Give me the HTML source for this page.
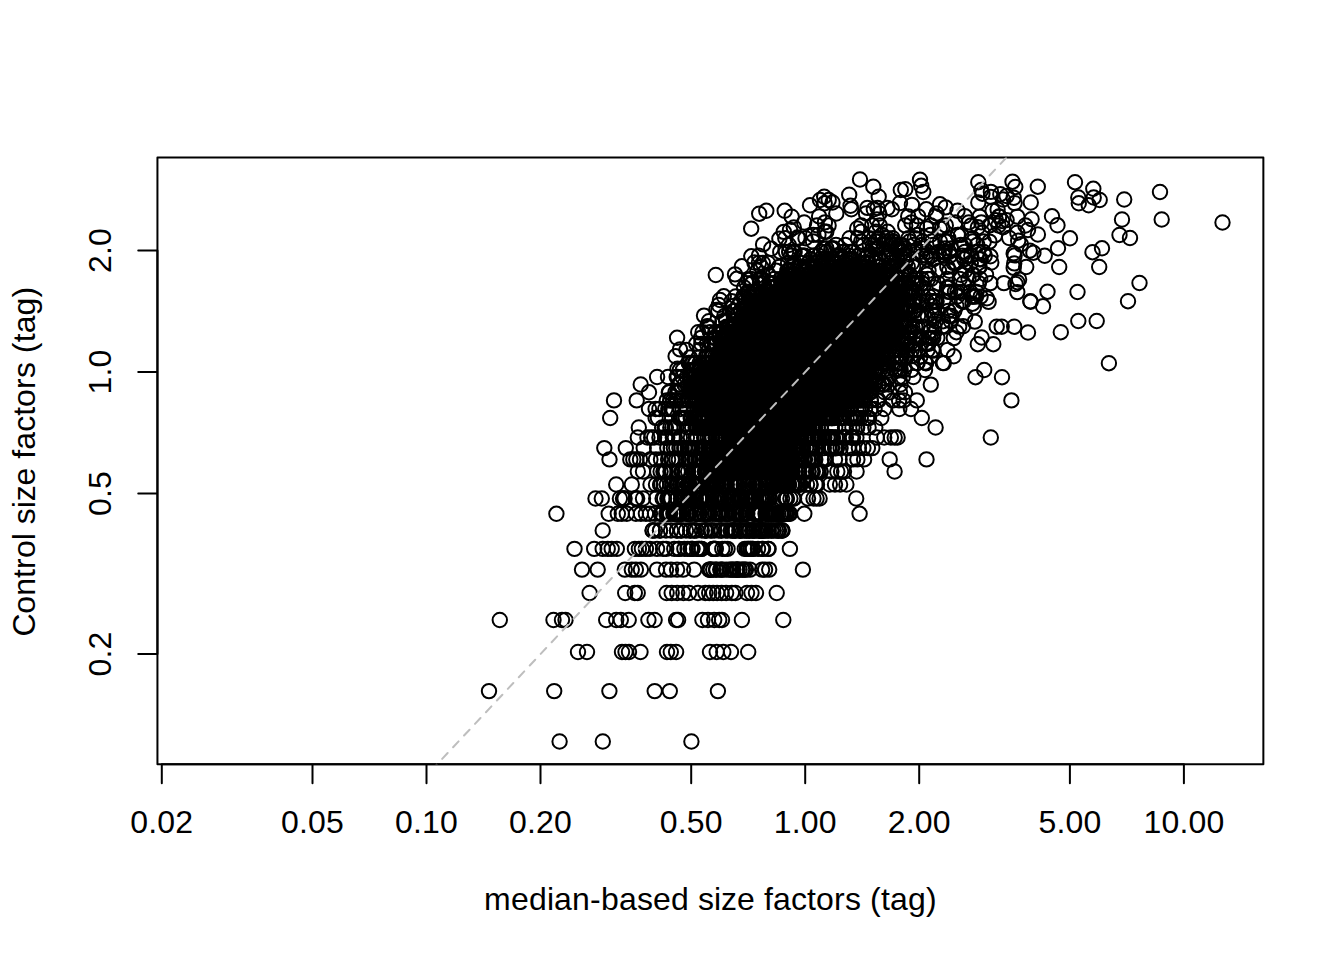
<!DOCTYPE html>
<html><head><meta charset="utf-8"><title>plot</title>
<style>html,body{margin:0;padding:0;background:#fff}svg{display:block}text{font-family:"Liberation Sans",sans-serif;font-size:32px;fill:#000}</style></head>
<body>
<svg width="1344" height="960" viewBox="0 0 1344 960">
<rect width="1344" height="960" fill="#fff"/>
<defs><clipPath id="c"><rect x="157.44" y="157.44" width="1105.92" height="606.72"/></clipPath></defs>
<polygon clip-path="url(#c)" points="689.7,388.0 867.1,388.0 870.5,376.6 870.9,375.4 871.4,374.4 872.0,373.3 882.0,358.3 882.7,357.4 883.5,356.5 900.6,339.4 903.1,318.6 903.1,318.2 905.7,301.4 899.8,286.7 889.6,276.5 876.7,268.8 863.4,263.5 849.9,260.3 815.9,267.6 795.6,273.4 781.6,278.4 768.5,291.5 767.5,292.3 766.5,293.1 765.4,293.7 754.5,299.2 750.3,306.2 749.6,307.1 748.9,308.1 748.1,308.9 738.2,317.9 727.0,334.7 726.9,334.8 711.9,356.8 711.2,357.7 710.5,358.5 699.3,369.7 690.5,382.4 689.7,388.0" fill="#000"/>
<g clip-path="url(#c)" fill="none" stroke="#000" stroke-width="2">
<path stroke-width="16.4" d="M704.0 471.5H795.0M709.0 459.4H795.0M714.0 448.1H798.0M724.0 437.5H802.0M704.0 427.5H814.0M706.0 418.0H816.0M706.0 409.0H846.0M706.0 400.4H857.0M706.0 392.3H864.0"/>
<circle cx="559.6" cy="741.5" r="7.2"/><circle cx="602.8" cy="741.5" r="7.2"/><circle cx="691.4" cy="741.5" r="7.2"/><circle cx="489.0" cy="691.1" r="7.2"/><circle cx="554.2" cy="691.1" r="7.2"/><circle cx="609.4" cy="691.1" r="7.2"/><circle cx="654.7" cy="691.1" r="7.2"/><circle cx="669.8" cy="691.1" r="7.2"/><circle cx="717.9" cy="691.1" r="7.2"/><circle cx="578.0" cy="652.0" r="7.2"/><circle cx="587.0" cy="652.0" r="7.2"/><circle cx="622.0" cy="652.0" r="7.2"/><circle cx="625.5" cy="652.0" r="7.2"/><circle cx="629.0" cy="652.0" r="7.2"/><circle cx="640.5" cy="652.0" r="7.2"/><circle cx="667.0" cy="652.0" r="7.2"/><circle cx="670.8" cy="652.0" r="7.2"/><circle cx="676.1" cy="652.0" r="7.2"/><circle cx="710.0" cy="652.0" r="7.2"/><circle cx="716.7" cy="652.0" r="7.2"/><circle cx="723.3" cy="652.0" r="7.2"/><circle cx="731.0" cy="652.0" r="7.2"/><circle cx="748.2" cy="652.0" r="7.2"/><circle cx="499.8" cy="620.0" r="7.2"/><circle cx="553.5" cy="620.0" r="7.2"/><circle cx="562.0" cy="620.0" r="7.2"/><circle cx="565.5" cy="620.0" r="7.2"/><circle cx="606.2" cy="620.0" r="7.2"/><circle cx="616.2" cy="620.0" r="7.2"/><circle cx="620.8" cy="620.0" r="7.2"/><circle cx="628.7" cy="620.0" r="7.2"/><circle cx="648.4" cy="620.0" r="7.2"/><circle cx="654.6" cy="620.0" r="7.2"/><circle cx="676.1" cy="620.0" r="7.2"/><circle cx="678.1" cy="620.0" r="7.2"/><circle cx="702.4" cy="620.0" r="7.2"/><circle cx="708.0" cy="620.0" r="7.2"/><circle cx="714.2" cy="620.0" r="7.2"/><circle cx="719.2" cy="620.0" r="7.2"/><circle cx="722.0" cy="620.0" r="7.2"/><circle cx="741.9" cy="620.0" r="7.2"/><circle cx="783.3" cy="620.0" r="7.2"/><circle cx="589.6" cy="593.0" r="7.2"/><circle cx="625.2" cy="593.0" r="7.2"/><circle cx="634.8" cy="593.0" r="7.2"/><circle cx="637.7" cy="593.0" r="7.2"/><circle cx="666.6" cy="593.0" r="7.2"/><circle cx="671.7" cy="593.0" r="7.2"/><circle cx="677.2" cy="593.0" r="7.2"/><circle cx="683.4" cy="593.0" r="7.2"/><circle cx="689.0" cy="593.0" r="7.2"/><circle cx="698.0" cy="593.0" r="7.2"/><circle cx="705.3" cy="593.0" r="7.2"/><circle cx="709.2" cy="593.0" r="7.2"/><circle cx="713.2" cy="593.0" r="7.2"/><circle cx="717.1" cy="593.0" r="7.2"/><circle cx="721.6" cy="593.0" r="7.2"/><circle cx="726.1" cy="593.0" r="7.2"/><circle cx="731.8" cy="593.0" r="7.2"/><circle cx="735.4" cy="593.0" r="7.2"/><circle cx="747.0" cy="593.0" r="7.2"/><circle cx="751.5" cy="593.0" r="7.2"/><circle cx="756.0" cy="593.0" r="7.2"/><circle cx="776.7" cy="593.0" r="7.2"/><circle cx="582.0" cy="569.6" r="7.2"/><circle cx="597.7" cy="569.6" r="7.2"/><circle cx="624.8" cy="569.6" r="7.2"/><circle cx="631.8" cy="569.6" r="7.2"/><circle cx="635.9" cy="569.6" r="7.2"/><circle cx="640.9" cy="569.6" r="7.2"/><circle cx="657.0" cy="569.6" r="7.2"/><circle cx="666.0" cy="569.6" r="7.2"/><circle cx="671.0" cy="569.6" r="7.2"/><circle cx="677.1" cy="569.6" r="7.2"/><circle cx="683.1" cy="569.6" r="7.2"/><circle cx="694.2" cy="569.6" r="7.2"/><circle cx="709.2" cy="569.6" r="7.2"/><circle cx="746.0" cy="569.6" r="7.2"/><circle cx="750.0" cy="569.6" r="7.2"/><circle cx="762.1" cy="569.6" r="7.2"/><circle cx="765.1" cy="569.6" r="7.2"/><circle cx="769.2" cy="569.6" r="7.2"/><circle cx="802.9" cy="569.6" r="7.2"/><circle cx="574.5" cy="548.9" r="7.2"/><circle cx="594.2" cy="548.9" r="7.2"/><circle cx="602.7" cy="548.9" r="7.2"/><circle cx="607.7" cy="548.9" r="7.2"/><circle cx="611.7" cy="548.9" r="7.2"/><circle cx="616.8" cy="548.9" r="7.2"/><circle cx="634.9" cy="548.9" r="7.2"/><circle cx="638.9" cy="548.9" r="7.2"/><circle cx="641.9" cy="548.9" r="7.2"/><circle cx="645.9" cy="548.9" r="7.2"/><circle cx="649.9" cy="548.9" r="7.2"/><circle cx="657.0" cy="548.9" r="7.2"/><circle cx="748.0" cy="548.9" r="7.2"/><circle cx="753.0" cy="548.9" r="7.2"/><circle cx="758.0" cy="548.9" r="7.2"/><circle cx="763.0" cy="548.9" r="7.2"/><circle cx="768.0" cy="548.9" r="7.2"/><circle cx="789.9" cy="548.9" r="7.2"/><circle cx="602.7" cy="530.5" r="7.2"/><circle cx="655.0" cy="530.5" r="7.2"/><circle cx="660.0" cy="530.5" r="7.2"/><circle cx="666.0" cy="530.5" r="7.2"/><circle cx="671.0" cy="530.5" r="7.2"/><circle cx="677.0" cy="530.5" r="7.2"/><circle cx="681.0" cy="530.5" r="7.2"/><circle cx="686.0" cy="530.5" r="7.2"/><circle cx="768.0" cy="530.5" r="7.2"/><circle cx="772.0" cy="530.5" r="7.2"/><circle cx="776.0" cy="530.5" r="7.2"/><circle cx="779.0" cy="530.5" r="7.2"/><circle cx="782.2" cy="530.5" r="7.2"/><circle cx="556.4" cy="513.8" r="7.2"/><circle cx="608.7" cy="513.8" r="7.2"/><circle cx="617.8" cy="513.8" r="7.2"/><circle cx="621.8" cy="513.8" r="7.2"/><circle cx="626.8" cy="513.8" r="7.2"/><circle cx="635.9" cy="513.8" r="7.2"/><circle cx="640.9" cy="513.8" r="7.2"/><circle cx="645.9" cy="513.8" r="7.2"/><circle cx="649.9" cy="513.8" r="7.2"/><circle cx="655.0" cy="513.8" r="7.2"/><circle cx="783.0" cy="513.8" r="7.2"/><circle cx="787.0" cy="513.8" r="7.2"/><circle cx="790.0" cy="513.8" r="7.2"/><circle cx="804.3" cy="513.8" r="7.2"/><circle cx="859.6" cy="513.8" r="7.2"/><circle cx="595.5" cy="498.5" r="7.2"/><circle cx="601.8" cy="498.5" r="7.2"/><circle cx="619.9" cy="498.5" r="7.2"/><circle cx="623.0" cy="498.5" r="7.2"/><circle cx="623.8" cy="498.5" r="7.2"/><circle cx="624.6" cy="498.5" r="7.2"/><circle cx="635.6" cy="498.5" r="7.2"/><circle cx="636.4" cy="498.5" r="7.2"/><circle cx="637.2" cy="498.5" r="7.2"/><circle cx="643.0" cy="498.5" r="7.2"/><circle cx="656.2" cy="498.5" r="7.2"/><circle cx="808.0" cy="498.5" r="7.2"/><circle cx="813.5" cy="498.5" r="7.2"/><circle cx="816.6" cy="498.5" r="7.2"/><circle cx="819.6" cy="498.5" r="7.2"/><circle cx="856.2" cy="498.5" r="7.2"/><circle cx="616.2" cy="484.5" r="7.2"/><circle cx="631.8" cy="484.5" r="7.2"/><circle cx="650.5" cy="484.5" r="7.2"/><circle cx="656.0" cy="484.5" r="7.2"/><circle cx="829.8" cy="484.5" r="7.2"/><circle cx="835.0" cy="484.5" r="7.2"/><circle cx="840.1" cy="484.5" r="7.2"/><circle cx="846.4" cy="484.5" r="7.2"/><circle cx="637.8" cy="471.5" r="7.2"/><circle cx="643.0" cy="471.5" r="7.2"/><circle cx="831.4" cy="471.5" r="7.2"/><circle cx="837.3" cy="471.5" r="7.2"/><circle cx="841.1" cy="471.5" r="7.2"/><circle cx="844.0" cy="471.5" r="7.2"/><circle cx="856.6" cy="471.5" r="7.2"/><circle cx="894.6" cy="471.5" r="7.2"/><circle cx="609.5" cy="459.4" r="7.2"/><circle cx="630.3" cy="459.4" r="7.2"/><circle cx="633.3" cy="459.4" r="7.2"/><circle cx="636.3" cy="459.4" r="7.2"/><circle cx="640.0" cy="459.4" r="7.2"/><circle cx="650.4" cy="459.4" r="7.2"/><circle cx="835.0" cy="459.4" r="7.2"/><circle cx="839.6" cy="459.4" r="7.2"/><circle cx="853.0" cy="459.4" r="7.2"/><circle cx="857.4" cy="459.4" r="7.2"/><circle cx="864.1" cy="459.4" r="7.2"/><circle cx="889.7" cy="459.4" r="7.2"/><circle cx="926.5" cy="459.4" r="7.2"/><circle cx="604.3" cy="448.1" r="7.2"/><circle cx="625.8" cy="448.1" r="7.2"/><circle cx="643.7" cy="448.1" r="7.2"/><circle cx="657.1" cy="448.1" r="7.2"/><circle cx="848.5" cy="448.1" r="7.2"/><circle cx="853.0" cy="448.1" r="7.2"/><circle cx="858.9" cy="448.1" r="7.2"/><circle cx="863.4" cy="448.1" r="7.2"/><circle cx="867.9" cy="448.1" r="7.2"/><circle cx="872.3" cy="448.1" r="7.2"/><circle cx="637.8" cy="437.5" r="7.2"/><circle cx="647.4" cy="437.5" r="7.2"/><circle cx="651.2" cy="437.5" r="7.2"/><circle cx="654.1" cy="437.5" r="7.2"/><circle cx="659.4" cy="437.5" r="7.2"/><circle cx="665.3" cy="437.5" r="7.2"/><circle cx="876.8" cy="437.5" r="7.2"/><circle cx="884.2" cy="437.5" r="7.2"/><circle cx="890.9" cy="437.5" r="7.2"/><circle cx="894.7" cy="437.5" r="7.2"/><circle cx="897.6" cy="437.5" r="7.2"/><circle cx="990.8" cy="437.5" r="7.2"/><circle cx="638.8" cy="427.5" r="7.2"/><circle cx="863.4" cy="427.5" r="7.2"/><circle cx="868.6" cy="427.5" r="7.2"/><circle cx="875.3" cy="427.5" r="7.2"/><circle cx="935.6" cy="427.5" r="7.2"/><circle cx="610.2" cy="418.0" r="7.2"/><circle cx="655.6" cy="418.0" r="7.2"/><circle cx="657.9" cy="418.0" r="7.2"/><circle cx="881.3" cy="418.0" r="7.2"/><circle cx="921.8" cy="418.0" r="7.2"/><circle cx="649.0" cy="409.0" r="7.2"/><circle cx="655.6" cy="409.0" r="7.2"/><circle cx="659.4" cy="409.0" r="7.2"/><circle cx="665.3" cy="409.0" r="7.2"/><circle cx="884.2" cy="409.0" r="7.2"/><circle cx="899.3" cy="409.0" r="7.2"/><circle cx="911.0" cy="409.0" r="7.2"/><circle cx="614.0" cy="400.4" r="7.2"/><circle cx="636.7" cy="400.4" r="7.2"/><circle cx="666.8" cy="400.4" r="7.2"/><circle cx="893.0" cy="400.4" r="7.2"/><circle cx="899.1" cy="400.4" r="7.2"/><circle cx="903.6" cy="400.4" r="7.2"/><circle cx="916.8" cy="400.4" r="7.2"/><circle cx="1011.4" cy="400.4" r="7.2"/><circle cx="649.0" cy="392.3" r="7.2"/><circle cx="900.0" cy="392.3" r="7.2"/><circle cx="905.0" cy="392.3" r="7.2"/><circle cx="710.1" cy="569.6" r="7.2"/><circle cx="710.4" cy="569.6" r="7.2"/><circle cx="710.7" cy="569.6" r="7.2"/><circle cx="713.2" cy="569.6" r="7.2"/><circle cx="716.0" cy="569.6" r="7.2"/><circle cx="716.4" cy="569.6" r="7.2"/><circle cx="720.2" cy="569.6" r="7.2"/><circle cx="721.7" cy="569.6" r="7.2"/><circle cx="722.4" cy="569.6" r="7.2"/><circle cx="726.1" cy="569.6" r="7.2"/><circle cx="729.4" cy="569.6" r="7.2"/><circle cx="730.9" cy="569.6" r="7.2"/><circle cx="732.7" cy="569.6" r="7.2"/><circle cx="733.3" cy="569.6" r="7.2"/><circle cx="736.3" cy="569.6" r="7.2"/><circle cx="736.8" cy="569.6" r="7.2"/><circle cx="737.1" cy="569.6" r="7.2"/><circle cx="737.7" cy="569.6" r="7.2"/><circle cx="739.6" cy="569.6" r="7.2"/><circle cx="742.0" cy="569.6" r="7.2"/><circle cx="743.0" cy="569.6" r="7.2"/><circle cx="744.9" cy="569.6" r="7.2"/><circle cx="663.1" cy="548.9" r="7.2"/><circle cx="666.2" cy="548.9" r="7.2"/><circle cx="674.3" cy="548.9" r="7.2"/><circle cx="678.7" cy="548.9" r="7.2"/><circle cx="679.0" cy="548.9" r="7.2"/><circle cx="684.4" cy="548.9" r="7.2"/><circle cx="687.6" cy="548.9" r="7.2"/><circle cx="690.8" cy="548.9" r="7.2"/><circle cx="692.1" cy="548.9" r="7.2"/><circle cx="692.5" cy="548.9" r="7.2"/><circle cx="697.1" cy="548.9" r="7.2"/><circle cx="698.9" cy="548.9" r="7.2"/><circle cx="699.3" cy="548.9" r="7.2"/><circle cx="701.3" cy="548.9" r="7.2"/><circle cx="701.6" cy="548.9" r="7.2"/><circle cx="713.0" cy="548.9" r="7.2"/><circle cx="713.5" cy="548.9" r="7.2"/><circle cx="713.8" cy="548.9" r="7.2"/><circle cx="714.8" cy="548.9" r="7.2"/><circle cx="715.3" cy="548.9" r="7.2"/><circle cx="715.8" cy="548.9" r="7.2"/><circle cx="722.3" cy="548.9" r="7.2"/><circle cx="724.9" cy="548.9" r="7.2"/><circle cx="727.5" cy="548.9" r="7.2"/><circle cx="744.8" cy="548.9" r="7.2"/><circle cx="746.7" cy="548.9" r="7.2"/><circle cx="748.8" cy="548.9" r="7.2"/><circle cx="750.4" cy="548.9" r="7.2"/><circle cx="750.9" cy="548.9" r="7.2"/><circle cx="752.4" cy="548.9" r="7.2"/><circle cx="762.0" cy="548.9" r="7.2"/><circle cx="768.6" cy="548.9" r="7.2"/><circle cx="652.5" cy="530.5" r="7.2"/><circle cx="652.8" cy="530.5" r="7.2"/><circle cx="660.0" cy="530.5" r="7.2"/><circle cx="677.0" cy="530.5" r="7.2"/><circle cx="681.2" cy="530.5" r="7.2"/><circle cx="690.1" cy="530.5" r="7.2"/><circle cx="690.4" cy="530.5" r="7.2"/><circle cx="694.0" cy="530.5" r="7.2"/><circle cx="694.3" cy="530.5" r="7.2"/><circle cx="696.6" cy="530.5" r="7.2"/><circle cx="701.9" cy="530.5" r="7.2"/><circle cx="705.0" cy="530.5" r="7.2"/><circle cx="705.8" cy="530.5" r="7.2"/><circle cx="706.5" cy="530.5" r="7.2"/><circle cx="710.2" cy="530.5" r="7.2"/><circle cx="711.8" cy="530.5" r="7.2"/><circle cx="714.4" cy="530.5" r="7.2"/><circle cx="718.6" cy="530.5" r="7.2"/><circle cx="721.1" cy="530.5" r="7.2"/><circle cx="721.6" cy="530.5" r="7.2"/><circle cx="725.8" cy="530.5" r="7.2"/><circle cx="727.4" cy="530.5" r="7.2"/><circle cx="730.7" cy="530.5" r="7.2"/><circle cx="732.1" cy="530.5" r="7.2"/><circle cx="733.0" cy="530.5" r="7.2"/><circle cx="734.8" cy="530.5" r="7.2"/><circle cx="735.1" cy="530.5" r="7.2"/><circle cx="735.7" cy="530.5" r="7.2"/><circle cx="739.4" cy="530.5" r="7.2"/><circle cx="739.8" cy="530.5" r="7.2"/><circle cx="740.4" cy="530.5" r="7.2"/><circle cx="740.7" cy="530.5" r="7.2"/><circle cx="742.9" cy="530.5" r="7.2"/><circle cx="744.6" cy="530.5" r="7.2"/><circle cx="746.2" cy="530.5" r="7.2"/><circle cx="746.6" cy="530.5" r="7.2"/><circle cx="748.9" cy="530.5" r="7.2"/><circle cx="749.3" cy="530.5" r="7.2"/><circle cx="749.6" cy="530.5" r="7.2"/><circle cx="752.1" cy="530.5" r="7.2"/><circle cx="752.9" cy="530.5" r="7.2"/><circle cx="754.0" cy="530.5" r="7.2"/><circle cx="754.3" cy="530.5" r="7.2"/><circle cx="756.2" cy="530.5" r="7.2"/><circle cx="758.2" cy="530.5" r="7.2"/><circle cx="759.4" cy="530.5" r="7.2"/><circle cx="760.1" cy="530.5" r="7.2"/><circle cx="760.4" cy="530.5" r="7.2"/><circle cx="760.7" cy="530.5" r="7.2"/><circle cx="761.3" cy="530.5" r="7.2"/><circle cx="761.6" cy="530.5" r="7.2"/><circle cx="762.9" cy="530.5" r="7.2"/><circle cx="763.2" cy="530.5" r="7.2"/><circle cx="764.9" cy="530.5" r="7.2"/><circle cx="766.0" cy="530.5" r="7.2"/><circle cx="768.7" cy="530.5" r="7.2"/><circle cx="771.2" cy="530.5" r="7.2"/><circle cx="773.8" cy="530.5" r="7.2"/><circle cx="777.9" cy="530.5" r="7.2"/><circle cx="778.2" cy="530.5" r="7.2"/><circle cx="781.4" cy="530.5" r="7.2"/><circle cx="782.5" cy="530.5" r="7.2"/><circle cx="660.7" cy="513.8" r="7.2"/><circle cx="661.3" cy="513.8" r="7.2"/><circle cx="661.6" cy="513.8" r="7.2"/><circle cx="662.1" cy="513.8" r="7.2"/><circle cx="666.4" cy="513.8" r="7.2"/><circle cx="667.5" cy="513.8" r="7.2"/><circle cx="668.6" cy="513.8" r="7.2"/><circle cx="670.1" cy="513.8" r="7.2"/><circle cx="673.3" cy="513.8" r="7.2"/><circle cx="674.4" cy="513.8" r="7.2"/><circle cx="675.0" cy="513.8" r="7.2"/><circle cx="675.3" cy="513.8" r="7.2"/><circle cx="676.8" cy="513.8" r="7.2"/><circle cx="677.8" cy="513.8" r="7.2"/><circle cx="678.1" cy="513.8" r="7.2"/><circle cx="679.5" cy="513.8" r="7.2"/><circle cx="680.1" cy="513.8" r="7.2"/><circle cx="680.5" cy="513.8" r="7.2"/><circle cx="682.8" cy="513.8" r="7.2"/><circle cx="686.9" cy="513.8" r="7.2"/><circle cx="687.4" cy="513.8" r="7.2"/><circle cx="688.4" cy="513.8" r="7.2"/><circle cx="688.9" cy="513.8" r="7.2"/><circle cx="689.2" cy="513.8" r="7.2"/><circle cx="692.0" cy="513.8" r="7.2"/><circle cx="695.3" cy="513.8" r="7.2"/><circle cx="696.9" cy="513.8" r="7.2"/><circle cx="697.2" cy="513.8" r="7.2"/><circle cx="699.3" cy="513.8" r="7.2"/><circle cx="700.0" cy="513.8" r="7.2"/><circle cx="703.5" cy="513.8" r="7.2"/><circle cx="704.1" cy="513.8" r="7.2"/><circle cx="704.4" cy="513.8" r="7.2"/><circle cx="707.2" cy="513.8" r="7.2"/><circle cx="708.4" cy="513.8" r="7.2"/><circle cx="709.9" cy="513.8" r="7.2"/><circle cx="712.9" cy="513.8" r="7.2"/><circle cx="715.3" cy="513.8" r="7.2"/><circle cx="717.4" cy="513.8" r="7.2"/><circle cx="718.7" cy="513.8" r="7.2"/><circle cx="719.0" cy="513.8" r="7.2"/><circle cx="720.5" cy="513.8" r="7.2"/><circle cx="722.1" cy="513.8" r="7.2"/><circle cx="724.9" cy="513.8" r="7.2"/><circle cx="726.5" cy="513.8" r="7.2"/><circle cx="728.3" cy="513.8" r="7.2"/><circle cx="728.6" cy="513.8" r="7.2"/><circle cx="729.1" cy="513.8" r="7.2"/><circle cx="734.0" cy="513.8" r="7.2"/><circle cx="735.1" cy="513.8" r="7.2"/><circle cx="736.4" cy="513.8" r="7.2"/><circle cx="736.7" cy="513.8" r="7.2"/><circle cx="738.3" cy="513.8" r="7.2"/><circle cx="739.1" cy="513.8" r="7.2"/><circle cx="741.5" cy="513.8" r="7.2"/><circle cx="741.8" cy="513.8" r="7.2"/><circle cx="742.8" cy="513.8" r="7.2"/><circle cx="745.1" cy="513.8" r="7.2"/><circle cx="746.0" cy="513.8" r="7.2"/><circle cx="746.4" cy="513.8" r="7.2"/><circle cx="747.3" cy="513.8" r="7.2"/><circle cx="753.3" cy="513.8" r="7.2"/><circle cx="754.0" cy="513.8" r="7.2"/><circle cx="754.3" cy="513.8" r="7.2"/><circle cx="756.1" cy="513.8" r="7.2"/><circle cx="757.2" cy="513.8" r="7.2"/><circle cx="757.8" cy="513.8" r="7.2"/><circle cx="758.9" cy="513.8" r="7.2"/><circle cx="760.0" cy="513.8" r="7.2"/><circle cx="760.3" cy="513.8" r="7.2"/><circle cx="760.6" cy="513.8" r="7.2"/><circle cx="760.9" cy="513.8" r="7.2"/><circle cx="765.5" cy="513.8" r="7.2"/><circle cx="766.6" cy="513.8" r="7.2"/><circle cx="767.8" cy="513.8" r="7.2"/><circle cx="769.3" cy="513.8" r="7.2"/><circle cx="769.9" cy="513.8" r="7.2"/><circle cx="770.6" cy="513.8" r="7.2"/><circle cx="772.2" cy="513.8" r="7.2"/><circle cx="773.8" cy="513.8" r="7.2"/><circle cx="774.4" cy="513.8" r="7.2"/><circle cx="774.7" cy="513.8" r="7.2"/><circle cx="775.0" cy="513.8" r="7.2"/><circle cx="776.2" cy="513.8" r="7.2"/><circle cx="776.8" cy="513.8" r="7.2"/><circle cx="778.3" cy="513.8" r="7.2"/><circle cx="780.6" cy="513.8" r="7.2"/><circle cx="780.9" cy="513.8" r="7.2"/><circle cx="781.6" cy="513.8" r="7.2"/><circle cx="783.5" cy="513.8" r="7.2"/><circle cx="785.1" cy="513.8" r="7.2"/><circle cx="786.5" cy="513.8" r="7.2"/><circle cx="788.8" cy="513.8" r="7.2"/><circle cx="662.6" cy="498.5" r="7.2"/><circle cx="664.1" cy="498.5" r="7.2"/><circle cx="667.3" cy="498.5" r="7.2"/><circle cx="668.6" cy="498.5" r="7.2"/><circle cx="670.2" cy="498.5" r="7.2"/><circle cx="671.4" cy="498.5" r="7.2"/><circle cx="676.6" cy="498.5" r="7.2"/><circle cx="677.2" cy="498.5" r="7.2"/><circle cx="677.5" cy="498.5" r="7.2"/><circle cx="681.1" cy="498.5" r="7.2"/><circle cx="682.5" cy="498.5" r="7.2"/><circle cx="683.7" cy="498.5" r="7.2"/><circle cx="684.6" cy="498.5" r="7.2"/><circle cx="685.2" cy="498.5" r="7.2"/><circle cx="685.5" cy="498.5" r="7.2"/><circle cx="687.1" cy="498.5" r="7.2"/><circle cx="688.5" cy="498.5" r="7.2"/><circle cx="689.2" cy="498.5" r="7.2"/><circle cx="689.9" cy="498.5" r="7.2"/><circle cx="690.2" cy="498.5" r="7.2"/><circle cx="691.7" cy="498.5" r="7.2"/><circle cx="693.4" cy="498.5" r="7.2"/><circle cx="694.3" cy="498.5" r="7.2"/><circle cx="695.8" cy="498.5" r="7.2"/><circle cx="699.0" cy="498.5" r="7.2"/><circle cx="699.4" cy="498.5" r="7.2"/><circle cx="699.7" cy="498.5" r="7.2"/><circle cx="700.1" cy="498.5" r="7.2"/><circle cx="700.4" cy="498.5" r="7.2"/><circle cx="700.9" cy="498.5" r="7.2"/><circle cx="702.0" cy="498.5" r="7.2"/><circle cx="702.5" cy="498.5" r="7.2"/><circle cx="702.8" cy="498.5" r="7.2"/><circle cx="706.0" cy="498.5" r="7.2"/><circle cx="706.3" cy="498.5" r="7.2"/><circle cx="706.6" cy="498.5" r="7.2"/><circle cx="706.9" cy="498.5" r="7.2"/><circle cx="708.6" cy="498.5" r="7.2"/><circle cx="708.9" cy="498.5" r="7.2"/><circle cx="709.4" cy="498.5" r="7.2"/><circle cx="713.6" cy="498.5" r="7.2"/><circle cx="715.9" cy="498.5" r="7.2"/><circle cx="716.6" cy="498.5" r="7.2"/><circle cx="717.0" cy="498.5" r="7.2"/><circle cx="718.6" cy="498.5" r="7.2"/><circle cx="719.1" cy="498.5" r="7.2"/><circle cx="720.1" cy="498.5" r="7.2"/><circle cx="720.7" cy="498.5" r="7.2"/><circle cx="721.8" cy="498.5" r="7.2"/><circle cx="722.1" cy="498.5" r="7.2"/><circle cx="723.9" cy="498.5" r="7.2"/><circle cx="725.0" cy="498.5" r="7.2"/><circle cx="725.6" cy="498.5" r="7.2"/><circle cx="728.6" cy="498.5" r="7.2"/><circle cx="730.8" cy="498.5" r="7.2"/><circle cx="731.6" cy="498.5" r="7.2"/><circle cx="732.6" cy="498.5" r="7.2"/><circle cx="732.9" cy="498.5" r="7.2"/><circle cx="733.4" cy="498.5" r="7.2"/><circle cx="733.7" cy="498.5" r="7.2"/><circle cx="734.3" cy="498.5" r="7.2"/><circle cx="734.8" cy="498.5" r="7.2"/><circle cx="737.9" cy="498.5" r="7.2"/><circle cx="739.3" cy="498.5" r="7.2"/><circle cx="739.6" cy="498.5" r="7.2"/><circle cx="740.4" cy="498.5" r="7.2"/><circle cx="741.6" cy="498.5" r="7.2"/><circle cx="741.9" cy="498.5" r="7.2"/><circle cx="742.3" cy="498.5" r="7.2"/><circle cx="742.8" cy="498.5" r="7.2"/><circle cx="745.2" cy="498.5" r="7.2"/><circle cx="745.9" cy="498.5" r="7.2"/><circle cx="747.7" cy="498.5" r="7.2"/><circle cx="748.0" cy="498.5" r="7.2"/><circle cx="748.6" cy="498.5" r="7.2"/><circle cx="749.9" cy="498.5" r="7.2"/><circle cx="750.8" cy="498.5" r="7.2"/><circle cx="751.1" cy="498.5" r="7.2"/><circle cx="752.0" cy="498.5" r="7.2"/><circle cx="752.4" cy="498.5" r="7.2"/><circle cx="752.8" cy="498.5" r="7.2"/><circle cx="753.1" cy="498.5" r="7.2"/><circle cx="753.9" cy="498.5" r="7.2"/><circle cx="754.6" cy="498.5" r="7.2"/><circle cx="755.4" cy="498.5" r="7.2"/><circle cx="755.8" cy="498.5" r="7.2"/><circle cx="758.6" cy="498.5" r="7.2"/><circle cx="758.9" cy="498.5" r="7.2"/><circle cx="760.5" cy="498.5" r="7.2"/><circle cx="761.6" cy="498.5" r="7.2"/><circle cx="762.9" cy="498.5" r="7.2"/><circle cx="763.3" cy="498.5" r="7.2"/><circle cx="764.7" cy="498.5" r="7.2"/><circle cx="766.1" cy="498.5" r="7.2"/><circle cx="766.7" cy="498.5" r="7.2"/><circle cx="768.4" cy="498.5" r="7.2"/><circle cx="768.7" cy="498.5" r="7.2"/><circle cx="770.1" cy="498.5" r="7.2"/><circle cx="778.8" cy="498.5" r="7.2"/><circle cx="782.1" cy="498.5" r="7.2"/><circle cx="785.3" cy="498.5" r="7.2"/><circle cx="786.6" cy="498.5" r="7.2"/><circle cx="786.9" cy="498.5" r="7.2"/><circle cx="790.4" cy="498.5" r="7.2"/><circle cx="793.2" cy="498.5" r="7.2"/><circle cx="794.1" cy="498.5" r="7.2"/><circle cx="660.1" cy="484.5" r="7.2"/><circle cx="660.4" cy="484.5" r="7.2"/><circle cx="661.3" cy="484.5" r="7.2"/><circle cx="663.8" cy="484.5" r="7.2"/><circle cx="666.8" cy="484.5" r="7.2"/><circle cx="670.3" cy="484.5" r="7.2"/><circle cx="670.6" cy="484.5" r="7.2"/><circle cx="672.3" cy="484.5" r="7.2"/><circle cx="676.6" cy="484.5" r="7.2"/><circle cx="677.9" cy="484.5" r="7.2"/><circle cx="680.0" cy="484.5" r="7.2"/><circle cx="680.7" cy="484.5" r="7.2"/><circle cx="682.5" cy="484.5" r="7.2"/><circle cx="683.2" cy="484.5" r="7.2"/><circle cx="683.5" cy="484.5" r="7.2"/><circle cx="684.3" cy="484.5" r="7.2"/><circle cx="684.6" cy="484.5" r="7.2"/><circle cx="687.5" cy="484.5" r="7.2"/><circle cx="688.7" cy="484.5" r="7.2"/><circle cx="689.1" cy="484.5" r="7.2"/><circle cx="689.4" cy="484.5" r="7.2"/><circle cx="692.2" cy="484.5" r="7.2"/><circle cx="695.4" cy="484.5" r="7.2"/><circle cx="696.3" cy="484.5" r="7.2"/><circle cx="696.9" cy="484.5" r="7.2"/><circle cx="698.1" cy="484.5" r="7.2"/><circle cx="699.3" cy="484.5" r="7.2"/><circle cx="699.7" cy="484.5" r="7.2"/><circle cx="700.0" cy="484.5" r="7.2"/><circle cx="700.0" cy="484.5" r="7.2"/><circle cx="700.8" cy="484.5" r="7.2"/><circle cx="701.5" cy="484.5" r="7.2"/><circle cx="705.1" cy="484.5" r="7.2"/><circle cx="705.4" cy="484.5" r="7.2"/><circle cx="706.3" cy="484.5" r="7.2"/><circle cx="706.6" cy="484.5" r="7.2"/><circle cx="706.9" cy="484.5" r="7.2"/><circle cx="708.0" cy="484.5" r="7.2"/><circle cx="708.9" cy="484.5" r="7.2"/><circle cx="710.5" cy="484.5" r="7.2"/><circle cx="710.8" cy="484.5" r="7.2"/><circle cx="712.7" cy="484.5" r="7.2"/><circle cx="713.2" cy="484.5" r="7.2"/><circle cx="714.9" cy="484.5" r="7.2"/><circle cx="715.8" cy="484.5" r="7.2"/><circle cx="716.7" cy="484.5" r="7.2"/><circle cx="717.2" cy="484.5" r="7.2"/><circle cx="717.8" cy="484.5" r="7.2"/><circle cx="721.1" cy="484.5" r="7.2"/><circle cx="722.4" cy="484.5" r="7.2"/><circle cx="722.7" cy="484.5" r="7.2"/><circle cx="723.0" cy="484.5" r="7.2"/><circle cx="723.7" cy="484.5" r="7.2"/><circle cx="724.3" cy="484.5" r="7.2"/><circle cx="724.8" cy="484.5" r="7.2"/><circle cx="725.3" cy="484.5" r="7.2"/><circle cx="725.6" cy="484.5" r="7.2"/><circle cx="726.8" cy="484.5" r="7.2"/><circle cx="730.3" cy="484.5" r="7.2"/><circle cx="731.4" cy="484.5" r="7.2"/><circle cx="732.2" cy="484.5" r="7.2"/><circle cx="734.2" cy="484.5" r="7.2"/><circle cx="734.5" cy="484.5" r="7.2"/><circle cx="736.9" cy="484.5" r="7.2"/><circle cx="737.2" cy="484.5" r="7.2"/><circle cx="737.7" cy="484.5" r="7.2"/><circle cx="739.8" cy="484.5" r="7.2"/><circle cx="740.2" cy="484.5" r="7.2"/><circle cx="743.6" cy="484.5" r="7.2"/><circle cx="744.3" cy="484.5" r="7.2"/><circle cx="744.6" cy="484.5" r="7.2"/><circle cx="744.9" cy="484.5" r="7.2"/><circle cx="747.3" cy="484.5" r="7.2"/><circle cx="747.7" cy="484.5" r="7.2"/><circle cx="748.3" cy="484.5" r="7.2"/><circle cx="749.3" cy="484.5" r="7.2"/><circle cx="752.6" cy="484.5" r="7.2"/><circle cx="753.1" cy="484.5" r="7.2"/><circle cx="755.5" cy="484.5" r="7.2"/><circle cx="756.4" cy="484.5" r="7.2"/><circle cx="759.4" cy="484.5" r="7.2"/><circle cx="759.7" cy="484.5" r="7.2"/><circle cx="760.9" cy="484.5" r="7.2"/><circle cx="761.4" cy="484.5" r="7.2"/><circle cx="763.3" cy="484.5" r="7.2"/><circle cx="765.3" cy="484.5" r="7.2"/><circle cx="765.6" cy="484.5" r="7.2"/><circle cx="766.5" cy="484.5" r="7.2"/><circle cx="766.8" cy="484.5" r="7.2"/><circle cx="767.1" cy="484.5" r="7.2"/><circle cx="767.4" cy="484.5" r="7.2"/><circle cx="767.7" cy="484.5" r="7.2"/><circle cx="768.2" cy="484.5" r="7.2"/><circle cx="770.4" cy="484.5" r="7.2"/><circle cx="771.9" cy="484.5" r="7.2"/><circle cx="772.2" cy="484.5" r="7.2"/><circle cx="772.5" cy="484.5" r="7.2"/><circle cx="773.4" cy="484.5" r="7.2"/><circle cx="776.3" cy="484.5" r="7.2"/><circle cx="776.6" cy="484.5" r="7.2"/><circle cx="777.1" cy="484.5" r="7.2"/><circle cx="778.0" cy="484.5" r="7.2"/><circle cx="778.7" cy="484.5" r="7.2"/><circle cx="779.6" cy="484.5" r="7.2"/><circle cx="779.9" cy="484.5" r="7.2"/><circle cx="780.2" cy="484.5" r="7.2"/><circle cx="780.9" cy="484.5" r="7.2"/><circle cx="781.4" cy="484.5" r="7.2"/><circle cx="782.4" cy="484.5" r="7.2"/><circle cx="782.8" cy="484.5" r="7.2"/><circle cx="783.2" cy="484.5" r="7.2"/><circle cx="783.5" cy="484.5" r="7.2"/><circle cx="784.2" cy="484.5" r="7.2"/><circle cx="784.5" cy="484.5" r="7.2"/><circle cx="784.8" cy="484.5" r="7.2"/><circle cx="786.0" cy="484.5" r="7.2"/><circle cx="787.4" cy="484.5" r="7.2"/><circle cx="787.7" cy="484.5" r="7.2"/><circle cx="788.5" cy="484.5" r="7.2"/><circle cx="788.8" cy="484.5" r="7.2"/><circle cx="789.1" cy="484.5" r="7.2"/><circle cx="791.8" cy="484.5" r="7.2"/><circle cx="792.3" cy="484.5" r="7.2"/><circle cx="792.6" cy="484.5" r="7.2"/><circle cx="794.6" cy="484.5" r="7.2"/><circle cx="795.0" cy="484.5" r="7.2"/><circle cx="795.3" cy="484.5" r="7.2"/><circle cx="797.6" cy="484.5" r="7.2"/><circle cx="797.9" cy="484.5" r="7.2"/><circle cx="799.1" cy="484.5" r="7.2"/><circle cx="799.7" cy="484.5" r="7.2"/><circle cx="800.6" cy="484.5" r="7.2"/><circle cx="807.0" cy="484.5" r="7.2"/><circle cx="810.3" cy="484.5" r="7.2"/><circle cx="810.6" cy="484.5" r="7.2"/><circle cx="815.6" cy="484.5" r="7.2"/><circle cx="816.7" cy="484.5" r="7.2"/><circle cx="817.0" cy="484.5" r="7.2"/><circle cx="657.2" cy="471.5" r="7.2"/><circle cx="660.6" cy="471.5" r="7.2"/><circle cx="663.4" cy="471.5" r="7.2"/><circle cx="664.7" cy="471.5" r="7.2"/><circle cx="665.8" cy="471.5" r="7.2"/><circle cx="670.4" cy="471.5" r="7.2"/><circle cx="672.2" cy="471.5" r="7.2"/><circle cx="677.7" cy="471.5" r="7.2"/><circle cx="678.7" cy="471.5" r="7.2"/><circle cx="681.4" cy="471.5" r="7.2"/><circle cx="681.9" cy="471.5" r="7.2"/><circle cx="682.2" cy="471.5" r="7.2"/><circle cx="682.7" cy="471.5" r="7.2"/><circle cx="685.7" cy="471.5" r="7.2"/><circle cx="688.1" cy="471.5" r="7.2"/><circle cx="693.4" cy="471.5" r="7.2"/><circle cx="694.1" cy="471.5" r="7.2"/><circle cx="694.4" cy="471.5" r="7.2"/><circle cx="696.8" cy="471.5" r="7.2"/><circle cx="698.2" cy="471.5" r="7.2"/><circle cx="699.5" cy="471.5" r="7.2"/><circle cx="700.2" cy="471.5" r="7.2"/><circle cx="700.8" cy="471.5" r="7.2"/><circle cx="701.1" cy="471.5" r="7.2"/><circle cx="701.4" cy="471.5" r="7.2"/><circle cx="701.7" cy="471.5" r="7.2"/><circle cx="704.8" cy="471.5" r="7.2"/><circle cx="705.1" cy="471.5" r="7.2"/><circle cx="705.6" cy="471.5" r="7.2"/><circle cx="705.9" cy="471.5" r="7.2"/><circle cx="706.3" cy="471.5" r="7.2"/><circle cx="707.2" cy="471.5" r="7.2"/><circle cx="708.6" cy="471.5" r="7.2"/><circle cx="708.9" cy="471.5" r="7.2"/><circle cx="712.8" cy="471.5" r="7.2"/><circle cx="713.7" cy="471.5" r="7.2"/><circle cx="715.3" cy="471.5" r="7.2"/><circle cx="716.1" cy="471.5" r="7.2"/><circle cx="716.5" cy="471.5" r="7.2"/><circle cx="720.9" cy="471.5" r="7.2"/><circle cx="722.0" cy="471.5" r="7.2"/><circle cx="722.4" cy="471.5" r="7.2"/><circle cx="722.9" cy="471.5" r="7.2"/><circle cx="723.2" cy="471.5" r="7.2"/><circle cx="724.2" cy="471.5" r="7.2"/><circle cx="725.2" cy="471.5" r="7.2"/><circle cx="726.4" cy="471.5" r="7.2"/><circle cx="727.0" cy="471.5" r="7.2"/><circle cx="727.3" cy="471.5" r="7.2"/><circle cx="728.4" cy="471.5" r="7.2"/><circle cx="729.6" cy="471.5" r="7.2"/><circle cx="730.4" cy="471.5" r="7.2"/><circle cx="731.4" cy="471.5" r="7.2"/><circle cx="734.2" cy="471.5" r="7.2"/><circle cx="734.5" cy="471.5" r="7.2"/><circle cx="735.1" cy="471.5" r="7.2"/><circle cx="735.4" cy="471.5" r="7.2"/><circle cx="737.5" cy="471.5" r="7.2"/><circle cx="737.8" cy="471.5" r="7.2"/><circle cx="738.4" cy="471.5" r="7.2"/><circle cx="738.7" cy="471.5" r="7.2"/><circle cx="739.0" cy="471.5" r="7.2"/><circle cx="741.1" cy="471.5" r="7.2"/><circle cx="743.4" cy="471.5" r="7.2"/><circle cx="743.9" cy="471.5" r="7.2"/><circle cx="744.2" cy="471.5" r="7.2"/><circle cx="744.5" cy="471.5" r="7.2"/><circle cx="744.8" cy="471.5" r="7.2"/><circle cx="745.4" cy="471.5" r="7.2"/><circle cx="746.5" cy="471.5" r="7.2"/><circle cx="746.8" cy="471.5" r="7.2"/><circle cx="747.6" cy="471.5" r="7.2"/><circle cx="748.0" cy="471.5" r="7.2"/><circle cx="748.3" cy="471.5" r="7.2"/><circle cx="748.6" cy="471.5" r="7.2"/><circle cx="749.9" cy="471.5" r="7.2"/><circle cx="750.2" cy="471.5" r="7.2"/><circle cx="751.8" cy="471.5" r="7.2"/><circle cx="752.1" cy="471.5" r="7.2"/><circle cx="752.4" cy="471.5" r="7.2"/><circle cx="752.7" cy="471.5" r="7.2"/><circle cx="755.9" cy="471.5" r="7.2"/><circle cx="756.9" cy="471.5" r="7.2"/><circle cx="758.5" cy="471.5" r="7.2"/><circle cx="761.2" cy="471.5" r="7.2"/><circle cx="763.2" cy="471.5" r="7.2"/><circle cx="763.8" cy="471.5" r="7.2"/><circle cx="764.1" cy="471.5" r="7.2"/><circle cx="764.7" cy="471.5" r="7.2"/><circle cx="767.5" cy="471.5" r="7.2"/><circle cx="770.0" cy="471.5" r="7.2"/><circle cx="770.5" cy="471.5" r="7.2"/><circle cx="773.9" cy="471.5" r="7.2"/><circle cx="774.6" cy="471.5" r="7.2"/><circle cx="777.8" cy="471.5" r="7.2"/><circle cx="778.1" cy="471.5" r="7.2"/><circle cx="779.5" cy="471.5" r="7.2"/><circle cx="779.8" cy="471.5" r="7.2"/><circle cx="780.1" cy="471.5" r="7.2"/><circle cx="784.6" cy="471.5" r="7.2"/><circle cx="785.1" cy="471.5" r="7.2"/><circle cx="787.1" cy="471.5" r="7.2"/><circle cx="788.6" cy="471.5" r="7.2"/><circle cx="789.9" cy="471.5" r="7.2"/><circle cx="790.2" cy="471.5" r="7.2"/><circle cx="790.5" cy="471.5" r="7.2"/><circle cx="791.1" cy="471.5" r="7.2"/><circle cx="792.3" cy="471.5" r="7.2"/><circle cx="792.6" cy="471.5" r="7.2"/><circle cx="795.6" cy="471.5" r="7.2"/><circle cx="797.5" cy="471.5" r="7.2"/><circle cx="798.8" cy="471.5" r="7.2"/><circle cx="799.0" cy="471.5" r="7.2"/><circle cx="799.3" cy="471.5" r="7.2"/><circle cx="803.1" cy="471.5" r="7.2"/><circle cx="805.6" cy="471.5" r="7.2"/><circle cx="805.9" cy="471.5" r="7.2"/><circle cx="808.7" cy="471.5" r="7.2"/><circle cx="811.2" cy="471.5" r="7.2"/><circle cx="811.7" cy="471.5" r="7.2"/><circle cx="812.8" cy="471.5" r="7.2"/><circle cx="816.0" cy="471.5" r="7.2"/><circle cx="817.5" cy="471.5" r="7.2"/><circle cx="818.2" cy="471.5" r="7.2"/><circle cx="820.3" cy="471.5" r="7.2"/><circle cx="820.7" cy="471.5" r="7.2"/><circle cx="655.9" cy="459.4" r="7.2"/><circle cx="661.0" cy="459.4" r="7.2"/><circle cx="668.1" cy="459.4" r="7.2"/><circle cx="671.7" cy="459.4" r="7.2"/><circle cx="672.1" cy="459.4" r="7.2"/><circle cx="672.6" cy="459.4" r="7.2"/><circle cx="676.5" cy="459.4" r="7.2"/><circle cx="678.8" cy="459.4" r="7.2"/><circle cx="686.5" cy="459.4" r="7.2"/><circle cx="688.3" cy="459.4" r="7.2"/><circle cx="689.6" cy="459.4" r="7.2"/><circle cx="690.1" cy="459.4" r="7.2"/><circle cx="690.9" cy="459.4" r="7.2"/><circle cx="694.4" cy="459.4" r="7.2"/><circle cx="695.2" cy="459.4" r="7.2"/><circle cx="696.0" cy="459.4" r="7.2"/><circle cx="696.5" cy="459.4" r="7.2"/><circle cx="698.6" cy="459.4" r="7.2"/><circle cx="698.9" cy="459.4" r="7.2"/><circle cx="699.2" cy="459.4" r="7.2"/><circle cx="700.6" cy="459.4" r="7.2"/><circle cx="706.6" cy="459.4" r="7.2"/><circle cx="706.9" cy="459.4" r="7.2"/><circle cx="707.5" cy="459.4" r="7.2"/><circle cx="708.3" cy="459.4" r="7.2"/><circle cx="710.3" cy="459.4" r="7.2"/><circle cx="711.1" cy="459.4" r="7.2"/><circle cx="711.5" cy="459.4" r="7.2"/><circle cx="712.1" cy="459.4" r="7.2"/><circle cx="712.9" cy="459.4" r="7.2"/><circle cx="714.4" cy="459.4" r="7.2"/><circle cx="715.1" cy="459.4" r="7.2"/><circle cx="716.8" cy="459.4" r="7.2"/><circle cx="718.6" cy="459.4" r="7.2"/><circle cx="721.9" cy="459.4" r="7.2"/><circle cx="722.4" cy="459.4" r="7.2"/><circle cx="723.0" cy="459.4" r="7.2"/><circle cx="723.4" cy="459.4" r="7.2"/><circle cx="724.2" cy="459.4" r="7.2"/><circle cx="724.5" cy="459.4" r="7.2"/><circle cx="725.2" cy="459.4" r="7.2"/><circle cx="726.2" cy="459.4" r="7.2"/><circle cx="728.3" cy="459.4" r="7.2"/><circle cx="729.2" cy="459.4" r="7.2"/><circle cx="729.5" cy="459.4" r="7.2"/><circle cx="730.6" cy="459.4" r="7.2"/><circle cx="730.9" cy="459.4" r="7.2"/><circle cx="732.0" cy="459.4" r="7.2"/><circle cx="733.5" cy="459.4" r="7.2"/><circle cx="734.4" cy="459.4" r="7.2"/><circle cx="734.9" cy="459.4" r="7.2"/><circle cx="736.2" cy="459.4" r="7.2"/><circle cx="736.5" cy="459.4" r="7.2"/><circle cx="737.6" cy="459.4" r="7.2"/><circle cx="737.9" cy="459.4" r="7.2"/><circle cx="739.7" cy="459.4" r="7.2"/><circle cx="740.7" cy="459.4" r="7.2"/><circle cx="742.4" cy="459.4" r="7.2"/><circle cx="743.6" cy="459.4" r="7.2"/><circle cx="743.9" cy="459.4" r="7.2"/><circle cx="747.3" cy="459.4" r="7.2"/><circle cx="747.6" cy="459.4" r="7.2"/><circle cx="747.9" cy="459.4" r="7.2"/><circle cx="748.3" cy="459.4" r="7.2"/><circle cx="749.1" cy="459.4" r="7.2"/><circle cx="750.7" cy="459.4" r="7.2"/><circle cx="751.0" cy="459.4" r="7.2"/><circle cx="752.4" cy="459.4" r="7.2"/><circle cx="752.7" cy="459.4" r="7.2"/><circle cx="753.3" cy="459.4" r="7.2"/><circle cx="754.0" cy="459.4" r="7.2"/><circle cx="756.8" cy="459.4" r="7.2"/><circle cx="757.1" cy="459.4" r="7.2"/><circle cx="758.9" cy="459.4" r="7.2"/><circle cx="759.5" cy="459.4" r="7.2"/><circle cx="759.8" cy="459.4" r="7.2"/><circle cx="760.8" cy="459.4" r="7.2"/><circle cx="761.1" cy="459.4" r="7.2"/><circle cx="762.1" cy="459.4" r="7.2"/><circle cx="768.0" cy="459.4" r="7.2"/><circle cx="768.3" cy="459.4" r="7.2"/><circle cx="768.6" cy="459.4" r="7.2"/><circle cx="769.7" cy="459.4" r="7.2"/><circle cx="771.9" cy="459.4" r="7.2"/><circle cx="772.9" cy="459.4" r="7.2"/><circle cx="773.2" cy="459.4" r="7.2"/><circle cx="775.4" cy="459.4" r="7.2"/><circle cx="775.7" cy="459.4" r="7.2"/><circle cx="778.4" cy="459.4" r="7.2"/><circle cx="779.3" cy="459.4" r="7.2"/><circle cx="779.9" cy="459.4" r="7.2"/><circle cx="780.2" cy="459.4" r="7.2"/><circle cx="780.5" cy="459.4" r="7.2"/><circle cx="780.8" cy="459.4" r="7.2"/><circle cx="781.1" cy="459.4" r="7.2"/><circle cx="781.4" cy="459.4" r="7.2"/><circle cx="782.5" cy="459.4" r="7.2"/><circle cx="782.8" cy="459.4" r="7.2"/><circle cx="783.5" cy="459.4" r="7.2"/><circle cx="783.8" cy="459.4" r="7.2"/><circle cx="785.7" cy="459.4" r="7.2"/><circle cx="786.0" cy="459.4" r="7.2"/><circle cx="786.3" cy="459.4" r="7.2"/><circle cx="786.7" cy="459.4" r="7.2"/><circle cx="788.7" cy="459.4" r="7.2"/><circle cx="789.5" cy="459.4" r="7.2"/><circle cx="791.3" cy="459.4" r="7.2"/><circle cx="792.6" cy="459.4" r="7.2"/><circle cx="796.4" cy="459.4" r="7.2"/><circle cx="797.4" cy="459.4" r="7.2"/><circle cx="798.9" cy="459.4" r="7.2"/><circle cx="799.7" cy="459.4" r="7.2"/><circle cx="803.3" cy="459.4" r="7.2"/><circle cx="803.8" cy="459.4" r="7.2"/><circle cx="804.2" cy="459.4" r="7.2"/><circle cx="805.0" cy="459.4" r="7.2"/><circle cx="807.8" cy="459.4" r="7.2"/><circle cx="808.7" cy="459.4" r="7.2"/><circle cx="809.0" cy="459.4" r="7.2"/><circle cx="812.0" cy="459.4" r="7.2"/><circle cx="812.8" cy="459.4" r="7.2"/><circle cx="814.3" cy="459.4" r="7.2"/><circle cx="814.7" cy="459.4" r="7.2"/><circle cx="815.3" cy="459.4" r="7.2"/><circle cx="821.8" cy="459.4" r="7.2"/><circle cx="824.1" cy="459.4" r="7.2"/><circle cx="824.8" cy="459.4" r="7.2"/><circle cx="825.7" cy="459.4" r="7.2"/><circle cx="667.3" cy="448.1" r="7.2"/><circle cx="670.7" cy="448.1" r="7.2"/><circle cx="673.9" cy="448.1" r="7.2"/><circle cx="676.2" cy="448.1" r="7.2"/><circle cx="679.4" cy="448.1" r="7.2"/><circle cx="681.5" cy="448.1" r="7.2"/><circle cx="684.4" cy="448.1" r="7.2"/><circle cx="684.7" cy="448.1" r="7.2"/><circle cx="687.8" cy="448.1" r="7.2"/><circle cx="688.9" cy="448.1" r="7.2"/><circle cx="689.2" cy="448.1" r="7.2"/><circle cx="690.2" cy="448.1" r="7.2"/><circle cx="692.0" cy="448.1" r="7.2"/><circle cx="692.3" cy="448.1" r="7.2"/><circle cx="695.0" cy="448.1" r="7.2"/><circle cx="695.3" cy="448.1" r="7.2"/><circle cx="699.8" cy="448.1" r="7.2"/><circle cx="702.9" cy="448.1" r="7.2"/><circle cx="703.9" cy="448.1" r="7.2"/><circle cx="705.6" cy="448.1" r="7.2"/><circle cx="708.2" cy="448.1" r="7.2"/><circle cx="709.3" cy="448.1" r="7.2"/><circle cx="710.0" cy="448.1" r="7.2"/><circle cx="710.3" cy="448.1" r="7.2"/><circle cx="711.5" cy="448.1" r="7.2"/><circle cx="711.8" cy="448.1" r="7.2"/><circle cx="712.2" cy="448.1" r="7.2"/><circle cx="712.9" cy="448.1" r="7.2"/><circle cx="714.4" cy="448.1" r="7.2"/><circle cx="716.1" cy="448.1" r="7.2"/><circle cx="717.1" cy="448.1" r="7.2"/><circle cx="717.9" cy="448.1" r="7.2"/><circle cx="718.2" cy="448.1" r="7.2"/><circle cx="718.5" cy="448.1" r="7.2"/><circle cx="720.7" cy="448.1" r="7.2"/><circle cx="721.8" cy="448.1" r="7.2"/><circle cx="722.5" cy="448.1" r="7.2"/><circle cx="722.8" cy="448.1" r="7.2"/><circle cx="723.4" cy="448.1" r="7.2"/><circle cx="724.5" cy="448.1" r="7.2"/><circle cx="724.8" cy="448.1" r="7.2"/><circle cx="727.3" cy="448.1" r="7.2"/><circle cx="727.6" cy="448.1" r="7.2"/><circle cx="729.6" cy="448.1" r="7.2"/><circle cx="730.6" cy="448.1" r="7.2"/><circle cx="730.9" cy="448.1" r="7.2"/><circle cx="731.3" cy="448.1" r="7.2"/><circle cx="732.6" cy="448.1" r="7.2"/><circle cx="733.4" cy="448.1" r="7.2"/><circle cx="735.6" cy="448.1" r="7.2"/><circle cx="736.9" cy="448.1" r="7.2"/><circle cx="739.3" cy="448.1" r="7.2"/><circle cx="740.3" cy="448.1" r="7.2"/><circle cx="741.0" cy="448.1" r="7.2"/><circle cx="741.8" cy="448.1" r="7.2"/><circle cx="742.1" cy="448.1" r="7.2"/><circle cx="742.4" cy="448.1" r="7.2"/><circle cx="742.7" cy="448.1" r="7.2"/><circle cx="745.3" cy="448.1" r="7.2"/><circle cx="746.5" cy="448.1" r="7.2"/><circle cx="746.8" cy="448.1" r="7.2"/><circle cx="747.6" cy="448.1" r="7.2"/><circle cx="748.2" cy="448.1" r="7.2"/><circle cx="749.2" cy="448.1" r="7.2"/><circle cx="749.5" cy="448.1" r="7.2"/><circle cx="751.4" cy="448.1" r="7.2"/><circle cx="752.4" cy="448.1" r="7.2"/><circle cx="759.0" cy="448.1" r="7.2"/><circle cx="759.3" cy="448.1" r="7.2"/><circle cx="761.1" cy="448.1" r="7.2"/><circle cx="761.4" cy="448.1" r="7.2"/><circle cx="761.7" cy="448.1" r="7.2"/><circle cx="762.2" cy="448.1" r="7.2"/><circle cx="764.3" cy="448.1" r="7.2"/><circle cx="764.6" cy="448.1" r="7.2"/><circle cx="764.9" cy="448.1" r="7.2"/><circle cx="765.2" cy="448.1" r="7.2"/><circle cx="766.4" cy="448.1" r="7.2"/><circle cx="767.2" cy="448.1" r="7.2"/><circle cx="768.8" cy="448.1" r="7.2"/><circle cx="769.2" cy="448.1" r="7.2"/><circle cx="769.5" cy="448.1" r="7.2"/><circle cx="771.2" cy="448.1" r="7.2"/><circle cx="773.8" cy="448.1" r="7.2"/><circle cx="775.8" cy="448.1" r="7.2"/><circle cx="776.3" cy="448.1" r="7.2"/><circle cx="776.9" cy="448.1" r="7.2"/><circle cx="777.5" cy="448.1" r="7.2"/><circle cx="778.5" cy="448.1" r="7.2"/><circle cx="779.3" cy="448.1" r="7.2"/><circle cx="779.6" cy="448.1" r="7.2"/><circle cx="783.2" cy="448.1" r="7.2"/><circle cx="784.8" cy="448.1" r="7.2"/><circle cx="785.9" cy="448.1" r="7.2"/><circle cx="787.0" cy="448.1" r="7.2"/><circle cx="787.3" cy="448.1" r="7.2"/><circle cx="787.6" cy="448.1" r="7.2"/><circle cx="788.6" cy="448.1" r="7.2"/><circle cx="788.9" cy="448.1" r="7.2"/><circle cx="789.2" cy="448.1" r="7.2"/><circle cx="789.5" cy="448.1" r="7.2"/><circle cx="790.0" cy="448.1" r="7.2"/><circle cx="792.5" cy="448.1" r="7.2"/><circle cx="793.8" cy="448.1" r="7.2"/><circle cx="794.1" cy="448.1" r="7.2"/><circle cx="795.4" cy="448.1" r="7.2"/><circle cx="796.0" cy="448.1" r="7.2"/><circle cx="796.5" cy="448.1" r="7.2"/><circle cx="796.8" cy="448.1" r="7.2"/><circle cx="798.2" cy="448.1" r="7.2"/><circle cx="798.5" cy="448.1" r="7.2"/><circle cx="800.2" cy="448.1" r="7.2"/><circle cx="800.6" cy="448.1" r="7.2"/><circle cx="801.0" cy="448.1" r="7.2"/><circle cx="801.5" cy="448.1" r="7.2"/><circle cx="802.0" cy="448.1" r="7.2"/><circle cx="803.3" cy="448.1" r="7.2"/><circle cx="806.1" cy="448.1" r="7.2"/><circle cx="808.1" cy="448.1" r="7.2"/><circle cx="808.4" cy="448.1" r="7.2"/><circle cx="808.7" cy="448.1" r="7.2"/><circle cx="809.0" cy="448.1" r="7.2"/><circle cx="810.9" cy="448.1" r="7.2"/><circle cx="811.2" cy="448.1" r="7.2"/><circle cx="811.5" cy="448.1" r="7.2"/><circle cx="811.8" cy="448.1" r="7.2"/><circle cx="812.9" cy="448.1" r="7.2"/><circle cx="816.2" cy="448.1" r="7.2"/><circle cx="816.9" cy="448.1" r="7.2"/><circle cx="823.8" cy="448.1" r="7.2"/><circle cx="828.9" cy="448.1" r="7.2"/><circle cx="829.2" cy="448.1" r="7.2"/><circle cx="831.2" cy="448.1" r="7.2"/><circle cx="832.1" cy="448.1" r="7.2"/><circle cx="835.1" cy="448.1" r="7.2"/><circle cx="835.4" cy="448.1" r="7.2"/><circle cx="835.7" cy="448.1" r="7.2"/><circle cx="837.0" cy="448.1" r="7.2"/><circle cx="840.6" cy="448.1" r="7.2"/><circle cx="665.4" cy="437.5" r="7.2"/><circle cx="666.6" cy="437.5" r="7.2"/><circle cx="667.3" cy="437.5" r="7.2"/><circle cx="672.8" cy="437.5" r="7.2"/><circle cx="674.9" cy="437.5" r="7.2"/><circle cx="679.8" cy="437.5" r="7.2"/><circle cx="686.9" cy="437.5" r="7.2"/><circle cx="690.9" cy="437.5" r="7.2"/><circle cx="695.6" cy="437.5" r="7.2"/><circle cx="697.1" cy="437.5" r="7.2"/><circle cx="697.4" cy="437.5" r="7.2"/><circle cx="704.1" cy="437.5" r="7.2"/><circle cx="705.6" cy="437.5" r="7.2"/><circle cx="707.8" cy="437.5" r="7.2"/><circle cx="712.6" cy="437.5" r="7.2"/><circle cx="715.5" cy="437.5" r="7.2"/><circle cx="716.3" cy="437.5" r="7.2"/><circle cx="718.2" cy="437.5" r="7.2"/><circle cx="719.6" cy="437.5" r="7.2"/><circle cx="720.5" cy="437.5" r="7.2"/><circle cx="721.7" cy="437.5" r="7.2"/><circle cx="722.0" cy="437.5" r="7.2"/><circle cx="723.8" cy="437.5" r="7.2"/><circle cx="725.3" cy="437.5" r="7.2"/><circle cx="725.8" cy="437.5" r="7.2"/><circle cx="728.4" cy="437.5" r="7.2"/><circle cx="728.8" cy="437.5" r="7.2"/><circle cx="729.1" cy="437.5" r="7.2"/><circle cx="731.0" cy="437.5" r="7.2"/><circle cx="731.3" cy="437.5" r="7.2"/><circle cx="732.6" cy="437.5" r="7.2"/><circle cx="733.5" cy="437.5" r="7.2"/><circle cx="733.8" cy="437.5" r="7.2"/><circle cx="734.6" cy="437.5" r="7.2"/><circle cx="734.9" cy="437.5" r="7.2"/><circle cx="735.9" cy="437.5" r="7.2"/><circle cx="736.2" cy="437.5" r="7.2"/><circle cx="736.5" cy="437.5" r="7.2"/><circle cx="739.1" cy="437.5" r="7.2"/><circle cx="740.3" cy="437.5" r="7.2"/><circle cx="740.6" cy="437.5" r="7.2"/><circle cx="741.3" cy="437.5" r="7.2"/><circle cx="742.9" cy="437.5" r="7.2"/><circle cx="743.2" cy="437.5" r="7.2"/><circle cx="743.7" cy="437.5" r="7.2"/><circle cx="744.4" cy="437.5" r="7.2"/><circle cx="745.6" cy="437.5" r="7.2"/><circle cx="745.9" cy="437.5" r="7.2"/><circle cx="746.2" cy="437.5" r="7.2"/><circle cx="746.5" cy="437.5" r="7.2"/><circle cx="748.2" cy="437.5" r="7.2"/><circle cx="750.6" cy="437.5" r="7.2"/><circle cx="751.9" cy="437.5" r="7.2"/><circle cx="754.3" cy="437.5" r="7.2"/><circle cx="754.6" cy="437.5" r="7.2"/><circle cx="755.4" cy="437.5" r="7.2"/><circle cx="755.9" cy="437.5" r="7.2"/><circle cx="756.3" cy="437.5" r="7.2"/><circle cx="756.6" cy="437.5" r="7.2"/><circle cx="757.5" cy="437.5" r="7.2"/><circle cx="757.9" cy="437.5" r="7.2"/><circle cx="759.4" cy="437.5" r="7.2"/><circle cx="760.4" cy="437.5" r="7.2"/><circle cx="761.4" cy="437.5" r="7.2"/><circle cx="763.0" cy="437.5" r="7.2"/><circle cx="764.8" cy="437.5" r="7.2"/><circle cx="765.4" cy="437.5" r="7.2"/><circle cx="767.1" cy="437.5" r="7.2"/><circle cx="767.4" cy="437.5" r="7.2"/><circle cx="767.8" cy="437.5" r="7.2"/><circle cx="768.6" cy="437.5" r="7.2"/><circle cx="771.5" cy="437.5" r="7.2"/><circle cx="772.2" cy="437.5" r="7.2"/><circle cx="774.0" cy="437.5" r="7.2"/><circle cx="775.2" cy="437.5" r="7.2"/><circle cx="777.4" cy="437.5" r="7.2"/><circle cx="778.3" cy="437.5" r="7.2"/><circle cx="778.6" cy="437.5" r="7.2"/><circle cx="778.9" cy="437.5" r="7.2"/><circle cx="782.2" cy="437.5" r="7.2"/><circle cx="782.5" cy="437.5" r="7.2"/><circle cx="784.4" cy="437.5" r="7.2"/><circle cx="784.7" cy="437.5" r="7.2"/><circle cx="785.5" cy="437.5" r="7.2"/><circle cx="785.8" cy="437.5" r="7.2"/><circle cx="786.4" cy="437.5" r="7.2"/><circle cx="789.6" cy="437.5" r="7.2"/><circle cx="791.0" cy="437.5" r="7.2"/><circle cx="791.6" cy="437.5" r="7.2"/><circle cx="792.0" cy="437.5" r="7.2"/><circle cx="793.7" cy="437.5" r="7.2"/><circle cx="795.9" cy="437.5" r="7.2"/><circle cx="796.6" cy="437.5" r="7.2"/><circle cx="796.9" cy="437.5" r="7.2"/><circle cx="797.7" cy="437.5" r="7.2"/><circle cx="798.0" cy="437.5" r="7.2"/><circle cx="798.7" cy="437.5" r="7.2"/><circle cx="801.1" cy="437.5" r="7.2"/><circle cx="803.8" cy="437.5" r="7.2"/><circle cx="804.3" cy="437.5" r="7.2"/><circle cx="804.9" cy="437.5" r="7.2"/><circle cx="806.8" cy="437.5" r="7.2"/><circle cx="807.2" cy="437.5" r="7.2"/><circle cx="807.7" cy="437.5" r="7.2"/><circle cx="808.0" cy="437.5" r="7.2"/><circle cx="811.5" cy="437.5" r="7.2"/><circle cx="812.2" cy="437.5" r="7.2"/><circle cx="812.8" cy="437.5" r="7.2"/><circle cx="813.1" cy="437.5" r="7.2"/><circle cx="814.9" cy="437.5" r="7.2"/><circle cx="817.4" cy="437.5" r="7.2"/><circle cx="818.0" cy="437.5" r="7.2"/><circle cx="819.5" cy="437.5" r="7.2"/><circle cx="821.2" cy="437.5" r="7.2"/><circle cx="821.9" cy="437.5" r="7.2"/><circle cx="822.5" cy="437.5" r="7.2"/><circle cx="824.4" cy="437.5" r="7.2"/><circle cx="827.4" cy="437.5" r="7.2"/><circle cx="829.2" cy="437.5" r="7.2"/><circle cx="829.5" cy="437.5" r="7.2"/><circle cx="829.8" cy="437.5" r="7.2"/><circle cx="830.1" cy="437.5" r="7.2"/><circle cx="832.4" cy="437.5" r="7.2"/><circle cx="833.0" cy="437.5" r="7.2"/><circle cx="835.8" cy="437.5" r="7.2"/><circle cx="837.5" cy="437.5" r="7.2"/><circle cx="843.6" cy="437.5" r="7.2"/><circle cx="843.9" cy="437.5" r="7.2"/><circle cx="845.3" cy="437.5" r="7.2"/><circle cx="845.9" cy="437.5" r="7.2"/><circle cx="851.4" cy="437.5" r="7.2"/><circle cx="851.7" cy="437.5" r="7.2"/><circle cx="852.4" cy="437.5" r="7.2"/><circle cx="853.0" cy="437.5" r="7.2"/><circle cx="856.4" cy="437.5" r="7.2"/><circle cx="662.1" cy="427.5" r="7.2"/><circle cx="664.6" cy="427.5" r="7.2"/><circle cx="665.9" cy="427.5" r="7.2"/><circle cx="670.3" cy="427.5" r="7.2"/><circle cx="672.2" cy="427.5" r="7.2"/><circle cx="674.5" cy="427.5" r="7.2"/><circle cx="676.2" cy="427.5" r="7.2"/><circle cx="687.5" cy="427.5" r="7.2"/><circle cx="692.1" cy="427.5" r="7.2"/><circle cx="695.6" cy="427.5" r="7.2"/><circle cx="696.1" cy="427.5" r="7.2"/><circle cx="697.7" cy="427.5" r="7.2"/><circle cx="699.4" cy="427.5" r="7.2"/><circle cx="700.2" cy="427.5" r="7.2"/><circle cx="701.1" cy="427.5" r="7.2"/><circle cx="701.4" cy="427.5" r="7.2"/><circle cx="702.1" cy="427.5" r="7.2"/><circle cx="703.6" cy="427.5" r="7.2"/><circle cx="703.9" cy="427.5" r="7.2"/><circle cx="705.1" cy="427.5" r="7.2"/><circle cx="705.4" cy="427.5" r="7.2"/><circle cx="706.2" cy="427.5" r="7.2"/><circle cx="706.6" cy="427.5" r="7.2"/><circle cx="706.9" cy="427.5" r="7.2"/><circle cx="707.8" cy="427.5" r="7.2"/><circle cx="708.4" cy="427.5" r="7.2"/><circle cx="708.7" cy="427.5" r="7.2"/><circle cx="709.0" cy="427.5" r="7.2"/><circle cx="711.5" cy="427.5" r="7.2"/><circle cx="712.8" cy="427.5" r="7.2"/><circle cx="713.1" cy="427.5" r="7.2"/><circle cx="713.4" cy="427.5" r="7.2"/><circle cx="715.6" cy="427.5" r="7.2"/><circle cx="715.9" cy="427.5" r="7.2"/><circle cx="716.2" cy="427.5" r="7.2"/><circle cx="716.5" cy="427.5" r="7.2"/><circle cx="717.0" cy="427.5" r="7.2"/><circle cx="717.7" cy="427.5" r="7.2"/><circle cx="719.3" cy="427.5" r="7.2"/><circle cx="721.0" cy="427.5" r="7.2"/><circle cx="721.9" cy="427.5" r="7.2"/><circle cx="722.9" cy="427.5" r="7.2"/><circle cx="723.2" cy="427.5" r="7.2"/><circle cx="724.2" cy="427.5" r="7.2"/><circle cx="725.6" cy="427.5" r="7.2"/><circle cx="727.4" cy="427.5" r="7.2"/><circle cx="728.6" cy="427.5" r="7.2"/><circle cx="730.7" cy="427.5" r="7.2"/><circle cx="736.0" cy="427.5" r="7.2"/><circle cx="736.9" cy="427.5" r="7.2"/><circle cx="737.5" cy="427.5" r="7.2"/><circle cx="738.9" cy="427.5" r="7.2"/><circle cx="739.2" cy="427.5" r="7.2"/><circle cx="740.7" cy="427.5" r="7.2"/><circle cx="743.3" cy="427.5" r="7.2"/><circle cx="745.9" cy="427.5" r="7.2"/><circle cx="747.4" cy="427.5" r="7.2"/><circle cx="748.8" cy="427.5" r="7.2"/><circle cx="750.0" cy="427.5" r="7.2"/><circle cx="753.4" cy="427.5" r="7.2"/><circle cx="754.2" cy="427.5" r="7.2"/><circle cx="754.5" cy="427.5" r="7.2"/><circle cx="754.8" cy="427.5" r="7.2"/><circle cx="756.5" cy="427.5" r="7.2"/><circle cx="758.6" cy="427.5" r="7.2"/><circle cx="758.9" cy="427.5" r="7.2"/><circle cx="759.9" cy="427.5" r="7.2"/><circle cx="760.2" cy="427.5" r="7.2"/><circle cx="761.6" cy="427.5" r="7.2"/><circle cx="762.6" cy="427.5" r="7.2"/><circle cx="762.9" cy="427.5" r="7.2"/><circle cx="765.9" cy="427.5" r="7.2"/><circle cx="768.1" cy="427.5" r="7.2"/><circle cx="768.5" cy="427.5" r="7.2"/><circle cx="770.7" cy="427.5" r="7.2"/><circle cx="771.0" cy="427.5" r="7.2"/><circle cx="772.6" cy="427.5" r="7.2"/><circle cx="773.0" cy="427.5" r="7.2"/><circle cx="773.7" cy="427.5" r="7.2"/><circle cx="774.9" cy="427.5" r="7.2"/><circle cx="776.3" cy="427.5" r="7.2"/><circle cx="777.6" cy="427.5" r="7.2"/><circle cx="778.6" cy="427.5" r="7.2"/><circle cx="778.9" cy="427.5" r="7.2"/><circle cx="779.6" cy="427.5" r="7.2"/><circle cx="782.2" cy="427.5" r="7.2"/><circle cx="783.7" cy="427.5" r="7.2"/><circle cx="784.0" cy="427.5" r="7.2"/><circle cx="785.8" cy="427.5" r="7.2"/><circle cx="787.4" cy="427.5" r="7.2"/><circle cx="787.7" cy="427.5" r="7.2"/><circle cx="788.4" cy="427.5" r="7.2"/><circle cx="791.1" cy="427.5" r="7.2"/><circle cx="791.9" cy="427.5" r="7.2"/><circle cx="792.2" cy="427.5" r="7.2"/><circle cx="792.5" cy="427.5" r="7.2"/><circle cx="792.8" cy="427.5" r="7.2"/><circle cx="795.1" cy="427.5" r="7.2"/><circle cx="796.6" cy="427.5" r="7.2"/><circle cx="796.9" cy="427.5" r="7.2"/><circle cx="798.9" cy="427.5" r="7.2"/><circle cx="799.2" cy="427.5" r="7.2"/><circle cx="799.5" cy="427.5" r="7.2"/><circle cx="799.8" cy="427.5" r="7.2"/><circle cx="800.1" cy="427.5" r="7.2"/><circle cx="802.6" cy="427.5" r="7.2"/><circle cx="802.9" cy="427.5" r="7.2"/><circle cx="804.1" cy="427.5" r="7.2"/><circle cx="806.1" cy="427.5" r="7.2"/><circle cx="806.9" cy="427.5" r="7.2"/><circle cx="807.2" cy="427.5" r="7.2"/><circle cx="807.5" cy="427.5" r="7.2"/><circle cx="807.8" cy="427.5" r="7.2"/><circle cx="808.3" cy="427.5" r="7.2"/><circle cx="809.1" cy="427.5" r="7.2"/><circle cx="809.4" cy="427.5" r="7.2"/><circle cx="811.7" cy="427.5" r="7.2"/><circle cx="812.5" cy="427.5" r="7.2"/><circle cx="813.4" cy="427.5" r="7.2"/><circle cx="814.3" cy="427.5" r="7.2"/><circle cx="814.6" cy="427.5" r="7.2"/><circle cx="815.2" cy="427.5" r="7.2"/><circle cx="817.8" cy="427.5" r="7.2"/><circle cx="820.5" cy="427.5" r="7.2"/><circle cx="831.7" cy="427.5" r="7.2"/><circle cx="835.2" cy="427.5" r="7.2"/><circle cx="845.0" cy="427.5" r="7.2"/><circle cx="845.9" cy="427.5" r="7.2"/><circle cx="852.4" cy="427.5" r="7.2"/><circle cx="856.8" cy="427.5" r="7.2"/><circle cx="857.2" cy="427.5" r="7.2"/><circle cx="679.1" cy="418.0" r="7.2"/><circle cx="681.0" cy="418.0" r="7.2"/><circle cx="682.1" cy="418.0" r="7.2"/><circle cx="683.5" cy="418.0" r="7.2"/><circle cx="685.4" cy="418.0" r="7.2"/><circle cx="685.7" cy="418.0" r="7.2"/><circle cx="690.7" cy="418.0" r="7.2"/><circle cx="691.5" cy="418.0" r="7.2"/><circle cx="694.9" cy="418.0" r="7.2"/><circle cx="698.3" cy="418.0" r="7.2"/><circle cx="700.7" cy="418.0" r="7.2"/><circle cx="702.0" cy="418.0" r="7.2"/><circle cx="702.3" cy="418.0" r="7.2"/><circle cx="702.6" cy="418.0" r="7.2"/><circle cx="703.1" cy="418.0" r="7.2"/><circle cx="703.7" cy="418.0" r="7.2"/><circle cx="704.0" cy="418.0" r="7.2"/><circle cx="705.2" cy="418.0" r="7.2"/><circle cx="705.8" cy="418.0" r="7.2"/><circle cx="707.7" cy="418.0" r="7.2"/><circle cx="708.6" cy="418.0" r="7.2"/><circle cx="708.9" cy="418.0" r="7.2"/><circle cx="709.6" cy="418.0" r="7.2"/><circle cx="712.3" cy="418.0" r="7.2"/><circle cx="714.8" cy="418.0" r="7.2"/><circle cx="715.1" cy="418.0" r="7.2"/><circle cx="716.9" cy="418.0" r="7.2"/><circle cx="717.2" cy="418.0" r="7.2"/><circle cx="717.8" cy="418.0" r="7.2"/><circle cx="718.6" cy="418.0" r="7.2"/><circle cx="719.3" cy="418.0" r="7.2"/><circle cx="720.2" cy="418.0" r="7.2"/><circle cx="720.5" cy="418.0" r="7.2"/><circle cx="720.8" cy="418.0" r="7.2"/><circle cx="721.5" cy="418.0" r="7.2"/><circle cx="722.2" cy="418.0" r="7.2"/><circle cx="723.0" cy="418.0" r="7.2"/><circle cx="723.5" cy="418.0" r="7.2"/><circle cx="724.1" cy="418.0" r="7.2"/><circle cx="724.9" cy="418.0" r="7.2"/><circle cx="725.2" cy="418.0" r="7.2"/><circle cx="727.4" cy="418.0" r="7.2"/><circle cx="730.2" cy="418.0" r="7.2"/><circle cx="731.5" cy="418.0" r="7.2"/><circle cx="731.8" cy="418.0" r="7.2"/><circle cx="733.7" cy="418.0" r="7.2"/><circle cx="734.0" cy="418.0" r="7.2"/><circle cx="734.3" cy="418.0" r="7.2"/><circle cx="734.6" cy="418.0" r="7.2"/><circle cx="739.4" cy="418.0" r="7.2"/><circle cx="739.7" cy="418.0" r="7.2"/><circle cx="744.3" cy="418.0" r="7.2"/><circle cx="746.1" cy="418.0" r="7.2"/><circle cx="747.2" cy="418.0" r="7.2"/><circle cx="748.2" cy="418.0" r="7.2"/><circle cx="748.7" cy="418.0" r="7.2"/><circle cx="749.3" cy="418.0" r="7.2"/><circle cx="749.6" cy="418.0" r="7.2"/><circle cx="750.5" cy="418.0" r="7.2"/><circle cx="752.4" cy="418.0" r="7.2"/><circle cx="755.1" cy="418.0" r="7.2"/><circle cx="755.4" cy="418.0" r="7.2"/><circle cx="758.1" cy="418.0" r="7.2"/><circle cx="758.4" cy="418.0" r="7.2"/><circle cx="758.7" cy="418.0" r="7.2"/><circle cx="759.0" cy="418.0" r="7.2"/><circle cx="759.9" cy="418.0" r="7.2"/><circle cx="763.2" cy="418.0" r="7.2"/><circle cx="764.7" cy="418.0" r="7.2"/><circle cx="765.0" cy="418.0" r="7.2"/><circle cx="766.2" cy="418.0" r="7.2"/><circle cx="766.5" cy="418.0" r="7.2"/><circle cx="767.8" cy="418.0" r="7.2"/><circle cx="768.9" cy="418.0" r="7.2"/><circle cx="772.0" cy="418.0" r="7.2"/><circle cx="772.4" cy="418.0" r="7.2"/><circle cx="772.8" cy="418.0" r="7.2"/><circle cx="774.1" cy="418.0" r="7.2"/><circle cx="774.8" cy="418.0" r="7.2"/><circle cx="775.3" cy="418.0" r="7.2"/><circle cx="776.7" cy="418.0" r="7.2"/><circle cx="777.6" cy="418.0" r="7.2"/><circle cx="781.2" cy="418.0" r="7.2"/><circle cx="782.1" cy="418.0" r="7.2"/><circle cx="783.4" cy="418.0" r="7.2"/><circle cx="784.0" cy="418.0" r="7.2"/><circle cx="784.5" cy="418.0" r="7.2"/><circle cx="784.8" cy="418.0" r="7.2"/><circle cx="785.2" cy="418.0" r="7.2"/><circle cx="785.5" cy="418.0" r="7.2"/><circle cx="787.4" cy="418.0" r="7.2"/><circle cx="787.7" cy="418.0" r="7.2"/><circle cx="788.6" cy="418.0" r="7.2"/><circle cx="789.4" cy="418.0" r="7.2"/><circle cx="790.2" cy="418.0" r="7.2"/><circle cx="791.8" cy="418.0" r="7.2"/><circle cx="796.0" cy="418.0" r="7.2"/><circle cx="797.0" cy="418.0" r="7.2"/><circle cx="797.3" cy="418.0" r="7.2"/><circle cx="798.3" cy="418.0" r="7.2"/><circle cx="799.4" cy="418.0" r="7.2"/><circle cx="800.2" cy="418.0" r="7.2"/><circle cx="800.9" cy="418.0" r="7.2"/><circle cx="802.4" cy="418.0" r="7.2"/><circle cx="804.3" cy="418.0" r="7.2"/><circle cx="806.1" cy="418.0" r="7.2"/><circle cx="806.5" cy="418.0" r="7.2"/><circle cx="807.6" cy="418.0" r="7.2"/><circle cx="808.5" cy="418.0" r="7.2"/><circle cx="808.8" cy="418.0" r="7.2"/><circle cx="809.2" cy="418.0" r="7.2"/><circle cx="809.5" cy="418.0" r="7.2"/><circle cx="810.7" cy="418.0" r="7.2"/><circle cx="812.0" cy="418.0" r="7.2"/><circle cx="812.4" cy="418.0" r="7.2"/><circle cx="813.0" cy="418.0" r="7.2"/><circle cx="813.5" cy="418.0" r="7.2"/><circle cx="814.1" cy="418.0" r="7.2"/><circle cx="814.4" cy="418.0" r="7.2"/><circle cx="816.0" cy="418.0" r="7.2"/><circle cx="816.3" cy="418.0" r="7.2"/><circle cx="816.6" cy="418.0" r="7.2"/><circle cx="818.4" cy="418.0" r="7.2"/><circle cx="819.3" cy="418.0" r="7.2"/><circle cx="822.2" cy="418.0" r="7.2"/><circle cx="822.6" cy="418.0" r="7.2"/><circle cx="823.7" cy="418.0" r="7.2"/><circle cx="826.4" cy="418.0" r="7.2"/><circle cx="828.3" cy="418.0" r="7.2"/><circle cx="828.9" cy="418.0" r="7.2"/><circle cx="830.8" cy="418.0" r="7.2"/><circle cx="831.5" cy="418.0" r="7.2"/><circle cx="832.0" cy="418.0" r="7.2"/><circle cx="832.3" cy="418.0" r="7.2"/><circle cx="834.0" cy="418.0" r="7.2"/><circle cx="839.0" cy="418.0" r="7.2"/><circle cx="839.6" cy="418.0" r="7.2"/><circle cx="842.0" cy="418.0" r="7.2"/><circle cx="842.3" cy="418.0" r="7.2"/><circle cx="843.3" cy="418.0" r="7.2"/><circle cx="849.5" cy="418.0" r="7.2"/><circle cx="850.9" cy="418.0" r="7.2"/><circle cx="853.3" cy="418.0" r="7.2"/><circle cx="854.0" cy="418.0" r="7.2"/><circle cx="854.3" cy="418.0" r="7.2"/><circle cx="855.0" cy="418.0" r="7.2"/><circle cx="855.7" cy="418.0" r="7.2"/><circle cx="856.7" cy="418.0" r="7.2"/><circle cx="858.1" cy="418.0" r="7.2"/><circle cx="860.8" cy="418.0" r="7.2"/><circle cx="867.4" cy="418.0" r="7.2"/><circle cx="868.7" cy="418.0" r="7.2"/><circle cx="869.0" cy="418.0" r="7.2"/><circle cx="668.3" cy="409.0" r="7.2"/><circle cx="671.3" cy="409.0" r="7.2"/><circle cx="673.0" cy="409.0" r="7.2"/><circle cx="680.2" cy="409.0" r="7.2"/><circle cx="686.4" cy="409.0" r="7.2"/><circle cx="694.0" cy="409.0" r="7.2"/><circle cx="694.3" cy="409.0" r="7.2"/><circle cx="694.6" cy="409.0" r="7.2"/><circle cx="697.3" cy="409.0" r="7.2"/><circle cx="699.2" cy="409.0" r="7.2"/><circle cx="702.1" cy="409.0" r="7.2"/><circle cx="702.4" cy="409.0" r="7.2"/><circle cx="703.1" cy="409.0" r="7.2"/><circle cx="703.8" cy="409.0" r="7.2"/><circle cx="704.9" cy="409.0" r="7.2"/><circle cx="705.2" cy="409.0" r="7.2"/><circle cx="705.5" cy="409.0" r="7.2"/><circle cx="707.1" cy="409.0" r="7.2"/><circle cx="707.4" cy="409.0" r="7.2"/><circle cx="709.1" cy="409.0" r="7.2"/><circle cx="709.5" cy="409.0" r="7.2"/><circle cx="710.2" cy="409.0" r="7.2"/><circle cx="710.5" cy="409.0" r="7.2"/><circle cx="710.8" cy="409.0" r="7.2"/><circle cx="713.2" cy="409.0" r="7.2"/><circle cx="713.5" cy="409.0" r="7.2"/><circle cx="714.1" cy="409.0" r="7.2"/><circle cx="714.4" cy="409.0" r="7.2"/><circle cx="714.9" cy="409.0" r="7.2"/><circle cx="715.2" cy="409.0" r="7.2"/><circle cx="715.5" cy="409.0" r="7.2"/><circle cx="716.7" cy="409.0" r="7.2"/><circle cx="717.0" cy="409.0" r="7.2"/><circle cx="717.3" cy="409.0" r="7.2"/><circle cx="717.8" cy="409.0" r="7.2"/><circle cx="719.2" cy="409.0" r="7.2"/><circle cx="719.5" cy="409.0" r="7.2"/><circle cx="720.6" cy="409.0" r="7.2"/><circle cx="721.3" cy="409.0" r="7.2"/><circle cx="722.0" cy="409.0" r="7.2"/><circle cx="722.6" cy="409.0" r="7.2"/><circle cx="724.7" cy="409.0" r="7.2"/><circle cx="725.0" cy="409.0" r="7.2"/><circle cx="726.8" cy="409.0" r="7.2"/><circle cx="728.4" cy="409.0" r="7.2"/><circle cx="729.4" cy="409.0" r="7.2"/><circle cx="731.1" cy="409.0" r="7.2"/><circle cx="732.1" cy="409.0" r="7.2"/><circle cx="734.3" cy="409.0" r="7.2"/><circle cx="735.9" cy="409.0" r="7.2"/><circle cx="737.0" cy="409.0" r="7.2"/><circle cx="737.3" cy="409.0" r="7.2"/><circle cx="738.6" cy="409.0" r="7.2"/><circle cx="738.9" cy="409.0" r="7.2"/><circle cx="739.5" cy="409.0" r="7.2"/><circle cx="739.9" cy="409.0" r="7.2"/><circle cx="740.2" cy="409.0" r="7.2"/><circle cx="740.5" cy="409.0" r="7.2"/><circle cx="740.8" cy="409.0" r="7.2"/><circle cx="741.2" cy="409.0" r="7.2"/><circle cx="741.5" cy="409.0" r="7.2"/><circle cx="741.9" cy="409.0" r="7.2"/><circle cx="742.2" cy="409.0" r="7.2"/><circle cx="742.6" cy="409.0" r="7.2"/><circle cx="742.9" cy="409.0" r="7.2"/><circle cx="746.8" cy="409.0" r="7.2"/><circle cx="747.9" cy="409.0" r="7.2"/><circle cx="748.5" cy="409.0" r="7.2"/><circle cx="750.8" cy="409.0" r="7.2"/><circle cx="751.2" cy="409.0" r="7.2"/><circle cx="755.5" cy="409.0" r="7.2"/><circle cx="756.0" cy="409.0" r="7.2"/><circle cx="756.3" cy="409.0" r="7.2"/><circle cx="756.6" cy="409.0" r="7.2"/><circle cx="757.2" cy="409.0" r="7.2"/><circle cx="758.4" cy="409.0" r="7.2"/><circle cx="760.3" cy="409.0" r="7.2"/><circle cx="760.6" cy="409.0" r="7.2"/><circle cx="761.4" cy="409.0" r="7.2"/><circle cx="762.8" cy="409.0" r="7.2"/><circle cx="765.1" cy="409.0" r="7.2"/><circle cx="767.2" cy="409.0" r="7.2"/><circle cx="767.5" cy="409.0" r="7.2"/><circle cx="769.6" cy="409.0" r="7.2"/><circle cx="770.7" cy="409.0" r="7.2"/><circle cx="771.0" cy="409.0" r="7.2"/><circle cx="772.2" cy="409.0" r="7.2"/><circle cx="772.5" cy="409.0" r="7.2"/><circle cx="777.3" cy="409.0" r="7.2"/><circle cx="777.7" cy="409.0" r="7.2"/><circle cx="778.1" cy="409.0" r="7.2"/><circle cx="778.4" cy="409.0" r="7.2"/><circle cx="778.7" cy="409.0" r="7.2"/><circle cx="779.0" cy="409.0" r="7.2"/><circle cx="779.6" cy="409.0" r="7.2"/><circle cx="780.1" cy="409.0" r="7.2"/><circle cx="782.1" cy="409.0" r="7.2"/><circle cx="782.6" cy="409.0" r="7.2"/><circle cx="784.1" cy="409.0" r="7.2"/><circle cx="784.4" cy="409.0" r="7.2"/><circle cx="784.7" cy="409.0" r="7.2"/><circle cx="787.7" cy="409.0" r="7.2"/><circle cx="788.1" cy="409.0" r="7.2"/><circle cx="789.0" cy="409.0" r="7.2"/><circle cx="789.9" cy="409.0" r="7.2"/><circle cx="790.3" cy="409.0" r="7.2"/><circle cx="790.7" cy="409.0" r="7.2"/><circle cx="791.6" cy="409.0" r="7.2"/><circle cx="792.0" cy="409.0" r="7.2"/><circle cx="793.5" cy="409.0" r="7.2"/><circle cx="796.0" cy="409.0" r="7.2"/><circle cx="797.3" cy="409.0" r="7.2"/><circle cx="803.5" cy="409.0" r="7.2"/><circle cx="804.3" cy="409.0" r="7.2"/><circle cx="804.6" cy="409.0" r="7.2"/><circle cx="805.0" cy="409.0" r="7.2"/><circle cx="805.3" cy="409.0" r="7.2"/><circle cx="806.2" cy="409.0" r="7.2"/><circle cx="806.5" cy="409.0" r="7.2"/><circle cx="807.6" cy="409.0" r="7.2"/><circle cx="809.0" cy="409.0" r="7.2"/><circle cx="809.3" cy="409.0" r="7.2"/><circle cx="810.2" cy="409.0" r="7.2"/><circle cx="812.2" cy="409.0" r="7.2"/><circle cx="813.1" cy="409.0" r="7.2"/><circle cx="813.6" cy="409.0" r="7.2"/><circle cx="814.4" cy="409.0" r="7.2"/><circle cx="814.7" cy="409.0" r="7.2"/><circle cx="816.0" cy="409.0" r="7.2"/><circle cx="817.5" cy="409.0" r="7.2"/><circle cx="819.2" cy="409.0" r="7.2"/><circle cx="819.5" cy="409.0" r="7.2"/><circle cx="819.8" cy="409.0" r="7.2"/><circle cx="820.1" cy="409.0" r="7.2"/><circle cx="820.4" cy="409.0" r="7.2"/><circle cx="820.7" cy="409.0" r="7.2"/><circle cx="821.3" cy="409.0" r="7.2"/><circle cx="821.6" cy="409.0" r="7.2"/><circle cx="822.6" cy="409.0" r="7.2"/><circle cx="823.0" cy="409.0" r="7.2"/><circle cx="823.7" cy="409.0" r="7.2"/><circle cx="824.5" cy="409.0" r="7.2"/><circle cx="826.1" cy="409.0" r="7.2"/><circle cx="826.4" cy="409.0" r="7.2"/><circle cx="827.1" cy="409.0" r="7.2"/><circle cx="827.8" cy="409.0" r="7.2"/><circle cx="829.7" cy="409.0" r="7.2"/><circle cx="830.5" cy="409.0" r="7.2"/><circle cx="830.8" cy="409.0" r="7.2"/><circle cx="831.4" cy="409.0" r="7.2"/><circle cx="831.7" cy="409.0" r="7.2"/><circle cx="832.4" cy="409.0" r="7.2"/><circle cx="832.8" cy="409.0" r="7.2"/><circle cx="833.2" cy="409.0" r="7.2"/><circle cx="833.9" cy="409.0" r="7.2"/><circle cx="834.2" cy="409.0" r="7.2"/><circle cx="835.7" cy="409.0" r="7.2"/><circle cx="836.1" cy="409.0" r="7.2"/><circle cx="837.5" cy="409.0" r="7.2"/><circle cx="839.2" cy="409.0" r="7.2"/><circle cx="839.7" cy="409.0" r="7.2"/><circle cx="841.0" cy="409.0" r="7.2"/><circle cx="843.1" cy="409.0" r="7.2"/><circle cx="843.8" cy="409.0" r="7.2"/><circle cx="846.6" cy="409.0" r="7.2"/><circle cx="849.8" cy="409.0" r="7.2"/><circle cx="850.6" cy="409.0" r="7.2"/><circle cx="858.5" cy="409.0" r="7.2"/><circle cx="860.6" cy="409.0" r="7.2"/><circle cx="861.8" cy="409.0" r="7.2"/><circle cx="865.0" cy="409.0" r="7.2"/><circle cx="870.7" cy="409.0" r="7.2"/><circle cx="874.6" cy="409.0" r="7.2"/><circle cx="670.2" cy="400.4" r="7.2"/><circle cx="670.5" cy="400.4" r="7.2"/><circle cx="673.1" cy="400.4" r="7.2"/><circle cx="675.5" cy="400.4" r="7.2"/><circle cx="677.2" cy="400.4" r="7.2"/><circle cx="681.5" cy="400.4" r="7.2"/><circle cx="682.4" cy="400.4" r="7.2"/><circle cx="687.9" cy="400.4" r="7.2"/><circle cx="688.2" cy="400.4" r="7.2"/><circle cx="688.8" cy="400.4" r="7.2"/><circle cx="692.2" cy="400.4" r="7.2"/><circle cx="693.0" cy="400.4" r="7.2"/><circle cx="695.1" cy="400.4" r="7.2"/><circle cx="696.3" cy="400.4" r="7.2"/><circle cx="696.6" cy="400.4" r="7.2"/><circle cx="697.4" cy="400.4" r="7.2"/><circle cx="699.3" cy="400.4" r="7.2"/><circle cx="701.8" cy="400.4" r="7.2"/><circle cx="702.2" cy="400.4" r="7.2"/><circle cx="702.5" cy="400.4" r="7.2"/><circle cx="703.2" cy="400.4" r="7.2"/><circle cx="703.5" cy="400.4" r="7.2"/><circle cx="704.3" cy="400.4" r="7.2"/><circle cx="705.1" cy="400.4" r="7.2"/><circle cx="705.4" cy="400.4" r="7.2"/><circle cx="707.2" cy="400.4" r="7.2"/><circle cx="707.5" cy="400.4" r="7.2"/><circle cx="708.2" cy="400.4" r="7.2"/><circle cx="708.9" cy="400.4" r="7.2"/><circle cx="709.8" cy="400.4" r="7.2"/><circle cx="711.3" cy="400.4" r="7.2"/><circle cx="711.7" cy="400.4" r="7.2"/><circle cx="712.0" cy="400.4" r="7.2"/><circle cx="712.3" cy="400.4" r="7.2"/><circle cx="713.7" cy="400.4" r="7.2"/><circle cx="714.0" cy="400.4" r="7.2"/><circle cx="714.4" cy="400.4" r="7.2"/><circle cx="714.7" cy="400.4" r="7.2"/><circle cx="715.0" cy="400.4" r="7.2"/><circle cx="716.1" cy="400.4" r="7.2"/><circle cx="716.4" cy="400.4" r="7.2"/><circle cx="718.8" cy="400.4" r="7.2"/><circle cx="720.2" cy="400.4" r="7.2"/><circle cx="721.8" cy="400.4" r="7.2"/><circle cx="722.3" cy="400.4" r="7.2"/><circle cx="723.5" cy="400.4" r="7.2"/><circle cx="726.1" cy="400.4" r="7.2"/><circle cx="728.9" cy="400.4" r="7.2"/><circle cx="732.7" cy="400.4" r="7.2"/><circle cx="733.9" cy="400.4" r="7.2"/><circle cx="734.2" cy="400.4" r="7.2"/><circle cx="734.5" cy="400.4" r="7.2"/><circle cx="736.0" cy="400.4" r="7.2"/><circle cx="737.1" cy="400.4" r="7.2"/><circle cx="737.4" cy="400.4" r="7.2"/><circle cx="739.6" cy="400.4" r="7.2"/><circle cx="739.9" cy="400.4" r="7.2"/><circle cx="740.2" cy="400.4" r="7.2"/><circle cx="741.5" cy="400.4" r="7.2"/><circle cx="742.6" cy="400.4" r="7.2"/><circle cx="744.3" cy="400.4" r="7.2"/><circle cx="751.7" cy="400.4" r="7.2"/><circle cx="752.0" cy="400.4" r="7.2"/><circle cx="752.3" cy="400.4" r="7.2"/><circle cx="752.6" cy="400.4" r="7.2"/><circle cx="753.5" cy="400.4" r="7.2"/><circle cx="758.1" cy="400.4" r="7.2"/><circle cx="758.5" cy="400.4" r="7.2"/><circle cx="758.9" cy="400.4" r="7.2"/><circle cx="759.2" cy="400.4" r="7.2"/><circle cx="760.5" cy="400.4" r="7.2"/><circle cx="762.4" cy="400.4" r="7.2"/><circle cx="762.9" cy="400.4" r="7.2"/><circle cx="763.9" cy="400.4" r="7.2"/><circle cx="764.5" cy="400.4" r="7.2"/><circle cx="764.8" cy="400.4" r="7.2"/><circle cx="765.1" cy="400.4" r="7.2"/><circle cx="767.2" cy="400.4" r="7.2"/><circle cx="767.5" cy="400.4" r="7.2"/><circle cx="769.1" cy="400.4" r="7.2"/><circle cx="770.0" cy="400.4" r="7.2"/><circle cx="771.4" cy="400.4" r="7.2"/><circle cx="772.1" cy="400.4" r="7.2"/><circle cx="772.5" cy="400.4" r="7.2"/><circle cx="774.5" cy="400.4" r="7.2"/><circle cx="777.6" cy="400.4" r="7.2"/><circle cx="779.0" cy="400.4" r="7.2"/><circle cx="780.2" cy="400.4" r="7.2"/><circle cx="780.7" cy="400.4" r="7.2"/><circle cx="781.0" cy="400.4" r="7.2"/><circle cx="783.0" cy="400.4" r="7.2"/><circle cx="784.0" cy="400.4" r="7.2"/><circle cx="786.6" cy="400.4" r="7.2"/><circle cx="787.1" cy="400.4" r="7.2"/><circle cx="788.3" cy="400.4" r="7.2"/><circle cx="788.6" cy="400.4" r="7.2"/><circle cx="788.9" cy="400.4" r="7.2"/><circle cx="789.2" cy="400.4" r="7.2"/><circle cx="790.2" cy="400.4" r="7.2"/><circle cx="792.6" cy="400.4" r="7.2"/><circle cx="792.9" cy="400.4" r="7.2"/><circle cx="793.4" cy="400.4" r="7.2"/><circle cx="793.9" cy="400.4" r="7.2"/><circle cx="794.6" cy="400.4" r="7.2"/><circle cx="794.9" cy="400.4" r="7.2"/><circle cx="797.3" cy="400.4" r="7.2"/><circle cx="798.9" cy="400.4" r="7.2"/><circle cx="799.4" cy="400.4" r="7.2"/><circle cx="801.4" cy="400.4" r="7.2"/><circle cx="801.7" cy="400.4" r="7.2"/><circle cx="802.0" cy="400.4" r="7.2"/><circle cx="802.3" cy="400.4" r="7.2"/><circle cx="802.6" cy="400.4" r="7.2"/><circle cx="803.1" cy="400.4" r="7.2"/><circle cx="804.3" cy="400.4" r="7.2"/><circle cx="804.6" cy="400.4" r="7.2"/><circle cx="805.4" cy="400.4" r="7.2"/><circle cx="805.7" cy="400.4" r="7.2"/><circle cx="806.1" cy="400.4" r="7.2"/><circle cx="806.6" cy="400.4" r="7.2"/><circle cx="806.9" cy="400.4" r="7.2"/><circle cx="807.2" cy="400.4" r="7.2"/><circle cx="807.8" cy="400.4" r="7.2"/><circle cx="808.6" cy="400.4" r="7.2"/><circle cx="808.9" cy="400.4" r="7.2"/><circle cx="810.0" cy="400.4" r="7.2"/><circle cx="810.6" cy="400.4" r="7.2"/><circle cx="811.5" cy="400.4" r="7.2"/><circle cx="813.8" cy="400.4" r="7.2"/><circle cx="814.8" cy="400.4" r="7.2"/><circle cx="816.6" cy="400.4" r="7.2"/><circle cx="817.2" cy="400.4" r="7.2"/><circle cx="818.1" cy="400.4" r="7.2"/><circle cx="818.4" cy="400.4" r="7.2"/><circle cx="818.9" cy="400.4" r="7.2"/><circle cx="819.6" cy="400.4" r="7.2"/><circle cx="825.8" cy="400.4" r="7.2"/><circle cx="828.5" cy="400.4" r="7.2"/><circle cx="830.4" cy="400.4" r="7.2"/><circle cx="830.7" cy="400.4" r="7.2"/><circle cx="831.1" cy="400.4" r="7.2"/><circle cx="833.4" cy="400.4" r="7.2"/><circle cx="833.7" cy="400.4" r="7.2"/><circle cx="835.1" cy="400.4" r="7.2"/><circle cx="837.2" cy="400.4" r="7.2"/><circle cx="837.6" cy="400.4" r="7.2"/><circle cx="837.9" cy="400.4" r="7.2"/><circle cx="838.2" cy="400.4" r="7.2"/><circle cx="838.7" cy="400.4" r="7.2"/><circle cx="840.0" cy="400.4" r="7.2"/><circle cx="840.4" cy="400.4" r="7.2"/><circle cx="846.5" cy="400.4" r="7.2"/><circle cx="847.3" cy="400.4" r="7.2"/><circle cx="847.6" cy="400.4" r="7.2"/><circle cx="848.7" cy="400.4" r="7.2"/><circle cx="849.3" cy="400.4" r="7.2"/><circle cx="849.7" cy="400.4" r="7.2"/><circle cx="850.2" cy="400.4" r="7.2"/><circle cx="850.5" cy="400.4" r="7.2"/><circle cx="850.8" cy="400.4" r="7.2"/><circle cx="851.1" cy="400.4" r="7.2"/><circle cx="851.9" cy="400.4" r="7.2"/><circle cx="852.5" cy="400.4" r="7.2"/><circle cx="855.0" cy="400.4" r="7.2"/><circle cx="856.2" cy="400.4" r="7.2"/><circle cx="856.7" cy="400.4" r="7.2"/><circle cx="857.8" cy="400.4" r="7.2"/><circle cx="860.1" cy="400.4" r="7.2"/><circle cx="860.8" cy="400.4" r="7.2"/><circle cx="863.7" cy="400.4" r="7.2"/><circle cx="864.9" cy="400.4" r="7.2"/><circle cx="870.6" cy="400.4" r="7.2"/><circle cx="870.9" cy="400.4" r="7.2"/><circle cx="877.1" cy="400.4" r="7.2"/><circle cx="878.5" cy="400.4" r="7.2"/><circle cx="668.8" cy="392.3" r="7.2"/><circle cx="669.2" cy="392.3" r="7.2"/><circle cx="675.4" cy="392.3" r="7.2"/><circle cx="677.2" cy="392.3" r="7.2"/><circle cx="678.7" cy="392.3" r="7.2"/><circle cx="690.6" cy="392.3" r="7.2"/><circle cx="692.8" cy="392.3" r="7.2"/><circle cx="694.8" cy="392.3" r="7.2"/><circle cx="696.0" cy="392.3" r="7.2"/><circle cx="696.3" cy="392.3" r="7.2"/><circle cx="698.0" cy="392.3" r="7.2"/><circle cx="702.1" cy="392.3" r="7.2"/><circle cx="703.7" cy="392.3" r="7.2"/><circle cx="705.4" cy="392.3" r="7.2"/><circle cx="706.1" cy="392.3" r="7.2"/><circle cx="706.4" cy="392.3" r="7.2"/><circle cx="707.4" cy="392.3" r="7.2"/><circle cx="707.9" cy="392.3" r="7.2"/><circle cx="711.0" cy="392.3" r="7.2"/><circle cx="711.4" cy="392.3" r="7.2"/><circle cx="713.3" cy="392.3" r="7.2"/><circle cx="713.6" cy="392.3" r="7.2"/><circle cx="715.0" cy="392.3" r="7.2"/><circle cx="715.3" cy="392.3" r="7.2"/><circle cx="715.6" cy="392.3" r="7.2"/><circle cx="716.6" cy="392.3" r="7.2"/><circle cx="716.9" cy="392.3" r="7.2"/><circle cx="720.5" cy="392.3" r="7.2"/><circle cx="722.6" cy="392.3" r="7.2"/><circle cx="723.9" cy="392.3" r="7.2"/><circle cx="725.2" cy="392.3" r="7.2"/><circle cx="725.5" cy="392.3" r="7.2"/><circle cx="725.8" cy="392.3" r="7.2"/><circle cx="726.9" cy="392.3" r="7.2"/><circle cx="728.1" cy="392.3" r="7.2"/><circle cx="729.2" cy="392.3" r="7.2"/><circle cx="730.2" cy="392.3" r="7.2"/><circle cx="730.5" cy="392.3" r="7.2"/><circle cx="730.8" cy="392.3" r="7.2"/><circle cx="731.3" cy="392.3" r="7.2"/><circle cx="734.9" cy="392.3" r="7.2"/><circle cx="735.4" cy="392.3" r="7.2"/><circle cx="737.5" cy="392.3" r="7.2"/><circle cx="737.8" cy="392.3" r="7.2"/><circle cx="739.2" cy="392.3" r="7.2"/><circle cx="739.5" cy="392.3" r="7.2"/><circle cx="739.8" cy="392.3" r="7.2"/><circle cx="740.1" cy="392.3" r="7.2"/><circle cx="741.1" cy="392.3" r="7.2"/><circle cx="741.4" cy="392.3" r="7.2"/><circle cx="741.7" cy="392.3" r="7.2"/><circle cx="743.3" cy="392.3" r="7.2"/><circle cx="744.3" cy="392.3" r="7.2"/><circle cx="744.6" cy="392.3" r="7.2"/><circle cx="746.0" cy="392.3" r="7.2"/><circle cx="746.3" cy="392.3" r="7.2"/><circle cx="747.5" cy="392.3" r="7.2"/><circle cx="748.5" cy="392.3" r="7.2"/><circle cx="748.8" cy="392.3" r="7.2"/><circle cx="750.7" cy="392.3" r="7.2"/><circle cx="751.0" cy="392.3" r="7.2"/><circle cx="753.5" cy="392.3" r="7.2"/><circle cx="753.8" cy="392.3" r="7.2"/><circle cx="757.3" cy="392.3" r="7.2"/><circle cx="757.7" cy="392.3" r="7.2"/><circle cx="759.3" cy="392.3" r="7.2"/><circle cx="759.9" cy="392.3" r="7.2"/><circle cx="760.8" cy="392.3" r="7.2"/><circle cx="761.3" cy="392.3" r="7.2"/><circle cx="761.8" cy="392.3" r="7.2"/><circle cx="762.1" cy="392.3" r="7.2"/><circle cx="762.6" cy="392.3" r="7.2"/><circle cx="763.8" cy="392.3" r="7.2"/><circle cx="764.1" cy="392.3" r="7.2"/><circle cx="764.6" cy="392.3" r="7.2"/><circle cx="764.9" cy="392.3" r="7.2"/><circle cx="765.2" cy="392.3" r="7.2"/><circle cx="765.5" cy="392.3" r="7.2"/><circle cx="765.8" cy="392.3" r="7.2"/><circle cx="766.1" cy="392.3" r="7.2"/><circle cx="766.6" cy="392.3" r="7.2"/><circle cx="767.1" cy="392.3" r="7.2"/><circle cx="768.2" cy="392.3" r="7.2"/><circle cx="770.7" cy="392.3" r="7.2"/><circle cx="772.8" cy="392.3" r="7.2"/><circle cx="773.3" cy="392.3" r="7.2"/><circle cx="773.6" cy="392.3" r="7.2"/><circle cx="774.4" cy="392.3" r="7.2"/><circle cx="774.7" cy="392.3" r="7.2"/><circle cx="777.8" cy="392.3" r="7.2"/><circle cx="778.6" cy="392.3" r="7.2"/><circle cx="780.1" cy="392.3" r="7.2"/><circle cx="781.9" cy="392.3" r="7.2"/><circle cx="783.6" cy="392.3" r="7.2"/><circle cx="784.3" cy="392.3" r="7.2"/><circle cx="786.1" cy="392.3" r="7.2"/><circle cx="787.0" cy="392.3" r="7.2"/><circle cx="788.9" cy="392.3" r="7.2"/><circle cx="789.3" cy="392.3" r="7.2"/><circle cx="791.4" cy="392.3" r="7.2"/><circle cx="791.7" cy="392.3" r="7.2"/><circle cx="794.2" cy="392.3" r="7.2"/><circle cx="795.1" cy="392.3" r="7.2"/><circle cx="795.4" cy="392.3" r="7.2"/><circle cx="796.3" cy="392.3" r="7.2"/><circle cx="797.2" cy="392.3" r="7.2"/><circle cx="798.5" cy="392.3" r="7.2"/><circle cx="800.5" cy="392.3" r="7.2"/><circle cx="800.8" cy="392.3" r="7.2"/><circle cx="802.1" cy="392.3" r="7.2"/><circle cx="803.7" cy="392.3" r="7.2"/><circle cx="805.2" cy="392.3" r="7.2"/><circle cx="808.0" cy="392.3" r="7.2"/><circle cx="810.2" cy="392.3" r="7.2"/><circle cx="810.5" cy="392.3" r="7.2"/><circle cx="811.3" cy="392.3" r="7.2"/><circle cx="812.2" cy="392.3" r="7.2"/><circle cx="815.5" cy="392.3" r="7.2"/><circle cx="815.8" cy="392.3" r="7.2"/><circle cx="817.3" cy="392.3" r="7.2"/><circle cx="818.3" cy="392.3" r="7.2"/><circle cx="818.7" cy="392.3" r="7.2"/><circle cx="819.7" cy="392.3" r="7.2"/><circle cx="820.1" cy="392.3" r="7.2"/><circle cx="821.6" cy="392.3" r="7.2"/><circle cx="821.9" cy="392.3" r="7.2"/><circle cx="822.4" cy="392.3" r="7.2"/><circle cx="822.7" cy="392.3" r="7.2"/><circle cx="823.0" cy="392.3" r="7.2"/><circle cx="824.6" cy="392.3" r="7.2"/><circle cx="824.9" cy="392.3" r="7.2"/><circle cx="825.2" cy="392.3" r="7.2"/><circle cx="825.6" cy="392.3" r="7.2"/><circle cx="826.6" cy="392.3" r="7.2"/><circle cx="827.5" cy="392.3" r="7.2"/><circle cx="827.8" cy="392.3" r="7.2"/><circle cx="830.0" cy="392.3" r="7.2"/><circle cx="830.6" cy="392.3" r="7.2"/><circle cx="831.1" cy="392.3" r="7.2"/><circle cx="831.5" cy="392.3" r="7.2"/><circle cx="831.9" cy="392.3" r="7.2"/><circle cx="832.4" cy="392.3" r="7.2"/><circle cx="832.7" cy="392.3" r="7.2"/><circle cx="833.5" cy="392.3" r="7.2"/><circle cx="833.8" cy="392.3" r="7.2"/><circle cx="834.2" cy="392.3" r="7.2"/><circle cx="834.7" cy="392.3" r="7.2"/><circle cx="835.0" cy="392.3" r="7.2"/><circle cx="835.3" cy="392.3" r="7.2"/><circle cx="835.6" cy="392.3" r="7.2"/><circle cx="836.2" cy="392.3" r="7.2"/><circle cx="836.5" cy="392.3" r="7.2"/><circle cx="836.8" cy="392.3" r="7.2"/><circle cx="837.1" cy="392.3" r="7.2"/><circle cx="838.3" cy="392.3" r="7.2"/><circle cx="838.6" cy="392.3" r="7.2"/><circle cx="839.4" cy="392.3" r="7.2"/><circle cx="840.1" cy="392.3" r="7.2"/><circle cx="841.1" cy="392.3" r="7.2"/><circle cx="843.4" cy="392.3" r="7.2"/><circle cx="844.4" cy="392.3" r="7.2"/><circle cx="845.3" cy="392.3" r="7.2"/><circle cx="845.9" cy="392.3" r="7.2"/><circle cx="847.7" cy="392.3" r="7.2"/><circle cx="850.4" cy="392.3" r="7.2"/><circle cx="850.7" cy="392.3" r="7.2"/><circle cx="851.3" cy="392.3" r="7.2"/><circle cx="851.9" cy="392.3" r="7.2"/><circle cx="854.2" cy="392.3" r="7.2"/><circle cx="855.4" cy="392.3" r="7.2"/><circle cx="856.3" cy="392.3" r="7.2"/><circle cx="856.6" cy="392.3" r="7.2"/><circle cx="857.0" cy="392.3" r="7.2"/><circle cx="859.4" cy="392.3" r="7.2"/><circle cx="859.8" cy="392.3" r="7.2"/><circle cx="860.1" cy="392.3" r="7.2"/><circle cx="860.8" cy="392.3" r="7.2"/><circle cx="861.4" cy="392.3" r="7.2"/><circle cx="862.5" cy="392.3" r="7.2"/><circle cx="862.9" cy="392.3" r="7.2"/><circle cx="863.2" cy="392.3" r="7.2"/><circle cx="863.5" cy="392.3" r="7.2"/><circle cx="863.8" cy="392.3" r="7.2"/><circle cx="866.1" cy="392.3" r="7.2"/><circle cx="866.6" cy="392.3" r="7.2"/><circle cx="869.0" cy="392.3" r="7.2"/><circle cx="870.3" cy="392.3" r="7.2"/><circle cx="870.8" cy="392.3" r="7.2"/><circle cx="884.6" cy="392.3" r="7.2"/><circle cx="889.7" cy="392.3" r="7.2"/><circle cx="1222.5" cy="222.5" r="7.2"/><circle cx="1160.0" cy="192.0" r="7.2"/><circle cx="1161.7" cy="219.5" r="7.2"/><circle cx="1124.2" cy="199.5" r="7.2"/><circle cx="1122.0" cy="219.5" r="7.2"/><circle cx="1119.5" cy="235.0" r="7.2"/><circle cx="1130.0" cy="238.0" r="7.2"/><circle cx="1139.5" cy="283.0" r="7.2"/><circle cx="1128.0" cy="301.2" r="7.2"/><circle cx="1108.9" cy="363.2" r="7.2"/><circle cx="1075.0" cy="182.2" r="7.2"/><circle cx="1093.3" cy="188.8" r="7.2"/><circle cx="1078.3" cy="197.5" r="7.2"/><circle cx="1078.8" cy="203.3" r="7.2"/><circle cx="1088.7" cy="205.3" r="7.2"/><circle cx="1093.7" cy="197.5" r="7.2"/><circle cx="1099.7" cy="200.0" r="7.2"/><circle cx="1037.8" cy="186.7" r="7.2"/><circle cx="1030.8" cy="202.5" r="7.2"/><circle cx="1052.0" cy="216.3" r="7.2"/><circle cx="1057.5" cy="225.3" r="7.2"/><circle cx="1070.0" cy="238.3" r="7.2"/><circle cx="1058.0" cy="248.3" r="7.2"/><circle cx="1044.7" cy="255.8" r="7.2"/><circle cx="1059.2" cy="267.0" r="7.2"/><circle cx="1092.5" cy="252.2" r="7.2"/><circle cx="1102.0" cy="248.3" r="7.2"/><circle cx="1099.2" cy="267.0" r="7.2"/><circle cx="1077.5" cy="292.0" r="7.2"/><circle cx="1047.5" cy="291.7" r="7.2"/><circle cx="1030.3" cy="301.3" r="7.2"/><circle cx="1030.6" cy="301.8" r="7.2"/><circle cx="1043.0" cy="306.3" r="7.2"/><circle cx="1078.3" cy="321.0" r="7.2"/><circle cx="1096.7" cy="321.0" r="7.2"/><circle cx="1012.5" cy="181.7" r="7.2"/><circle cx="1015.3" cy="187.0" r="7.2"/><circle cx="978.3" cy="182.2" r="7.2"/><circle cx="981.3" cy="190.0" r="7.2"/><circle cx="978.3" cy="202.5" r="7.2"/><circle cx="920.0" cy="179.7" r="7.2"/><circle cx="921.2" cy="185.8" r="7.2"/><circle cx="923.3" cy="192.0" r="7.2"/><circle cx="900.8" cy="190.0" r="7.2"/><circle cx="905.3" cy="189.2" r="7.2"/><circle cx="1060.8" cy="332.2" r="7.2"/><circle cx="996.7" cy="326.7" r="7.2"/><circle cx="1001.7" cy="326.7" r="7.2"/><circle cx="1014.2" cy="326.7" r="7.2"/><circle cx="1028.0" cy="332.5" r="7.2"/><circle cx="981.7" cy="337.5" r="7.2"/><circle cx="977.8" cy="344.2" r="7.2"/><circle cx="993.3" cy="344.2" r="7.2"/><circle cx="984.2" cy="370.0" r="7.2"/><circle cx="975.5" cy="377.2" r="7.2"/><circle cx="1002.0" cy="377.2" r="7.2"/><circle cx="930.8" cy="384.6" r="7.2"/><circle cx="715.8" cy="275.0" r="7.2"/><circle cx="751.2" cy="228.7" r="7.2"/><circle cx="759.2" cy="213.7" r="7.2"/><circle cx="766.3" cy="210.8" r="7.2"/><circle cx="784.7" cy="210.8" r="7.2"/><circle cx="791.7" cy="216.7" r="7.2"/><circle cx="804.2" cy="222.5" r="7.2"/><circle cx="810.0" cy="205.3" r="7.2"/><circle cx="820.0" cy="200.0" r="7.2"/><circle cx="824.2" cy="196.7" r="7.2"/><circle cx="828.7" cy="200.0" r="7.2"/><circle cx="824.7" cy="203.3" r="7.2"/><circle cx="832.5" cy="202.5" r="7.2"/><circle cx="849.2" cy="194.7" r="7.2"/><circle cx="850.5" cy="205.8" r="7.2"/><circle cx="860.0" cy="179.5" r="7.2"/><circle cx="873.3" cy="186.7" r="7.2"/><circle cx="878.7" cy="196.7" r="7.2"/><circle cx="982.4" cy="193.7" r="7.2"/><circle cx="990.9" cy="191.9" r="7.2"/><circle cx="990.9" cy="196.9" r="7.2"/><circle cx="1000.3" cy="194.2" r="7.2"/><circle cx="1003.0" cy="199.5" r="7.2"/><circle cx="1013.7" cy="197.8" r="7.2"/><circle cx="1014.6" cy="203.1" r="7.2"/><circle cx="1006.6" cy="196.0" r="7.2"/><circle cx="997.6" cy="209.4" r="7.2"/><circle cx="999.4" cy="216.6" r="7.2"/><circle cx="1002.1" cy="221.0" r="7.2"/><circle cx="995.8" cy="220.1" r="7.2"/><circle cx="1006.6" cy="220.1" r="7.2"/><circle cx="998.5" cy="225.5" r="7.2"/><circle cx="1003.0" cy="227.3" r="7.2"/><circle cx="1017.3" cy="216.6" r="7.2"/><circle cx="1031.6" cy="219.2" r="7.2"/><circle cx="1025.4" cy="225.5" r="7.2"/><circle cx="1028.0" cy="230.0" r="7.2"/><circle cx="1037.9" cy="234.5" r="7.2"/><circle cx="1017.3" cy="232.7" r="7.2"/><circle cx="1009.2" cy="238.0" r="7.2"/><circle cx="1018.2" cy="240.7" r="7.2"/><circle cx="1020.9" cy="244.3" r="7.2"/><circle cx="1029.8" cy="250.6" r="7.2"/><circle cx="1013.7" cy="253.3" r="7.2"/><circle cx="994.9" cy="235.4" r="7.2"/><circle cx="982.4" cy="232.7" r="7.2"/><circle cx="977.9" cy="227.3" r="7.2"/><circle cx="989.5" cy="241.6" r="7.2"/><circle cx="964.9" cy="216.1" r="7.2"/><circle cx="979.7" cy="216.6" r="7.2"/><circle cx="1033.4" cy="252.7" r="7.2"/><circle cx="1014.6" cy="255.4" r="7.2"/><circle cx="1014.2" cy="263.4" r="7.2"/><circle cx="1013.7" cy="267.9" r="7.2"/><circle cx="1026.2" cy="267.0" r="7.2"/><circle cx="1003.9" cy="283.1" r="7.2"/><circle cx="990.4" cy="283.1" r="7.2"/><circle cx="1017.3" cy="282.2" r="7.2"/><circle cx="1019.1" cy="279.5" r="7.2"/><circle cx="1015.5" cy="284.0" r="7.2"/><circle cx="1017.3" cy="292.1" r="7.2"/><circle cx="991.3" cy="262.5" r="7.2"/><circle cx="990.4" cy="256.3" r="7.2"/><circle cx="986.9" cy="298.3" r="7.2"/><circle cx="988.6" cy="301.9" r="7.2"/><circle cx="980.6" cy="296.6" r="7.2"/><circle cx="973.9" cy="307.3" r="7.2"/><circle cx="972.5" cy="303.7" r="7.2"/><circle cx="974.8" cy="321.6" r="7.2"/><circle cx="963.1" cy="326.3" r="7.2"/><circle cx="953.8" cy="338.1" r="7.2"/><circle cx="947.5" cy="350.0" r="7.2"/><circle cx="953.8" cy="356.3" r="7.2"/><circle cx="943.8" cy="363.1" r="7.2"/><circle cx="932.5" cy="350.0" r="7.2"/><circle cx="933.5" cy="350.6" r="7.2"/><circle cx="925.0" cy="362.5" r="7.2"/><circle cx="926.0" cy="363.2" r="7.2"/><circle cx="925.0" cy="370.0" r="7.2"/><circle cx="942.5" cy="326.3" r="7.2"/><circle cx="930.0" cy="331.3" r="7.2"/><circle cx="911.9" cy="204.9" r="7.2"/><circle cx="940.0" cy="204.3" r="7.2"/><circle cx="945.6" cy="207.4" r="7.2"/><circle cx="926.3" cy="209.3" r="7.2"/><circle cx="900.0" cy="203.0" r="7.2"/><circle cx="891.9" cy="209.3" r="7.2"/><circle cx="877.5" cy="208.0" r="7.2"/><circle cx="887.5" cy="208.0" r="7.2"/><circle cx="873.8" cy="209.3" r="7.2"/><circle cx="851.3" cy="209.3" r="7.2"/><circle cx="783.8" cy="231.9" r="7.2"/><circle cx="790.0" cy="230.0" r="7.2"/><circle cx="793.8" cy="227.5" r="7.2"/><circle cx="779.4" cy="238.8" r="7.2"/><circle cx="788.8" cy="245.0" r="7.2"/><circle cx="797.5" cy="237.5" r="7.2"/><circle cx="763.1" cy="244.4" r="7.2"/><circle cx="771.3" cy="248.8" r="7.2"/><circle cx="735.0" cy="274.4" r="7.2"/><circle cx="736.9" cy="278.8" r="7.2"/><circle cx="741.9" cy="266.3" r="7.2"/><circle cx="751.3" cy="256.3" r="7.2"/><circle cx="754.4" cy="262.5" r="7.2"/><circle cx="748.8" cy="280.0" r="7.2"/><circle cx="707.5" cy="326.3" r="7.2"/><circle cx="709.4" cy="327.5" r="7.2"/><circle cx="716.3" cy="310.0" r="7.2"/><circle cx="720.0" cy="300.0" r="7.2"/><circle cx="723.8" cy="296.3" r="7.2"/><circle cx="718.8" cy="305.0" r="7.2"/><circle cx="680.0" cy="349.4" r="7.2"/><circle cx="696.3" cy="343.8" r="7.2"/><circle cx="700.0" cy="350.0" r="7.2"/><circle cx="690.0" cy="357.5" r="7.2"/><circle cx="677.5" cy="368.8" r="7.2"/><circle cx="697.5" cy="367.5" r="7.2"/><circle cx="640.7" cy="384.5" r="7.2"/><circle cx="657.1" cy="377.0" r="7.2"/><circle cx="668.0" cy="377.0" r="7.2"/><circle cx="677.1" cy="337.8" r="7.2"/><circle cx="675.6" cy="356.3" r="7.2"/><circle cx="704.0" cy="315.6" r="7.2"/><circle cx="678.4" cy="384.5" r="7.2"/><circle cx="680.0" cy="384.5" r="7.2"/><circle cx="684.5" cy="384.5" r="7.2"/><circle cx="690.7" cy="384.5" r="7.2"/><circle cx="691.9" cy="384.5" r="7.2"/><circle cx="693.7" cy="384.5" r="7.2"/><circle cx="695.2" cy="384.5" r="7.2"/><circle cx="695.6" cy="384.5" r="7.2"/><circle cx="697.4" cy="384.5" r="7.2"/><circle cx="698.1" cy="384.5" r="7.2"/><circle cx="698.7" cy="384.5" r="7.2"/><circle cx="699.1" cy="384.5" r="7.2"/><circle cx="700.0" cy="384.5" r="7.2"/><circle cx="700.7" cy="384.5" r="7.2"/><circle cx="701.8" cy="384.5" r="7.2"/><circle cx="702.5" cy="384.5" r="7.2"/><circle cx="703.2" cy="384.5" r="7.2"/><circle cx="704.3" cy="384.5" r="7.2"/><circle cx="704.8" cy="384.5" r="7.2"/><circle cx="705.0" cy="384.5" r="7.2"/><circle cx="706.3" cy="384.5" r="7.2"/><circle cx="709.3" cy="384.5" r="7.2"/><circle cx="712.3" cy="384.5" r="7.2"/><circle cx="715.2" cy="384.5" r="7.2"/><circle cx="715.7" cy="384.5" r="7.2"/><circle cx="716.9" cy="384.5" r="7.2"/><circle cx="718.9" cy="384.5" r="7.2"/><circle cx="720.4" cy="384.5" r="7.2"/><circle cx="723.7" cy="384.5" r="7.2"/><circle cx="724.6" cy="384.5" r="7.2"/><circle cx="726.4" cy="384.5" r="7.2"/><circle cx="729.9" cy="384.5" r="7.2"/><circle cx="730.5" cy="384.5" r="7.2"/><circle cx="730.9" cy="384.5" r="7.2"/><circle cx="731.3" cy="384.5" r="7.2"/><circle cx="732.3" cy="384.5" r="7.2"/><circle cx="732.9" cy="384.5" r="7.2"/><circle cx="733.3" cy="384.5" r="7.2"/><circle cx="734.1" cy="384.5" r="7.2"/><circle cx="735.3" cy="384.5" r="7.2"/><circle cx="735.6" cy="384.5" r="7.2"/><circle cx="740.6" cy="384.5" r="7.2"/><circle cx="741.1" cy="384.5" r="7.2"/><circle cx="742.4" cy="384.5" r="7.2"/><circle cx="742.6" cy="384.5" r="7.2"/><circle cx="744.9" cy="384.5" r="7.2"/><circle cx="745.1" cy="384.5" r="7.2"/><circle cx="745.8" cy="384.5" r="7.2"/><circle cx="747.2" cy="384.5" r="7.2"/><circle cx="747.9" cy="384.5" r="7.2"/><circle cx="750.0" cy="384.5" r="7.2"/><circle cx="751.8" cy="384.5" r="7.2"/><circle cx="753.0" cy="384.5" r="7.2"/><circle cx="753.7" cy="384.5" r="7.2"/><circle cx="756.7" cy="384.5" r="7.2"/><circle cx="757.9" cy="384.5" r="7.2"/><circle cx="759.0" cy="384.5" r="7.2"/><circle cx="759.0" cy="384.5" r="7.2"/><circle cx="759.9" cy="384.5" r="7.2"/><circle cx="760.1" cy="384.5" r="7.2"/><circle cx="760.6" cy="384.5" r="7.2"/><circle cx="761.2" cy="384.5" r="7.2"/><circle cx="763.4" cy="384.5" r="7.2"/><circle cx="763.9" cy="384.5" r="7.2"/><circle cx="765.5" cy="384.5" r="7.2"/><circle cx="770.1" cy="384.5" r="7.2"/><circle cx="772.0" cy="384.5" r="7.2"/><circle cx="773.4" cy="384.5" r="7.2"/><circle cx="778.0" cy="384.5" r="7.2"/><circle cx="780.2" cy="384.5" r="7.2"/><circle cx="781.0" cy="384.5" r="7.2"/><circle cx="781.4" cy="384.5" r="7.2"/><circle cx="782.9" cy="384.5" r="7.2"/><circle cx="783.7" cy="384.5" r="7.2"/><circle cx="784.6" cy="384.5" r="7.2"/><circle cx="785.7" cy="384.5" r="7.2"/><circle cx="786.3" cy="384.5" r="7.2"/><circle cx="788.1" cy="384.5" r="7.2"/><circle cx="789.4" cy="384.5" r="7.2"/><circle cx="792.2" cy="384.5" r="7.2"/><circle cx="793.7" cy="384.5" r="7.2"/><circle cx="797.9" cy="384.5" r="7.2"/><circle cx="798.2" cy="384.5" r="7.2"/><circle cx="799.2" cy="384.5" r="7.2"/><circle cx="800.3" cy="384.5" r="7.2"/><circle cx="800.7" cy="384.5" r="7.2"/><circle cx="801.1" cy="384.5" r="7.2"/><circle cx="801.9" cy="384.5" r="7.2"/><circle cx="802.5" cy="384.5" r="7.2"/><circle cx="804.3" cy="384.5" r="7.2"/><circle cx="805.0" cy="384.5" r="7.2"/><circle cx="805.6" cy="384.5" r="7.2"/><circle cx="809.8" cy="384.5" r="7.2"/><circle cx="812.0" cy="384.5" r="7.2"/><circle cx="812.1" cy="384.5" r="7.2"/><circle cx="812.8" cy="384.5" r="7.2"/><circle cx="814.8" cy="384.5" r="7.2"/><circle cx="815.4" cy="384.5" r="7.2"/><circle cx="817.4" cy="384.5" r="7.2"/><circle cx="817.7" cy="384.5" r="7.2"/><circle cx="823.1" cy="384.5" r="7.2"/><circle cx="823.9" cy="384.5" r="7.2"/><circle cx="824.5" cy="384.5" r="7.2"/><circle cx="825.7" cy="384.5" r="7.2"/><circle cx="827.1" cy="384.5" r="7.2"/><circle cx="827.8" cy="384.5" r="7.2"/><circle cx="830.8" cy="384.5" r="7.2"/><circle cx="831.6" cy="384.5" r="7.2"/><circle cx="832.1" cy="384.5" r="7.2"/><circle cx="832.5" cy="384.5" r="7.2"/><circle cx="833.1" cy="384.5" r="7.2"/><circle cx="833.5" cy="384.5" r="7.2"/><circle cx="834.3" cy="384.5" r="7.2"/><circle cx="834.9" cy="384.5" r="7.2"/><circle cx="835.3" cy="384.5" r="7.2"/><circle cx="835.8" cy="384.5" r="7.2"/><circle cx="838.5" cy="384.5" r="7.2"/><circle cx="840.1" cy="384.5" r="7.2"/><circle cx="842.3" cy="384.5" r="7.2"/><circle cx="845.4" cy="384.5" r="7.2"/><circle cx="849.8" cy="384.5" r="7.2"/><circle cx="851.1" cy="384.5" r="7.2"/><circle cx="854.4" cy="384.5" r="7.2"/><circle cx="855.3" cy="384.5" r="7.2"/><circle cx="855.8" cy="384.5" r="7.2"/><circle cx="856.4" cy="384.5" r="7.2"/><circle cx="856.7" cy="384.5" r="7.2"/><circle cx="858.1" cy="384.5" r="7.2"/><circle cx="859.1" cy="384.5" r="7.2"/><circle cx="861.8" cy="384.5" r="7.2"/><circle cx="862.4" cy="384.5" r="7.2"/><circle cx="863.6" cy="384.5" r="7.2"/><circle cx="864.6" cy="384.5" r="7.2"/><circle cx="865.7" cy="384.5" r="7.2"/><circle cx="867.1" cy="384.5" r="7.2"/><circle cx="870.5" cy="384.5" r="7.2"/><circle cx="870.9" cy="384.5" r="7.2"/><circle cx="871.5" cy="384.5" r="7.2"/><circle cx="873.4" cy="384.5" r="7.2"/><circle cx="875.1" cy="384.5" r="7.2"/><circle cx="879.2" cy="384.5" r="7.2"/><circle cx="882.1" cy="384.5" r="7.2"/><circle cx="883.4" cy="384.5" r="7.2"/><circle cx="884.6" cy="384.5" r="7.2"/><circle cx="888.9" cy="384.5" r="7.2"/><circle cx="900.5" cy="384.5" r="7.2"/><circle cx="676.7" cy="377.0" r="7.2"/><circle cx="677.7" cy="377.0" r="7.2"/><circle cx="682.4" cy="377.0" r="7.2"/><circle cx="686.8" cy="377.0" r="7.2"/><circle cx="689.9" cy="377.0" r="7.2"/><circle cx="694.1" cy="377.0" r="7.2"/><circle cx="695.3" cy="377.0" r="7.2"/><circle cx="695.8" cy="377.0" r="7.2"/><circle cx="698.3" cy="377.0" r="7.2"/><circle cx="699.3" cy="377.0" r="7.2"/><circle cx="701.7" cy="377.0" r="7.2"/><circle cx="703.1" cy="377.0" r="7.2"/><circle cx="703.5" cy="377.0" r="7.2"/><circle cx="704.9" cy="377.0" r="7.2"/><circle cx="705.2" cy="377.0" r="7.2"/><circle cx="705.6" cy="377.0" r="7.2"/><circle cx="707.8" cy="377.0" r="7.2"/><circle cx="709.1" cy="377.0" r="7.2"/><circle cx="710.0" cy="377.0" r="7.2"/><circle cx="710.7" cy="377.0" r="7.2"/><circle cx="711.0" cy="377.0" r="7.2"/><circle cx="712.3" cy="377.0" r="7.2"/><circle cx="712.6" cy="377.0" r="7.2"/><circle cx="714.6" cy="377.0" r="7.2"/><circle cx="715.2" cy="377.0" r="7.2"/><circle cx="717.8" cy="377.0" r="7.2"/><circle cx="718.2" cy="377.0" r="7.2"/><circle cx="719.0" cy="377.0" r="7.2"/><circle cx="719.6" cy="377.0" r="7.2"/><circle cx="720.1" cy="377.0" r="7.2"/><circle cx="722.1" cy="377.0" r="7.2"/><circle cx="723.0" cy="377.0" r="7.2"/><circle cx="723.2" cy="377.0" r="7.2"/><circle cx="725.2" cy="377.0" r="7.2"/><circle cx="730.7" cy="377.0" r="7.2"/><circle cx="731.7" cy="377.0" r="7.2"/><circle cx="732.2" cy="377.0" r="7.2"/><circle cx="732.9" cy="377.0" r="7.2"/><circle cx="733.7" cy="377.0" r="7.2"/><circle cx="734.7" cy="377.0" r="7.2"/><circle cx="735.5" cy="377.0" r="7.2"/><circle cx="737.1" cy="377.0" r="7.2"/><circle cx="740.4" cy="377.0" r="7.2"/><circle cx="741.5" cy="377.0" r="7.2"/><circle cx="742.2" cy="377.0" r="7.2"/><circle cx="742.7" cy="377.0" r="7.2"/><circle cx="743.4" cy="377.0" r="7.2"/><circle cx="744.9" cy="377.0" r="7.2"/><circle cx="746.2" cy="377.0" r="7.2"/><circle cx="747.9" cy="377.0" r="7.2"/><circle cx="749.3" cy="377.0" r="7.2"/><circle cx="750.3" cy="377.0" r="7.2"/><circle cx="751.2" cy="377.0" r="7.2"/><circle cx="751.7" cy="377.0" r="7.2"/><circle cx="752.0" cy="377.0" r="7.2"/><circle cx="752.8" cy="377.0" r="7.2"/><circle cx="753.5" cy="377.0" r="7.2"/><circle cx="754.0" cy="377.0" r="7.2"/><circle cx="755.8" cy="377.0" r="7.2"/><circle cx="757.3" cy="377.0" r="7.2"/><circle cx="758.3" cy="377.0" r="7.2"/><circle cx="758.8" cy="377.0" r="7.2"/><circle cx="760.2" cy="377.0" r="7.2"/><circle cx="760.7" cy="377.0" r="7.2"/><circle cx="761.3" cy="377.0" r="7.2"/><circle cx="763.5" cy="377.0" r="7.2"/><circle cx="764.0" cy="377.0" r="7.2"/><circle cx="764.4" cy="377.0" r="7.2"/><circle cx="767.7" cy="377.0" r="7.2"/><circle cx="769.8" cy="377.0" r="7.2"/><circle cx="770.3" cy="377.0" r="7.2"/><circle cx="770.6" cy="377.0" r="7.2"/><circle cx="771.5" cy="377.0" r="7.2"/><circle cx="772.5" cy="377.0" r="7.2"/><circle cx="774.3" cy="377.0" r="7.2"/><circle cx="777.6" cy="377.0" r="7.2"/><circle cx="782.3" cy="377.0" r="7.2"/><circle cx="783.9" cy="377.0" r="7.2"/><circle cx="784.7" cy="377.0" r="7.2"/><circle cx="785.7" cy="377.0" r="7.2"/><circle cx="786.9" cy="377.0" r="7.2"/><circle cx="787.3" cy="377.0" r="7.2"/><circle cx="788.6" cy="377.0" r="7.2"/><circle cx="790.1" cy="377.0" r="7.2"/><circle cx="790.9" cy="377.0" r="7.2"/><circle cx="791.0" cy="377.0" r="7.2"/><circle cx="793.2" cy="377.0" r="7.2"/><circle cx="794.1" cy="377.0" r="7.2"/><circle cx="794.8" cy="377.0" r="7.2"/><circle cx="795.5" cy="377.0" r="7.2"/><circle cx="796.4" cy="377.0" r="7.2"/><circle cx="797.1" cy="377.0" r="7.2"/><circle cx="798.0" cy="377.0" r="7.2"/><circle cx="798.6" cy="377.0" r="7.2"/><circle cx="800.7" cy="377.0" r="7.2"/><circle cx="801.3" cy="377.0" r="7.2"/><circle cx="801.8" cy="377.0" r="7.2"/><circle cx="802.6" cy="377.0" r="7.2"/><circle cx="803.8" cy="377.0" r="7.2"/><circle cx="804.4" cy="377.0" r="7.2"/><circle cx="809.0" cy="377.0" r="7.2"/><circle cx="810.0" cy="377.0" r="7.2"/><circle cx="811.8" cy="377.0" r="7.2"/><circle cx="813.7" cy="377.0" r="7.2"/><circle cx="814.0" cy="377.0" r="7.2"/><circle cx="815.2" cy="377.0" r="7.2"/><circle cx="816.0" cy="377.0" r="7.2"/><circle cx="817.0" cy="377.0" r="7.2"/><circle cx="818.6" cy="377.0" r="7.2"/><circle cx="819.0" cy="377.0" r="7.2"/><circle cx="819.8" cy="377.0" r="7.2"/><circle cx="821.1" cy="377.0" r="7.2"/><circle cx="823.0" cy="377.0" r="7.2"/><circle cx="824.0" cy="377.0" r="7.2"/><circle cx="824.8" cy="377.0" r="7.2"/><circle cx="825.2" cy="377.0" r="7.2"/><circle cx="825.5" cy="377.0" r="7.2"/><circle cx="826.3" cy="377.0" r="7.2"/><circle cx="827.7" cy="377.0" r="7.2"/><circle cx="829.5" cy="377.0" r="7.2"/><circle cx="829.9" cy="377.0" r="7.2"/><circle cx="830.3" cy="377.0" r="7.2"/><circle cx="830.5" cy="377.0" r="7.2"/><circle cx="831.8" cy="377.0" r="7.2"/><circle cx="832.3" cy="377.0" r="7.2"/><circle cx="833.8" cy="377.0" r="7.2"/><circle cx="834.5" cy="377.0" r="7.2"/><circle cx="836.0" cy="377.0" r="7.2"/><circle cx="838.0" cy="377.0" r="7.2"/><circle cx="838.2" cy="377.0" r="7.2"/><circle cx="839.9" cy="377.0" r="7.2"/><circle cx="840.8" cy="377.0" r="7.2"/><circle cx="844.0" cy="377.0" r="7.2"/><circle cx="845.9" cy="377.0" r="7.2"/><circle cx="846.1" cy="377.0" r="7.2"/><circle cx="848.3" cy="377.0" r="7.2"/><circle cx="848.8" cy="377.0" r="7.2"/><circle cx="849.2" cy="377.0" r="7.2"/><circle cx="849.8" cy="377.0" r="7.2"/><circle cx="851.0" cy="377.0" r="7.2"/><circle cx="851.9" cy="377.0" r="7.2"/><circle cx="852.4" cy="377.0" r="7.2"/><circle cx="852.7" cy="377.0" r="7.2"/><circle cx="853.3" cy="377.0" r="7.2"/><circle cx="854.3" cy="377.0" r="7.2"/><circle cx="856.7" cy="377.0" r="7.2"/><circle cx="857.0" cy="377.0" r="7.2"/><circle cx="857.8" cy="377.0" r="7.2"/><circle cx="858.1" cy="377.0" r="7.2"/><circle cx="859.9" cy="377.0" r="7.2"/><circle cx="860.4" cy="377.0" r="7.2"/><circle cx="861.3" cy="377.0" r="7.2"/><circle cx="862.8" cy="377.0" r="7.2"/><circle cx="864.3" cy="377.0" r="7.2"/><circle cx="864.7" cy="377.0" r="7.2"/><circle cx="865.4" cy="377.0" r="7.2"/><circle cx="867.0" cy="377.0" r="7.2"/><circle cx="869.4" cy="377.0" r="7.2"/><circle cx="870.3" cy="377.0" r="7.2"/><circle cx="878.2" cy="377.0" r="7.2"/><circle cx="888.2" cy="377.0" r="7.2"/><circle cx="889.1" cy="377.0" r="7.2"/><circle cx="899.0" cy="377.0" r="7.2"/><circle cx="902.8" cy="377.0" r="7.2"/><circle cx="913.4" cy="377.0" r="7.2"/><circle cx="680.0" cy="369.9" r="7.2"/><circle cx="683.0" cy="369.9" r="7.2"/><circle cx="692.4" cy="369.9" r="7.2"/><circle cx="692.9" cy="369.9" r="7.2"/><circle cx="693.7" cy="369.9" r="7.2"/><circle cx="694.5" cy="369.9" r="7.2"/><circle cx="699.0" cy="369.9" r="7.2"/><circle cx="700.8" cy="369.9" r="7.2"/><circle cx="703.8" cy="369.9" r="7.2"/><circle cx="704.4" cy="369.9" r="7.2"/><circle cx="706.3" cy="369.9" r="7.2"/><circle cx="706.9" cy="369.9" r="7.2"/><circle cx="709.8" cy="369.9" r="7.2"/><circle cx="710.6" cy="369.9" r="7.2"/><circle cx="713.2" cy="369.9" r="7.2"/><circle cx="713.8" cy="369.9" r="7.2"/><circle cx="716.0" cy="369.9" r="7.2"/><circle cx="716.7" cy="369.9" r="7.2"/><circle cx="718.8" cy="369.9" r="7.2"/><circle cx="719.1" cy="369.9" r="7.2"/><circle cx="722.9" cy="369.9" r="7.2"/><circle cx="723.5" cy="369.9" r="7.2"/><circle cx="726.4" cy="369.9" r="7.2"/><circle cx="727.0" cy="369.9" r="7.2"/><circle cx="727.5" cy="369.9" r="7.2"/><circle cx="728.4" cy="369.9" r="7.2"/><circle cx="729.2" cy="369.9" r="7.2"/><circle cx="729.6" cy="369.9" r="7.2"/><circle cx="730.3" cy="369.9" r="7.2"/><circle cx="731.4" cy="369.9" r="7.2"/><circle cx="732.3" cy="369.9" r="7.2"/><circle cx="734.4" cy="369.9" r="7.2"/><circle cx="737.8" cy="369.9" r="7.2"/><circle cx="738.0" cy="369.9" r="7.2"/><circle cx="738.9" cy="369.9" r="7.2"/><circle cx="740.1" cy="369.9" r="7.2"/><circle cx="740.7" cy="369.9" r="7.2"/><circle cx="741.2" cy="369.9" r="7.2"/><circle cx="743.3" cy="369.9" r="7.2"/><circle cx="747.0" cy="369.9" r="7.2"/><circle cx="748.7" cy="369.9" r="7.2"/><circle cx="750.3" cy="369.9" r="7.2"/><circle cx="751.1" cy="369.9" r="7.2"/><circle cx="751.5" cy="369.9" r="7.2"/><circle cx="753.6" cy="369.9" r="7.2"/><circle cx="754.7" cy="369.9" r="7.2"/><circle cx="755.1" cy="369.9" r="7.2"/><circle cx="756.9" cy="369.9" r="7.2"/><circle cx="757.8" cy="369.9" r="7.2"/><circle cx="758.2" cy="369.9" r="7.2"/><circle cx="759.5" cy="369.9" r="7.2"/><circle cx="759.8" cy="369.9" r="7.2"/><circle cx="760.8" cy="369.9" r="7.2"/><circle cx="761.1" cy="369.9" r="7.2"/><circle cx="762.0" cy="369.9" r="7.2"/><circle cx="762.6" cy="369.9" r="7.2"/><circle cx="763.3" cy="369.9" r="7.2"/><circle cx="764.7" cy="369.9" r="7.2"/><circle cx="768.4" cy="369.9" r="7.2"/><circle cx="769.3" cy="369.9" r="7.2"/><circle cx="769.9" cy="369.9" r="7.2"/><circle cx="770.1" cy="369.9" r="7.2"/><circle cx="770.8" cy="369.9" r="7.2"/><circle cx="771.7" cy="369.9" r="7.2"/><circle cx="772.1" cy="369.9" r="7.2"/><circle cx="772.5" cy="369.9" r="7.2"/><circle cx="773.5" cy="369.9" r="7.2"/><circle cx="774.8" cy="369.9" r="7.2"/><circle cx="776.4" cy="369.9" r="7.2"/><circle cx="776.6" cy="369.9" r="7.2"/><circle cx="778.4" cy="369.9" r="7.2"/><circle cx="778.9" cy="369.9" r="7.2"/><circle cx="779.0" cy="369.9" r="7.2"/><circle cx="779.9" cy="369.9" r="7.2"/><circle cx="780.8" cy="369.9" r="7.2"/><circle cx="784.2" cy="369.9" r="7.2"/><circle cx="785.0" cy="369.9" r="7.2"/><circle cx="786.1" cy="369.9" r="7.2"/><circle cx="787.4" cy="369.9" r="7.2"/><circle cx="788.0" cy="369.9" r="7.2"/><circle cx="789.2" cy="369.9" r="7.2"/><circle cx="789.7" cy="369.9" r="7.2"/><circle cx="792.3" cy="369.9" r="7.2"/><circle cx="793.0" cy="369.9" r="7.2"/><circle cx="797.9" cy="369.9" r="7.2"/><circle cx="798.9" cy="369.9" r="7.2"/><circle cx="801.0" cy="369.9" r="7.2"/><circle cx="801.6" cy="369.9" r="7.2"/><circle cx="803.2" cy="369.9" r="7.2"/><circle cx="803.7" cy="369.9" r="7.2"/><circle cx="804.2" cy="369.9" r="7.2"/><circle cx="805.0" cy="369.9" r="7.2"/><circle cx="807.1" cy="369.9" r="7.2"/><circle cx="809.0" cy="369.9" r="7.2"/><circle cx="809.9" cy="369.9" r="7.2"/><circle cx="810.9" cy="369.9" r="7.2"/><circle cx="811.8" cy="369.9" r="7.2"/><circle cx="815.7" cy="369.9" r="7.2"/><circle cx="816.6" cy="369.9" r="7.2"/><circle cx="818.2" cy="369.9" r="7.2"/><circle cx="819.9" cy="369.9" r="7.2"/><circle cx="820.1" cy="369.9" r="7.2"/><circle cx="821.9" cy="369.9" r="7.2"/><circle cx="823.5" cy="369.9" r="7.2"/><circle cx="824.0" cy="369.9" r="7.2"/><circle cx="825.5" cy="369.9" r="7.2"/><circle cx="826.8" cy="369.9" r="7.2"/><circle cx="827.2" cy="369.9" r="7.2"/><circle cx="827.7" cy="369.9" r="7.2"/><circle cx="828.1" cy="369.9" r="7.2"/><circle cx="828.7" cy="369.9" r="7.2"/><circle cx="829.4" cy="369.9" r="7.2"/><circle cx="829.9" cy="369.9" r="7.2"/><circle cx="830.7" cy="369.9" r="7.2"/><circle cx="832.1" cy="369.9" r="7.2"/><circle cx="834.5" cy="369.9" r="7.2"/><circle cx="835.7" cy="369.9" r="7.2"/><circle cx="836.3" cy="369.9" r="7.2"/><circle cx="837.3" cy="369.9" r="7.2"/><circle cx="837.8" cy="369.9" r="7.2"/><circle cx="838.5" cy="369.9" r="7.2"/><circle cx="839.5" cy="369.9" r="7.2"/><circle cx="840.1" cy="369.9" r="7.2"/><circle cx="840.6" cy="369.9" r="7.2"/><circle cx="841.2" cy="369.9" r="7.2"/><circle cx="841.7" cy="369.9" r="7.2"/><circle cx="842.2" cy="369.9" r="7.2"/><circle cx="843.0" cy="369.9" r="7.2"/><circle cx="843.6" cy="369.9" r="7.2"/><circle cx="845.6" cy="369.9" r="7.2"/><circle cx="846.2" cy="369.9" r="7.2"/><circle cx="847.9" cy="369.9" r="7.2"/><circle cx="852.8" cy="369.9" r="7.2"/><circle cx="853.5" cy="369.9" r="7.2"/><circle cx="855.1" cy="369.9" r="7.2"/><circle cx="857.7" cy="369.9" r="7.2"/><circle cx="860.7" cy="369.9" r="7.2"/><circle cx="861.7" cy="369.9" r="7.2"/><circle cx="862.8" cy="369.9" r="7.2"/><circle cx="864.9" cy="369.9" r="7.2"/><circle cx="867.4" cy="369.9" r="7.2"/><circle cx="869.5" cy="369.9" r="7.2"/><circle cx="871.5" cy="369.9" r="7.2"/><circle cx="873.6" cy="369.9" r="7.2"/><circle cx="874.4" cy="369.9" r="7.2"/><circle cx="875.2" cy="369.9" r="7.2"/><circle cx="876.1" cy="369.9" r="7.2"/><circle cx="879.6" cy="369.9" r="7.2"/><circle cx="880.1" cy="369.9" r="7.2"/><circle cx="883.4" cy="369.9" r="7.2"/><circle cx="894.6" cy="369.9" r="7.2"/><circle cx="896.4" cy="369.9" r="7.2"/><circle cx="898.8" cy="369.9" r="7.2"/><circle cx="900.1" cy="369.9" r="7.2"/><circle cx="900.6" cy="369.9" r="7.2"/><circle cx="904.1" cy="369.9" r="7.2"/><circle cx="911.4" cy="369.9" r="7.2"/><circle cx="688.8" cy="363.0" r="7.2"/><circle cx="689.0" cy="363.0" r="7.2"/><circle cx="691.7" cy="363.0" r="7.2"/><circle cx="693.0" cy="363.0" r="7.2"/><circle cx="695.1" cy="363.0" r="7.2"/><circle cx="695.8" cy="363.0" r="7.2"/><circle cx="699.7" cy="363.0" r="7.2"/><circle cx="704.2" cy="363.0" r="7.2"/><circle cx="707.7" cy="363.0" r="7.2"/><circle cx="708.6" cy="363.0" r="7.2"/><circle cx="711.0" cy="363.0" r="7.2"/><circle cx="711.9" cy="363.0" r="7.2"/><circle cx="715.0" cy="363.0" r="7.2"/><circle cx="715.1" cy="363.0" r="7.2"/><circle cx="716.4" cy="363.0" r="7.2"/><circle cx="716.7" cy="363.0" r="7.2"/><circle cx="719.2" cy="363.0" r="7.2"/><circle cx="720.4" cy="363.0" r="7.2"/><circle cx="721.0" cy="363.0" r="7.2"/><circle cx="722.8" cy="363.0" r="7.2"/><circle cx="723.5" cy="363.0" r="7.2"/><circle cx="723.7" cy="363.0" r="7.2"/><circle cx="724.4" cy="363.0" r="7.2"/><circle cx="724.9" cy="363.0" r="7.2"/><circle cx="726.0" cy="363.0" r="7.2"/><circle cx="728.4" cy="363.0" r="7.2"/><circle cx="731.4" cy="363.0" r="7.2"/><circle cx="732.0" cy="363.0" r="7.2"/><circle cx="732.7" cy="363.0" r="7.2"/><circle cx="734.6" cy="363.0" r="7.2"/><circle cx="735.2" cy="363.0" r="7.2"/><circle cx="735.7" cy="363.0" r="7.2"/><circle cx="736.1" cy="363.0" r="7.2"/><circle cx="737.0" cy="363.0" r="7.2"/><circle cx="737.7" cy="363.0" r="7.2"/><circle cx="738.6" cy="363.0" r="7.2"/><circle cx="740.6" cy="363.0" r="7.2"/><circle cx="742.2" cy="363.0" r="7.2"/><circle cx="743.9" cy="363.0" r="7.2"/><circle cx="746.3" cy="363.0" r="7.2"/><circle cx="746.5" cy="363.0" r="7.2"/><circle cx="748.6" cy="363.0" r="7.2"/><circle cx="749.1" cy="363.0" r="7.2"/><circle cx="752.0" cy="363.0" r="7.2"/><circle cx="754.2" cy="363.0" r="7.2"/><circle cx="757.7" cy="363.0" r="7.2"/><circle cx="760.3" cy="363.0" r="7.2"/><circle cx="764.8" cy="363.0" r="7.2"/><circle cx="766.0" cy="363.0" r="7.2"/><circle cx="766.7" cy="363.0" r="7.2"/><circle cx="767.4" cy="363.0" r="7.2"/><circle cx="768.0" cy="363.0" r="7.2"/><circle cx="768.8" cy="363.0" r="7.2"/><circle cx="771.8" cy="363.0" r="7.2"/><circle cx="772.3" cy="363.0" r="7.2"/><circle cx="773.5" cy="363.0" r="7.2"/><circle cx="773.6" cy="363.0" r="7.2"/><circle cx="775.9" cy="363.0" r="7.2"/><circle cx="776.1" cy="363.0" r="7.2"/><circle cx="778.5" cy="363.0" r="7.2"/><circle cx="778.6" cy="363.0" r="7.2"/><circle cx="779.3" cy="363.0" r="7.2"/><circle cx="780.2" cy="363.0" r="7.2"/><circle cx="780.8" cy="363.0" r="7.2"/><circle cx="781.8" cy="363.0" r="7.2"/><circle cx="783.2" cy="363.0" r="7.2"/><circle cx="783.8" cy="363.0" r="7.2"/><circle cx="784.4" cy="363.0" r="7.2"/><circle cx="784.6" cy="363.0" r="7.2"/><circle cx="785.8" cy="363.0" r="7.2"/><circle cx="786.0" cy="363.0" r="7.2"/><circle cx="786.5" cy="363.0" r="7.2"/><circle cx="787.4" cy="363.0" r="7.2"/><circle cx="787.8" cy="363.0" r="7.2"/><circle cx="790.4" cy="363.0" r="7.2"/><circle cx="794.1" cy="363.0" r="7.2"/><circle cx="797.3" cy="363.0" r="7.2"/><circle cx="800.9" cy="363.0" r="7.2"/><circle cx="801.9" cy="363.0" r="7.2"/><circle cx="802.9" cy="363.0" r="7.2"/><circle cx="803.7" cy="363.0" r="7.2"/><circle cx="805.0" cy="363.0" r="7.2"/><circle cx="806.6" cy="363.0" r="7.2"/><circle cx="807.2" cy="363.0" r="7.2"/><circle cx="809.3" cy="363.0" r="7.2"/><circle cx="809.7" cy="363.0" r="7.2"/><circle cx="811.2" cy="363.0" r="7.2"/><circle cx="812.7" cy="363.0" r="7.2"/><circle cx="813.0" cy="363.0" r="7.2"/><circle cx="814.0" cy="363.0" r="7.2"/><circle cx="814.1" cy="363.0" r="7.2"/><circle cx="814.7" cy="363.0" r="7.2"/><circle cx="816.1" cy="363.0" r="7.2"/><circle cx="817.7" cy="363.0" r="7.2"/><circle cx="818.9" cy="363.0" r="7.2"/><circle cx="819.2" cy="363.0" r="7.2"/><circle cx="820.9" cy="363.0" r="7.2"/><circle cx="821.8" cy="363.0" r="7.2"/><circle cx="823.0" cy="363.0" r="7.2"/><circle cx="823.3" cy="363.0" r="7.2"/><circle cx="823.7" cy="363.0" r="7.2"/><circle cx="824.1" cy="363.0" r="7.2"/><circle cx="824.9" cy="363.0" r="7.2"/><circle cx="825.5" cy="363.0" r="7.2"/><circle cx="825.8" cy="363.0" r="7.2"/><circle cx="826.2" cy="363.0" r="7.2"/><circle cx="826.9" cy="363.0" r="7.2"/><circle cx="829.2" cy="363.0" r="7.2"/><circle cx="830.4" cy="363.0" r="7.2"/><circle cx="831.0" cy="363.0" r="7.2"/><circle cx="831.5" cy="363.0" r="7.2"/><circle cx="831.6" cy="363.0" r="7.2"/><circle cx="833.6" cy="363.0" r="7.2"/><circle cx="834.6" cy="363.0" r="7.2"/><circle cx="835.5" cy="363.0" r="7.2"/><circle cx="836.5" cy="363.0" r="7.2"/><circle cx="837.1" cy="363.0" r="7.2"/><circle cx="839.8" cy="363.0" r="7.2"/><circle cx="840.8" cy="363.0" r="7.2"/><circle cx="841.1" cy="363.0" r="7.2"/><circle cx="841.7" cy="363.0" r="7.2"/><circle cx="844.9" cy="363.0" r="7.2"/><circle cx="845.9" cy="363.0" r="7.2"/><circle cx="847.9" cy="363.0" r="7.2"/><circle cx="848.0" cy="363.0" r="7.2"/><circle cx="851.4" cy="363.0" r="7.2"/><circle cx="851.7" cy="363.0" r="7.2"/><circle cx="852.3" cy="363.0" r="7.2"/><circle cx="853.0" cy="363.0" r="7.2"/><circle cx="853.8" cy="363.0" r="7.2"/><circle cx="854.5" cy="363.0" r="7.2"/><circle cx="855.5" cy="363.0" r="7.2"/><circle cx="857.1" cy="363.0" r="7.2"/><circle cx="857.6" cy="363.0" r="7.2"/><circle cx="858.4" cy="363.0" r="7.2"/><circle cx="860.0" cy="363.0" r="7.2"/><circle cx="861.3" cy="363.0" r="7.2"/><circle cx="861.6" cy="363.0" r="7.2"/><circle cx="864.1" cy="363.0" r="7.2"/><circle cx="865.7" cy="363.0" r="7.2"/><circle cx="867.0" cy="363.0" r="7.2"/><circle cx="868.0" cy="363.0" r="7.2"/><circle cx="869.9" cy="363.0" r="7.2"/><circle cx="870.9" cy="363.0" r="7.2"/><circle cx="871.4" cy="363.0" r="7.2"/><circle cx="871.7" cy="363.0" r="7.2"/><circle cx="873.5" cy="363.0" r="7.2"/><circle cx="875.9" cy="363.0" r="7.2"/><circle cx="876.9" cy="363.0" r="7.2"/><circle cx="878.1" cy="363.0" r="7.2"/><circle cx="881.3" cy="363.0" r="7.2"/><circle cx="881.6" cy="363.0" r="7.2"/><circle cx="883.2" cy="363.0" r="7.2"/><circle cx="884.4" cy="363.0" r="7.2"/><circle cx="885.5" cy="363.0" r="7.2"/><circle cx="888.1" cy="363.0" r="7.2"/><circle cx="888.7" cy="363.0" r="7.2"/><circle cx="893.9" cy="363.0" r="7.2"/><circle cx="897.4" cy="363.0" r="7.2"/><circle cx="899.7" cy="363.0" r="7.2"/><circle cx="900.9" cy="363.0" r="7.2"/><circle cx="916.9" cy="363.0" r="7.2"/><circle cx="917.6" cy="363.0" r="7.2"/><circle cx="925.9" cy="363.0" r="7.2"/><circle cx="942.8" cy="363.0" r="7.2"/><circle cx="706.1" cy="356.4" r="7.2"/><circle cx="707.1" cy="356.4" r="7.2"/><circle cx="708.9" cy="356.4" r="7.2"/><circle cx="711.2" cy="356.4" r="7.2"/><circle cx="711.6" cy="356.4" r="7.2"/><circle cx="712.4" cy="356.4" r="7.2"/><circle cx="712.6" cy="356.4" r="7.2"/><circle cx="715.3" cy="356.4" r="7.2"/><circle cx="717.3" cy="356.4" r="7.2"/><circle cx="717.8" cy="356.4" r="7.2"/><circle cx="718.0" cy="356.4" r="7.2"/><circle cx="718.7" cy="356.4" r="7.2"/><circle cx="719.9" cy="356.4" r="7.2"/><circle cx="720.1" cy="356.4" r="7.2"/><circle cx="721.0" cy="356.4" r="7.2"/><circle cx="721.6" cy="356.4" r="7.2"/><circle cx="722.2" cy="356.4" r="7.2"/><circle cx="723.0" cy="356.4" r="7.2"/><circle cx="723.3" cy="356.4" r="7.2"/><circle cx="724.4" cy="356.4" r="7.2"/><circle cx="727.3" cy="356.4" r="7.2"/><circle cx="728.6" cy="356.4" r="7.2"/><circle cx="729.0" cy="356.4" r="7.2"/><circle cx="729.5" cy="356.4" r="7.2"/><circle cx="730.1" cy="356.4" r="7.2"/><circle cx="730.9" cy="356.4" r="7.2"/><circle cx="732.0" cy="356.4" r="7.2"/><circle cx="732.6" cy="356.4" r="7.2"/><circle cx="734.5" cy="356.4" r="7.2"/><circle cx="734.6" cy="356.4" r="7.2"/><circle cx="736.2" cy="356.4" r="7.2"/><circle cx="737.8" cy="356.4" r="7.2"/><circle cx="738.4" cy="356.4" r="7.2"/><circle cx="741.4" cy="356.4" r="7.2"/><circle cx="742.4" cy="356.4" r="7.2"/><circle cx="743.9" cy="356.4" r="7.2"/><circle cx="748.8" cy="356.4" r="7.2"/><circle cx="749.0" cy="356.4" r="7.2"/><circle cx="749.7" cy="356.4" r="7.2"/><circle cx="750.2" cy="356.4" r="7.2"/><circle cx="750.8" cy="356.4" r="7.2"/><circle cx="751.5" cy="356.4" r="7.2"/><circle cx="752.7" cy="356.4" r="7.2"/><circle cx="753.1" cy="356.4" r="7.2"/><circle cx="755.5" cy="356.4" r="7.2"/><circle cx="757.0" cy="356.4" r="7.2"/><circle cx="757.9" cy="356.4" r="7.2"/><circle cx="758.4" cy="356.4" r="7.2"/><circle cx="759.9" cy="356.4" r="7.2"/><circle cx="760.4" cy="356.4" r="7.2"/><circle cx="763.4" cy="356.4" r="7.2"/><circle cx="763.9" cy="356.4" r="7.2"/><circle cx="764.4" cy="356.4" r="7.2"/><circle cx="764.7" cy="356.4" r="7.2"/><circle cx="765.1" cy="356.4" r="7.2"/><circle cx="766.2" cy="356.4" r="7.2"/><circle cx="767.0" cy="356.4" r="7.2"/><circle cx="767.4" cy="356.4" r="7.2"/><circle cx="768.3" cy="356.4" r="7.2"/><circle cx="769.2" cy="356.4" r="7.2"/><circle cx="770.9" cy="356.4" r="7.2"/><circle cx="773.4" cy="356.4" r="7.2"/><circle cx="773.6" cy="356.4" r="7.2"/><circle cx="774.0" cy="356.4" r="7.2"/><circle cx="774.8" cy="356.4" r="7.2"/><circle cx="775.1" cy="356.4" r="7.2"/><circle cx="775.8" cy="356.4" r="7.2"/><circle cx="776.0" cy="356.4" r="7.2"/><circle cx="781.1" cy="356.4" r="7.2"/><circle cx="785.2" cy="356.4" r="7.2"/><circle cx="786.7" cy="356.4" r="7.2"/><circle cx="787.2" cy="356.4" r="7.2"/><circle cx="788.2" cy="356.4" r="7.2"/><circle cx="789.6" cy="356.4" r="7.2"/><circle cx="791.0" cy="356.4" r="7.2"/><circle cx="791.5" cy="356.4" r="7.2"/><circle cx="791.6" cy="356.4" r="7.2"/><circle cx="792.0" cy="356.4" r="7.2"/><circle cx="792.7" cy="356.4" r="7.2"/><circle cx="796.3" cy="356.4" r="7.2"/><circle cx="796.9" cy="356.4" r="7.2"/><circle cx="798.8" cy="356.4" r="7.2"/><circle cx="799.7" cy="356.4" r="7.2"/><circle cx="800.7" cy="356.4" r="7.2"/><circle cx="801.7" cy="356.4" r="7.2"/><circle cx="803.3" cy="356.4" r="7.2"/><circle cx="804.6" cy="356.4" r="7.2"/><circle cx="806.2" cy="356.4" r="7.2"/><circle cx="806.9" cy="356.4" r="7.2"/><circle cx="807.8" cy="356.4" r="7.2"/><circle cx="808.3" cy="356.4" r="7.2"/><circle cx="811.9" cy="356.4" r="7.2"/><circle cx="814.2" cy="356.4" r="7.2"/><circle cx="815.6" cy="356.4" r="7.2"/><circle cx="817.0" cy="356.4" r="7.2"/><circle cx="817.2" cy="356.4" r="7.2"/><circle cx="818.9" cy="356.4" r="7.2"/><circle cx="819.7" cy="356.4" r="7.2"/><circle cx="821.5" cy="356.4" r="7.2"/><circle cx="824.0" cy="356.4" r="7.2"/><circle cx="826.7" cy="356.4" r="7.2"/><circle cx="827.8" cy="356.4" r="7.2"/><circle cx="828.1" cy="356.4" r="7.2"/><circle cx="830.2" cy="356.4" r="7.2"/><circle cx="831.9" cy="356.4" r="7.2"/><circle cx="835.8" cy="356.4" r="7.2"/><circle cx="836.1" cy="356.4" r="7.2"/><circle cx="836.8" cy="356.4" r="7.2"/><circle cx="837.4" cy="356.4" r="7.2"/><circle cx="838.1" cy="356.4" r="7.2"/><circle cx="839.0" cy="356.4" r="7.2"/><circle cx="842.6" cy="356.4" r="7.2"/><circle cx="844.0" cy="356.4" r="7.2"/><circle cx="844.3" cy="356.4" r="7.2"/><circle cx="845.1" cy="356.4" r="7.2"/><circle cx="848.1" cy="356.4" r="7.2"/><circle cx="849.4" cy="356.4" r="7.2"/><circle cx="850.4" cy="356.4" r="7.2"/><circle cx="850.8" cy="356.4" r="7.2"/><circle cx="852.9" cy="356.4" r="7.2"/><circle cx="853.7" cy="356.4" r="7.2"/><circle cx="854.1" cy="356.4" r="7.2"/><circle cx="854.6" cy="356.4" r="7.2"/><circle cx="855.1" cy="356.4" r="7.2"/><circle cx="856.8" cy="356.4" r="7.2"/><circle cx="857.2" cy="356.4" r="7.2"/><circle cx="859.5" cy="356.4" r="7.2"/><circle cx="860.0" cy="356.4" r="7.2"/><circle cx="861.5" cy="356.4" r="7.2"/><circle cx="861.8" cy="356.4" r="7.2"/><circle cx="863.8" cy="356.4" r="7.2"/><circle cx="865.6" cy="356.4" r="7.2"/><circle cx="866.5" cy="356.4" r="7.2"/><circle cx="866.6" cy="356.4" r="7.2"/><circle cx="869.3" cy="356.4" r="7.2"/><circle cx="870.1" cy="356.4" r="7.2"/><circle cx="871.0" cy="356.4" r="7.2"/><circle cx="871.9" cy="356.4" r="7.2"/><circle cx="873.0" cy="356.4" r="7.2"/><circle cx="874.0" cy="356.4" r="7.2"/><circle cx="875.9" cy="356.4" r="7.2"/><circle cx="877.8" cy="356.4" r="7.2"/><circle cx="880.5" cy="356.4" r="7.2"/><circle cx="882.2" cy="356.4" r="7.2"/><circle cx="883.2" cy="356.4" r="7.2"/><circle cx="892.6" cy="356.4" r="7.2"/><circle cx="896.4" cy="356.4" r="7.2"/><circle cx="900.7" cy="356.4" r="7.2"/><circle cx="901.9" cy="356.4" r="7.2"/><circle cx="905.8" cy="356.4" r="7.2"/><circle cx="906.9" cy="356.4" r="7.2"/><circle cx="910.6" cy="356.4" r="7.2"/><circle cx="920.4" cy="356.4" r="7.2"/><circle cx="930.7" cy="356.4" r="7.2"/><circle cx="686.5" cy="350.0" r="7.2"/><circle cx="720.5" cy="350.0" r="7.2"/><circle cx="722.1" cy="350.0" r="7.2"/><circle cx="723.1" cy="350.0" r="7.2"/><circle cx="724.4" cy="350.0" r="7.2"/><circle cx="726.1" cy="350.0" r="7.2"/><circle cx="726.9" cy="350.0" r="7.2"/><circle cx="727.7" cy="350.0" r="7.2"/><circle cx="728.1" cy="350.0" r="7.2"/><circle cx="730.9" cy="350.0" r="7.2"/><circle cx="733.3" cy="350.0" r="7.2"/><circle cx="734.4" cy="350.0" r="7.2"/><circle cx="736.2" cy="350.0" r="7.2"/><circle cx="737.0" cy="350.0" r="7.2"/><circle cx="737.7" cy="350.0" r="7.2"/><circle cx="738.6" cy="350.0" r="7.2"/><circle cx="739.4" cy="350.0" r="7.2"/><circle cx="739.6" cy="350.0" r="7.2"/><circle cx="740.8" cy="350.0" r="7.2"/><circle cx="742.5" cy="350.0" r="7.2"/><circle cx="743.4" cy="350.0" r="7.2"/><circle cx="743.7" cy="350.0" r="7.2"/><circle cx="746.8" cy="350.0" r="7.2"/><circle cx="747.0" cy="350.0" r="7.2"/><circle cx="748.1" cy="350.0" r="7.2"/><circle cx="750.9" cy="350.0" r="7.2"/><circle cx="752.7" cy="350.0" r="7.2"/><circle cx="754.1" cy="350.0" r="7.2"/><circle cx="754.6" cy="350.0" r="7.2"/><circle cx="755.8" cy="350.0" r="7.2"/><circle cx="756.1" cy="350.0" r="7.2"/><circle cx="756.8" cy="350.0" r="7.2"/><circle cx="757.3" cy="350.0" r="7.2"/><circle cx="760.5" cy="350.0" r="7.2"/><circle cx="761.7" cy="350.0" r="7.2"/><circle cx="763.5" cy="350.0" r="7.2"/><circle cx="765.4" cy="350.0" r="7.2"/><circle cx="766.3" cy="350.0" r="7.2"/><circle cx="766.9" cy="350.0" r="7.2"/><circle cx="769.6" cy="350.0" r="7.2"/><circle cx="771.2" cy="350.0" r="7.2"/><circle cx="773.7" cy="350.0" r="7.2"/><circle cx="775.7" cy="350.0" r="7.2"/><circle cx="778.4" cy="350.0" r="7.2"/><circle cx="780.1" cy="350.0" r="7.2"/><circle cx="782.0" cy="350.0" r="7.2"/><circle cx="782.6" cy="350.0" r="7.2"/><circle cx="783.3" cy="350.0" r="7.2"/><circle cx="784.2" cy="350.0" r="7.2"/><circle cx="784.5" cy="350.0" r="7.2"/><circle cx="787.1" cy="350.0" r="7.2"/><circle cx="788.2" cy="350.0" r="7.2"/><circle cx="788.9" cy="350.0" r="7.2"/><circle cx="790.5" cy="350.0" r="7.2"/><circle cx="792.2" cy="350.0" r="7.2"/><circle cx="793.9" cy="350.0" r="7.2"/><circle cx="794.0" cy="350.0" r="7.2"/><circle cx="794.5" cy="350.0" r="7.2"/><circle cx="796.1" cy="350.0" r="7.2"/><circle cx="802.6" cy="350.0" r="7.2"/><circle cx="803.2" cy="350.0" r="7.2"/><circle cx="804.4" cy="350.0" r="7.2"/><circle cx="805.0" cy="350.0" r="7.2"/><circle cx="805.7" cy="350.0" r="7.2"/><circle cx="806.5" cy="350.0" r="7.2"/><circle cx="807.5" cy="350.0" r="7.2"/><circle cx="808.7" cy="350.0" r="7.2"/><circle cx="810.8" cy="350.0" r="7.2"/><circle cx="811.1" cy="350.0" r="7.2"/><circle cx="811.9" cy="350.0" r="7.2"/><circle cx="815.0" cy="350.0" r="7.2"/><circle cx="815.7" cy="350.0" r="7.2"/><circle cx="816.3" cy="350.0" r="7.2"/><circle cx="817.6" cy="350.0" r="7.2"/><circle cx="818.8" cy="350.0" r="7.2"/><circle cx="819.6" cy="350.0" r="7.2"/><circle cx="820.2" cy="350.0" r="7.2"/><circle cx="822.3" cy="350.0" r="7.2"/><circle cx="823.3" cy="350.0" r="7.2"/><circle cx="825.5" cy="350.0" r="7.2"/><circle cx="825.9" cy="350.0" r="7.2"/><circle cx="827.3" cy="350.0" r="7.2"/><circle cx="830.1" cy="350.0" r="7.2"/><circle cx="830.7" cy="350.0" r="7.2"/><circle cx="831.1" cy="350.0" r="7.2"/><circle cx="832.1" cy="350.0" r="7.2"/><circle cx="834.2" cy="350.0" r="7.2"/><circle cx="834.6" cy="350.0" r="7.2"/><circle cx="835.4" cy="350.0" r="7.2"/><circle cx="836.4" cy="350.0" r="7.2"/><circle cx="838.1" cy="350.0" r="7.2"/><circle cx="839.8" cy="350.0" r="7.2"/><circle cx="840.8" cy="350.0" r="7.2"/><circle cx="841.7" cy="350.0" r="7.2"/><circle cx="842.7" cy="350.0" r="7.2"/><circle cx="846.8" cy="350.0" r="7.2"/><circle cx="847.3" cy="350.0" r="7.2"/><circle cx="848.9" cy="350.0" r="7.2"/><circle cx="852.8" cy="350.0" r="7.2"/><circle cx="855.4" cy="350.0" r="7.2"/><circle cx="856.0" cy="350.0" r="7.2"/><circle cx="856.7" cy="350.0" r="7.2"/><circle cx="860.6" cy="350.0" r="7.2"/><circle cx="862.0" cy="350.0" r="7.2"/><circle cx="863.8" cy="350.0" r="7.2"/><circle cx="866.4" cy="350.0" r="7.2"/><circle cx="867.0" cy="350.0" r="7.2"/><circle cx="869.8" cy="350.0" r="7.2"/><circle cx="871.3" cy="350.0" r="7.2"/><circle cx="873.4" cy="350.0" r="7.2"/><circle cx="876.0" cy="350.0" r="7.2"/><circle cx="878.4" cy="350.0" r="7.2"/><circle cx="879.0" cy="350.0" r="7.2"/><circle cx="882.3" cy="350.0" r="7.2"/><circle cx="884.3" cy="350.0" r="7.2"/><circle cx="888.7" cy="350.0" r="7.2"/><circle cx="894.0" cy="350.0" r="7.2"/><circle cx="894.2" cy="350.0" r="7.2"/><circle cx="895.9" cy="350.0" r="7.2"/><circle cx="897.7" cy="350.0" r="7.2"/><circle cx="899.0" cy="350.0" r="7.2"/><circle cx="900.2" cy="350.0" r="7.2"/><circle cx="903.2" cy="350.0" r="7.2"/><circle cx="907.6" cy="350.0" r="7.2"/><circle cx="911.9" cy="350.0" r="7.2"/><circle cx="915.3" cy="350.0" r="7.2"/><circle cx="918.7" cy="350.0" r="7.2"/><circle cx="927.6" cy="350.0" r="7.2"/><circle cx="701.3" cy="343.9" r="7.2"/><circle cx="707.1" cy="343.9" r="7.2"/><circle cx="710.9" cy="343.9" r="7.2"/><circle cx="711.9" cy="343.9" r="7.2"/><circle cx="714.9" cy="343.9" r="7.2"/><circle cx="716.7" cy="343.9" r="7.2"/><circle cx="720.7" cy="343.9" r="7.2"/><circle cx="722.7" cy="343.9" r="7.2"/><circle cx="723.0" cy="343.9" r="7.2"/><circle cx="726.0" cy="343.9" r="7.2"/><circle cx="726.0" cy="343.9" r="7.2"/><circle cx="727.8" cy="343.9" r="7.2"/><circle cx="732.6" cy="343.9" r="7.2"/><circle cx="733.3" cy="343.9" r="7.2"/><circle cx="734.5" cy="343.9" r="7.2"/><circle cx="736.2" cy="343.9" r="7.2"/><circle cx="738.2" cy="343.9" r="7.2"/><circle cx="738.9" cy="343.9" r="7.2"/><circle cx="739.3" cy="343.9" r="7.2"/><circle cx="740.9" cy="343.9" r="7.2"/><circle cx="742.5" cy="343.9" r="7.2"/><circle cx="744.1" cy="343.9" r="7.2"/><circle cx="744.9" cy="343.9" r="7.2"/><circle cx="745.3" cy="343.9" r="7.2"/><circle cx="746.8" cy="343.9" r="7.2"/><circle cx="752.0" cy="343.9" r="7.2"/><circle cx="753.0" cy="343.9" r="7.2"/><circle cx="755.9" cy="343.9" r="7.2"/><circle cx="758.6" cy="343.9" r="7.2"/><circle cx="760.0" cy="343.9" r="7.2"/><circle cx="760.8" cy="343.9" r="7.2"/><circle cx="765.6" cy="343.9" r="7.2"/><circle cx="768.2" cy="343.9" r="7.2"/><circle cx="769.5" cy="343.9" r="7.2"/><circle cx="770.2" cy="343.9" r="7.2"/><circle cx="771.2" cy="343.9" r="7.2"/><circle cx="771.9" cy="343.9" r="7.2"/><circle cx="772.4" cy="343.9" r="7.2"/><circle cx="774.2" cy="343.9" r="7.2"/><circle cx="774.9" cy="343.9" r="7.2"/><circle cx="779.1" cy="343.9" r="7.2"/><circle cx="781.0" cy="343.9" r="7.2"/><circle cx="781.3" cy="343.9" r="7.2"/><circle cx="784.5" cy="343.9" r="7.2"/><circle cx="785.2" cy="343.9" r="7.2"/><circle cx="786.3" cy="343.9" r="7.2"/><circle cx="787.4" cy="343.9" r="7.2"/><circle cx="789.2" cy="343.9" r="7.2"/><circle cx="791.2" cy="343.9" r="7.2"/><circle cx="793.0" cy="343.9" r="7.2"/><circle cx="799.5" cy="343.9" r="7.2"/><circle cx="801.3" cy="343.9" r="7.2"/><circle cx="802.1" cy="343.9" r="7.2"/><circle cx="804.5" cy="343.9" r="7.2"/><circle cx="806.1" cy="343.9" r="7.2"/><circle cx="806.7" cy="343.9" r="7.2"/><circle cx="807.3" cy="343.9" r="7.2"/><circle cx="808.6" cy="343.9" r="7.2"/><circle cx="809.5" cy="343.9" r="7.2"/><circle cx="811.3" cy="343.9" r="7.2"/><circle cx="814.0" cy="343.9" r="7.2"/><circle cx="814.1" cy="343.9" r="7.2"/><circle cx="814.8" cy="343.9" r="7.2"/><circle cx="817.5" cy="343.9" r="7.2"/><circle cx="818.2" cy="343.9" r="7.2"/><circle cx="819.6" cy="343.9" r="7.2"/><circle cx="823.1" cy="343.9" r="7.2"/><circle cx="825.6" cy="343.9" r="7.2"/><circle cx="826.3" cy="343.9" r="7.2"/><circle cx="827.8" cy="343.9" r="7.2"/><circle cx="829.3" cy="343.9" r="7.2"/><circle cx="832.4" cy="343.9" r="7.2"/><circle cx="834.4" cy="343.9" r="7.2"/><circle cx="835.1" cy="343.9" r="7.2"/><circle cx="835.7" cy="343.9" r="7.2"/><circle cx="836.3" cy="343.9" r="7.2"/><circle cx="837.4" cy="343.9" r="7.2"/><circle cx="839.8" cy="343.9" r="7.2"/><circle cx="840.2" cy="343.9" r="7.2"/><circle cx="842.5" cy="343.9" r="7.2"/><circle cx="843.9" cy="343.9" r="7.2"/><circle cx="844.8" cy="343.9" r="7.2"/><circle cx="845.9" cy="343.9" r="7.2"/><circle cx="849.3" cy="343.9" r="7.2"/><circle cx="850.4" cy="343.9" r="7.2"/><circle cx="851.9" cy="343.9" r="7.2"/><circle cx="855.3" cy="343.9" r="7.2"/><circle cx="858.3" cy="343.9" r="7.2"/><circle cx="859.3" cy="343.9" r="7.2"/><circle cx="859.9" cy="343.9" r="7.2"/><circle cx="861.3" cy="343.9" r="7.2"/><circle cx="865.5" cy="343.9" r="7.2"/><circle cx="865.6" cy="343.9" r="7.2"/><circle cx="866.3" cy="343.9" r="7.2"/><circle cx="867.7" cy="343.9" r="7.2"/><circle cx="869.1" cy="343.9" r="7.2"/><circle cx="872.0" cy="343.9" r="7.2"/><circle cx="872.1" cy="343.9" r="7.2"/><circle cx="873.0" cy="343.9" r="7.2"/><circle cx="875.1" cy="343.9" r="7.2"/><circle cx="877.7" cy="343.9" r="7.2"/><circle cx="880.7" cy="343.9" r="7.2"/><circle cx="883.6" cy="343.9" r="7.2"/><circle cx="885.0" cy="343.9" r="7.2"/><circle cx="885.6" cy="343.9" r="7.2"/><circle cx="890.3" cy="343.9" r="7.2"/><circle cx="892.3" cy="343.9" r="7.2"/><circle cx="900.8" cy="343.9" r="7.2"/><circle cx="901.7" cy="343.9" r="7.2"/><circle cx="902.6" cy="343.9" r="7.2"/><circle cx="905.5" cy="343.9" r="7.2"/><circle cx="906.9" cy="343.9" r="7.2"/><circle cx="907.7" cy="343.9" r="7.2"/><circle cx="910.0" cy="343.9" r="7.2"/><circle cx="915.1" cy="343.9" r="7.2"/><circle cx="925.7" cy="343.9" r="7.2"/><circle cx="926.4" cy="343.9" r="7.2"/><circle cx="928.3" cy="343.9" r="7.2"/><circle cx="701.1" cy="337.9" r="7.2"/><circle cx="714.1" cy="337.9" r="7.2"/><circle cx="715.6" cy="337.9" r="7.2"/><circle cx="719.3" cy="337.9" r="7.2"/><circle cx="722.5" cy="337.9" r="7.2"/><circle cx="723.5" cy="337.9" r="7.2"/><circle cx="724.4" cy="337.9" r="7.2"/><circle cx="725.4" cy="337.9" r="7.2"/><circle cx="726.8" cy="337.9" r="7.2"/><circle cx="727.3" cy="337.9" r="7.2"/><circle cx="728.5" cy="337.9" r="7.2"/><circle cx="728.9" cy="337.9" r="7.2"/><circle cx="729.6" cy="337.9" r="7.2"/><circle cx="731.3" cy="337.9" r="7.2"/><circle cx="732.3" cy="337.9" r="7.2"/><circle cx="733.8" cy="337.9" r="7.2"/><circle cx="734.0" cy="337.9" r="7.2"/><circle cx="735.9" cy="337.9" r="7.2"/><circle cx="736.5" cy="337.9" r="7.2"/><circle cx="738.4" cy="337.9" r="7.2"/><circle cx="740.0" cy="337.9" r="7.2"/><circle cx="740.6" cy="337.9" r="7.2"/><circle cx="741.8" cy="337.9" r="7.2"/><circle cx="743.0" cy="337.9" r="7.2"/><circle cx="743.1" cy="337.9" r="7.2"/><circle cx="743.9" cy="337.9" r="7.2"/><circle cx="745.1" cy="337.9" r="7.2"/><circle cx="745.9" cy="337.9" r="7.2"/><circle cx="746.2" cy="337.9" r="7.2"/><circle cx="749.3" cy="337.9" r="7.2"/><circle cx="750.3" cy="337.9" r="7.2"/><circle cx="751.1" cy="337.9" r="7.2"/><circle cx="756.9" cy="337.9" r="7.2"/><circle cx="758.4" cy="337.9" r="7.2"/><circle cx="758.7" cy="337.9" r="7.2"/><circle cx="759.4" cy="337.9" r="7.2"/><circle cx="762.1" cy="337.9" r="7.2"/><circle cx="762.7" cy="337.9" r="7.2"/><circle cx="763.4" cy="337.9" r="7.2"/><circle cx="766.4" cy="337.9" r="7.2"/><circle cx="768.7" cy="337.9" r="7.2"/><circle cx="769.8" cy="337.9" r="7.2"/><circle cx="772.7" cy="337.9" r="7.2"/><circle cx="773.8" cy="337.9" r="7.2"/><circle cx="774.2" cy="337.9" r="7.2"/><circle cx="775.3" cy="337.9" r="7.2"/><circle cx="777.3" cy="337.9" r="7.2"/><circle cx="777.9" cy="337.9" r="7.2"/><circle cx="778.2" cy="337.9" r="7.2"/><circle cx="780.7" cy="337.9" r="7.2"/><circle cx="781.7" cy="337.9" r="7.2"/><circle cx="783.9" cy="337.9" r="7.2"/><circle cx="785.1" cy="337.9" r="7.2"/><circle cx="787.3" cy="337.9" r="7.2"/><circle cx="787.8" cy="337.9" r="7.2"/><circle cx="788.7" cy="337.9" r="7.2"/><circle cx="790.4" cy="337.9" r="7.2"/><circle cx="791.6" cy="337.9" r="7.2"/><circle cx="793.1" cy="337.9" r="7.2"/><circle cx="793.7" cy="337.9" r="7.2"/><circle cx="794.6" cy="337.9" r="7.2"/><circle cx="795.0" cy="337.9" r="7.2"/><circle cx="797.9" cy="337.9" r="7.2"/><circle cx="798.8" cy="337.9" r="7.2"/><circle cx="800.4" cy="337.9" r="7.2"/><circle cx="802.3" cy="337.9" r="7.2"/><circle cx="804.1" cy="337.9" r="7.2"/><circle cx="806.0" cy="337.9" r="7.2"/><circle cx="809.4" cy="337.9" r="7.2"/><circle cx="810.5" cy="337.9" r="7.2"/><circle cx="816.0" cy="337.9" r="7.2"/><circle cx="819.9" cy="337.9" r="7.2"/><circle cx="821.8" cy="337.9" r="7.2"/><circle cx="822.7" cy="337.9" r="7.2"/><circle cx="824.1" cy="337.9" r="7.2"/><circle cx="824.7" cy="337.9" r="7.2"/><circle cx="827.0" cy="337.9" r="7.2"/><circle cx="830.7" cy="337.9" r="7.2"/><circle cx="832.0" cy="337.9" r="7.2"/><circle cx="835.2" cy="337.9" r="7.2"/><circle cx="835.7" cy="337.9" r="7.2"/><circle cx="836.3" cy="337.9" r="7.2"/><circle cx="838.8" cy="337.9" r="7.2"/><circle cx="840.9" cy="337.9" r="7.2"/><circle cx="841.2" cy="337.9" r="7.2"/><circle cx="843.5" cy="337.9" r="7.2"/><circle cx="844.1" cy="337.9" r="7.2"/><circle cx="844.8" cy="337.9" r="7.2"/><circle cx="846.2" cy="337.9" r="7.2"/><circle cx="846.8" cy="337.9" r="7.2"/><circle cx="847.2" cy="337.9" r="7.2"/><circle cx="848.1" cy="337.9" r="7.2"/><circle cx="848.6" cy="337.9" r="7.2"/><circle cx="853.8" cy="337.9" r="7.2"/><circle cx="854.1" cy="337.9" r="7.2"/><circle cx="857.5" cy="337.9" r="7.2"/><circle cx="857.9" cy="337.9" r="7.2"/><circle cx="858.2" cy="337.9" r="7.2"/><circle cx="862.3" cy="337.9" r="7.2"/><circle cx="862.5" cy="337.9" r="7.2"/><circle cx="863.5" cy="337.9" r="7.2"/><circle cx="864.8" cy="337.9" r="7.2"/><circle cx="870.4" cy="337.9" r="7.2"/><circle cx="870.8" cy="337.9" r="7.2"/><circle cx="871.5" cy="337.9" r="7.2"/><circle cx="872.3" cy="337.9" r="7.2"/><circle cx="877.0" cy="337.9" r="7.2"/><circle cx="879.4" cy="337.9" r="7.2"/><circle cx="882.5" cy="337.9" r="7.2"/><circle cx="882.6" cy="337.9" r="7.2"/><circle cx="884.4" cy="337.9" r="7.2"/><circle cx="885.3" cy="337.9" r="7.2"/><circle cx="887.4" cy="337.9" r="7.2"/><circle cx="887.6" cy="337.9" r="7.2"/><circle cx="892.1" cy="337.9" r="7.2"/><circle cx="895.0" cy="337.9" r="7.2"/><circle cx="898.2" cy="337.9" r="7.2"/><circle cx="898.7" cy="337.9" r="7.2"/><circle cx="906.7" cy="337.9" r="7.2"/><circle cx="907.2" cy="337.9" r="7.2"/><circle cx="915.3" cy="337.9" r="7.2"/><circle cx="916.8" cy="337.9" r="7.2"/><circle cx="922.1" cy="337.9" r="7.2"/><circle cx="928.4" cy="337.9" r="7.2"/><circle cx="930.2" cy="337.9" r="7.2"/><circle cx="932.2" cy="337.9" r="7.2"/><circle cx="933.2" cy="337.9" r="7.2"/><circle cx="937.3" cy="337.9" r="7.2"/><circle cx="698.2" cy="332.2" r="7.2"/><circle cx="702.6" cy="332.2" r="7.2"/><circle cx="709.9" cy="332.2" r="7.2"/><circle cx="715.2" cy="332.2" r="7.2"/><circle cx="719.1" cy="332.2" r="7.2"/><circle cx="720.2" cy="332.2" r="7.2"/><circle cx="722.8" cy="332.2" r="7.2"/><circle cx="727.5" cy="332.2" r="7.2"/><circle cx="728.4" cy="332.2" r="7.2"/><circle cx="731.7" cy="332.2" r="7.2"/><circle cx="733.3" cy="332.2" r="7.2"/><circle cx="734.3" cy="332.2" r="7.2"/><circle cx="734.5" cy="332.2" r="7.2"/><circle cx="735.4" cy="332.2" r="7.2"/><circle cx="735.8" cy="332.2" r="7.2"/><circle cx="736.4" cy="332.2" r="7.2"/><circle cx="736.8" cy="332.2" r="7.2"/><circle cx="737.9" cy="332.2" r="7.2"/><circle cx="738.8" cy="332.2" r="7.2"/><circle cx="739.7" cy="332.2" r="7.2"/><circle cx="743.6" cy="332.2" r="7.2"/><circle cx="744.6" cy="332.2" r="7.2"/><circle cx="745.2" cy="332.2" r="7.2"/><circle cx="746.9" cy="332.2" r="7.2"/><circle cx="749.6" cy="332.2" r="7.2"/><circle cx="751.6" cy="332.2" r="7.2"/><circle cx="752.8" cy="332.2" r="7.2"/><circle cx="753.3" cy="332.2" r="7.2"/><circle cx="755.1" cy="332.2" r="7.2"/><circle cx="756.3" cy="332.2" r="7.2"/><circle cx="760.7" cy="332.2" r="7.2"/><circle cx="761.4" cy="332.2" r="7.2"/><circle cx="763.0" cy="332.2" r="7.2"/><circle cx="764.8" cy="332.2" r="7.2"/><circle cx="766.0" cy="332.2" r="7.2"/><circle cx="767.6" cy="332.2" r="7.2"/><circle cx="769.0" cy="332.2" r="7.2"/><circle cx="769.6" cy="332.2" r="7.2"/><circle cx="772.7" cy="332.2" r="7.2"/><circle cx="773.2" cy="332.2" r="7.2"/><circle cx="776.1" cy="332.2" r="7.2"/><circle cx="776.5" cy="332.2" r="7.2"/><circle cx="777.5" cy="332.2" r="7.2"/><circle cx="779.0" cy="332.2" r="7.2"/><circle cx="779.1" cy="332.2" r="7.2"/><circle cx="780.4" cy="332.2" r="7.2"/><circle cx="780.7" cy="332.2" r="7.2"/><circle cx="781.1" cy="332.2" r="7.2"/><circle cx="781.9" cy="332.2" r="7.2"/><circle cx="783.5" cy="332.2" r="7.2"/><circle cx="784.0" cy="332.2" r="7.2"/><circle cx="787.1" cy="332.2" r="7.2"/><circle cx="789.1" cy="332.2" r="7.2"/><circle cx="790.0" cy="332.2" r="7.2"/><circle cx="790.3" cy="332.2" r="7.2"/><circle cx="791.0" cy="332.2" r="7.2"/><circle cx="791.7" cy="332.2" r="7.2"/><circle cx="792.3" cy="332.2" r="7.2"/><circle cx="792.6" cy="332.2" r="7.2"/><circle cx="793.4" cy="332.2" r="7.2"/><circle cx="793.5" cy="332.2" r="7.2"/><circle cx="794.6" cy="332.2" r="7.2"/><circle cx="797.0" cy="332.2" r="7.2"/><circle cx="799.0" cy="332.2" r="7.2"/><circle cx="802.3" cy="332.2" r="7.2"/><circle cx="803.9" cy="332.2" r="7.2"/><circle cx="804.2" cy="332.2" r="7.2"/><circle cx="805.7" cy="332.2" r="7.2"/><circle cx="806.8" cy="332.2" r="7.2"/><circle cx="807.5" cy="332.2" r="7.2"/><circle cx="809.6" cy="332.2" r="7.2"/><circle cx="810.8" cy="332.2" r="7.2"/><circle cx="812.7" cy="332.2" r="7.2"/><circle cx="814.4" cy="332.2" r="7.2"/><circle cx="815.3" cy="332.2" r="7.2"/><circle cx="816.0" cy="332.2" r="7.2"/><circle cx="816.5" cy="332.2" r="7.2"/><circle cx="817.8" cy="332.2" r="7.2"/><circle cx="818.2" cy="332.2" r="7.2"/><circle cx="818.9" cy="332.2" r="7.2"/><circle cx="820.5" cy="332.2" r="7.2"/><circle cx="821.2" cy="332.2" r="7.2"/><circle cx="824.0" cy="332.2" r="7.2"/><circle cx="828.4" cy="332.2" r="7.2"/><circle cx="830.0" cy="332.2" r="7.2"/><circle cx="831.6" cy="332.2" r="7.2"/><circle cx="836.9" cy="332.2" r="7.2"/><circle cx="837.8" cy="332.2" r="7.2"/><circle cx="839.1" cy="332.2" r="7.2"/><circle cx="842.5" cy="332.2" r="7.2"/><circle cx="846.8" cy="332.2" r="7.2"/><circle cx="848.9" cy="332.2" r="7.2"/><circle cx="855.3" cy="332.2" r="7.2"/><circle cx="856.6" cy="332.2" r="7.2"/><circle cx="864.8" cy="332.2" r="7.2"/><circle cx="866.5" cy="332.2" r="7.2"/><circle cx="867.0" cy="332.2" r="7.2"/><circle cx="868.3" cy="332.2" r="7.2"/><circle cx="869.3" cy="332.2" r="7.2"/><circle cx="870.6" cy="332.2" r="7.2"/><circle cx="871.5" cy="332.2" r="7.2"/><circle cx="873.5" cy="332.2" r="7.2"/><circle cx="876.6" cy="332.2" r="7.2"/><circle cx="884.4" cy="332.2" r="7.2"/><circle cx="884.6" cy="332.2" r="7.2"/><circle cx="885.1" cy="332.2" r="7.2"/><circle cx="885.9" cy="332.2" r="7.2"/><circle cx="887.8" cy="332.2" r="7.2"/><circle cx="888.6" cy="332.2" r="7.2"/><circle cx="891.0" cy="332.2" r="7.2"/><circle cx="894.6" cy="332.2" r="7.2"/><circle cx="895.8" cy="332.2" r="7.2"/><circle cx="897.8" cy="332.2" r="7.2"/><circle cx="898.6" cy="332.2" r="7.2"/><circle cx="907.4" cy="332.2" r="7.2"/><circle cx="909.4" cy="332.2" r="7.2"/><circle cx="909.9" cy="332.2" r="7.2"/><circle cx="911.0" cy="332.2" r="7.2"/><circle cx="913.8" cy="332.2" r="7.2"/><circle cx="929.1" cy="332.2" r="7.2"/><circle cx="934.4" cy="332.2" r="7.2"/><circle cx="956.4" cy="332.2" r="7.2"/><circle cx="707.2" cy="326.6" r="7.2"/><circle cx="726.6" cy="326.6" r="7.2"/><circle cx="728.5" cy="326.6" r="7.2"/><circle cx="729.5" cy="326.6" r="7.2"/><circle cx="730.2" cy="326.6" r="7.2"/><circle cx="732.8" cy="326.6" r="7.2"/><circle cx="735.4" cy="326.6" r="7.2"/><circle cx="742.0" cy="326.6" r="7.2"/><circle cx="742.3" cy="326.6" r="7.2"/><circle cx="743.7" cy="326.6" r="7.2"/><circle cx="744.4" cy="326.6" r="7.2"/><circle cx="747.1" cy="326.6" r="7.2"/><circle cx="747.7" cy="326.6" r="7.2"/><circle cx="748.4" cy="326.6" r="7.2"/><circle cx="749.8" cy="326.6" r="7.2"/><circle cx="752.9" cy="326.6" r="7.2"/><circle cx="753.5" cy="326.6" r="7.2"/><circle cx="755.4" cy="326.6" r="7.2"/><circle cx="755.9" cy="326.6" r="7.2"/><circle cx="757.5" cy="326.6" r="7.2"/><circle cx="761.3" cy="326.6" r="7.2"/><circle cx="761.5" cy="326.6" r="7.2"/><circle cx="762.2" cy="326.6" r="7.2"/><circle cx="762.7" cy="326.6" r="7.2"/><circle cx="763.8" cy="326.6" r="7.2"/><circle cx="764.2" cy="326.6" r="7.2"/><circle cx="766.4" cy="326.6" r="7.2"/><circle cx="766.9" cy="326.6" r="7.2"/><circle cx="768.4" cy="326.6" r="7.2"/><circle cx="768.6" cy="326.6" r="7.2"/><circle cx="771.9" cy="326.6" r="7.2"/><circle cx="772.7" cy="326.6" r="7.2"/><circle cx="773.7" cy="326.6" r="7.2"/><circle cx="775.4" cy="326.6" r="7.2"/><circle cx="776.7" cy="326.6" r="7.2"/><circle cx="777.5" cy="326.6" r="7.2"/><circle cx="778.5" cy="326.6" r="7.2"/><circle cx="778.7" cy="326.6" r="7.2"/><circle cx="780.7" cy="326.6" r="7.2"/><circle cx="782.8" cy="326.6" r="7.2"/><circle cx="783.2" cy="326.6" r="7.2"/><circle cx="783.8" cy="326.6" r="7.2"/><circle cx="784.2" cy="326.6" r="7.2"/><circle cx="784.8" cy="326.6" r="7.2"/><circle cx="785.5" cy="326.6" r="7.2"/><circle cx="789.5" cy="326.6" r="7.2"/><circle cx="791.0" cy="326.6" r="7.2"/><circle cx="791.8" cy="326.6" r="7.2"/><circle cx="795.8" cy="326.6" r="7.2"/><circle cx="798.0" cy="326.6" r="7.2"/><circle cx="799.0" cy="326.6" r="7.2"/><circle cx="801.0" cy="326.6" r="7.2"/><circle cx="801.6" cy="326.6" r="7.2"/><circle cx="802.5" cy="326.6" r="7.2"/><circle cx="803.2" cy="326.6" r="7.2"/><circle cx="804.2" cy="326.6" r="7.2"/><circle cx="804.9" cy="326.6" r="7.2"/><circle cx="805.5" cy="326.6" r="7.2"/><circle cx="807.5" cy="326.6" r="7.2"/><circle cx="808.1" cy="326.6" r="7.2"/><circle cx="808.9" cy="326.6" r="7.2"/><circle cx="812.3" cy="326.6" r="7.2"/><circle cx="812.7" cy="326.6" r="7.2"/><circle cx="813.3" cy="326.6" r="7.2"/><circle cx="814.6" cy="326.6" r="7.2"/><circle cx="815.1" cy="326.6" r="7.2"/><circle cx="818.2" cy="326.6" r="7.2"/><circle cx="819.4" cy="326.6" r="7.2"/><circle cx="823.0" cy="326.6" r="7.2"/><circle cx="823.7" cy="326.6" r="7.2"/><circle cx="824.0" cy="326.6" r="7.2"/><circle cx="825.5" cy="326.6" r="7.2"/><circle cx="826.4" cy="326.6" r="7.2"/><circle cx="828.7" cy="326.6" r="7.2"/><circle cx="830.1" cy="326.6" r="7.2"/><circle cx="831.4" cy="326.6" r="7.2"/><circle cx="833.7" cy="326.6" r="7.2"/><circle cx="835.0" cy="326.6" r="7.2"/><circle cx="835.7" cy="326.6" r="7.2"/><circle cx="837.7" cy="326.6" r="7.2"/><circle cx="839.0" cy="326.6" r="7.2"/><circle cx="839.6" cy="326.6" r="7.2"/><circle cx="841.1" cy="326.6" r="7.2"/><circle cx="843.7" cy="326.6" r="7.2"/><circle cx="844.2" cy="326.6" r="7.2"/><circle cx="844.9" cy="326.6" r="7.2"/><circle cx="846.2" cy="326.6" r="7.2"/><circle cx="847.5" cy="326.6" r="7.2"/><circle cx="848.5" cy="326.6" r="7.2"/><circle cx="849.1" cy="326.6" r="7.2"/><circle cx="849.6" cy="326.6" r="7.2"/><circle cx="850.1" cy="326.6" r="7.2"/><circle cx="850.6" cy="326.6" r="7.2"/><circle cx="853.7" cy="326.6" r="7.2"/><circle cx="856.0" cy="326.6" r="7.2"/><circle cx="857.7" cy="326.6" r="7.2"/><circle cx="858.4" cy="326.6" r="7.2"/><circle cx="859.3" cy="326.6" r="7.2"/><circle cx="859.9" cy="326.6" r="7.2"/><circle cx="860.4" cy="326.6" r="7.2"/><circle cx="860.9" cy="326.6" r="7.2"/><circle cx="861.1" cy="326.6" r="7.2"/><circle cx="861.5" cy="326.6" r="7.2"/><circle cx="862.3" cy="326.6" r="7.2"/><circle cx="863.8" cy="326.6" r="7.2"/><circle cx="864.8" cy="326.6" r="7.2"/><circle cx="866.9" cy="326.6" r="7.2"/><circle cx="867.7" cy="326.6" r="7.2"/><circle cx="872.5" cy="326.6" r="7.2"/><circle cx="874.7" cy="326.6" r="7.2"/><circle cx="875.8" cy="326.6" r="7.2"/><circle cx="881.8" cy="326.6" r="7.2"/><circle cx="882.4" cy="326.6" r="7.2"/><circle cx="883.3" cy="326.6" r="7.2"/><circle cx="884.1" cy="326.6" r="7.2"/><circle cx="885.4" cy="326.6" r="7.2"/><circle cx="887.0" cy="326.6" r="7.2"/><circle cx="887.7" cy="326.6" r="7.2"/><circle cx="888.6" cy="326.6" r="7.2"/><circle cx="892.0" cy="326.6" r="7.2"/><circle cx="894.8" cy="326.6" r="7.2"/><circle cx="896.1" cy="326.6" r="7.2"/><circle cx="905.2" cy="326.6" r="7.2"/><circle cx="910.1" cy="326.6" r="7.2"/><circle cx="912.3" cy="326.6" r="7.2"/><circle cx="915.3" cy="326.6" r="7.2"/><circle cx="917.4" cy="326.6" r="7.2"/><circle cx="922.8" cy="326.6" r="7.2"/><circle cx="934.3" cy="326.6" r="7.2"/><circle cx="945.1" cy="326.6" r="7.2"/><circle cx="959.2" cy="326.6" r="7.2"/><circle cx="708.9" cy="321.2" r="7.2"/><circle cx="722.4" cy="321.2" r="7.2"/><circle cx="726.1" cy="321.2" r="7.2"/><circle cx="734.5" cy="321.2" r="7.2"/><circle cx="739.5" cy="321.2" r="7.2"/><circle cx="741.2" cy="321.2" r="7.2"/><circle cx="743.5" cy="321.2" r="7.2"/><circle cx="743.6" cy="321.2" r="7.2"/><circle cx="749.1" cy="321.2" r="7.2"/><circle cx="751.6" cy="321.2" r="7.2"/><circle cx="752.1" cy="321.2" r="7.2"/><circle cx="754.9" cy="321.2" r="7.2"/><circle cx="762.6" cy="321.2" r="7.2"/><circle cx="765.9" cy="321.2" r="7.2"/><circle cx="768.8" cy="321.2" r="7.2"/><circle cx="769.5" cy="321.2" r="7.2"/><circle cx="771.0" cy="321.2" r="7.2"/><circle cx="771.4" cy="321.2" r="7.2"/><circle cx="775.0" cy="321.2" r="7.2"/><circle cx="775.8" cy="321.2" r="7.2"/><circle cx="776.4" cy="321.2" r="7.2"/><circle cx="776.8" cy="321.2" r="7.2"/><circle cx="777.0" cy="321.2" r="7.2"/><circle cx="777.8" cy="321.2" r="7.2"/><circle cx="779.2" cy="321.2" r="7.2"/><circle cx="780.2" cy="321.2" r="7.2"/><circle cx="783.0" cy="321.2" r="7.2"/><circle cx="784.6" cy="321.2" r="7.2"/><circle cx="785.4" cy="321.2" r="7.2"/><circle cx="786.3" cy="321.2" r="7.2"/><circle cx="787.6" cy="321.2" r="7.2"/><circle cx="788.6" cy="321.2" r="7.2"/><circle cx="789.9" cy="321.2" r="7.2"/><circle cx="791.2" cy="321.2" r="7.2"/><circle cx="792.5" cy="321.2" r="7.2"/><circle cx="795.4" cy="321.2" r="7.2"/><circle cx="795.8" cy="321.2" r="7.2"/><circle cx="799.2" cy="321.2" r="7.2"/><circle cx="800.0" cy="321.2" r="7.2"/><circle cx="802.2" cy="321.2" r="7.2"/><circle cx="803.0" cy="321.2" r="7.2"/><circle cx="803.7" cy="321.2" r="7.2"/><circle cx="807.2" cy="321.2" r="7.2"/><circle cx="808.4" cy="321.2" r="7.2"/><circle cx="813.3" cy="321.2" r="7.2"/><circle cx="814.7" cy="321.2" r="7.2"/><circle cx="817.1" cy="321.2" r="7.2"/><circle cx="818.1" cy="321.2" r="7.2"/><circle cx="818.7" cy="321.2" r="7.2"/><circle cx="820.3" cy="321.2" r="7.2"/><circle cx="822.3" cy="321.2" r="7.2"/><circle cx="822.6" cy="321.2" r="7.2"/><circle cx="823.2" cy="321.2" r="7.2"/><circle cx="824.2" cy="321.2" r="7.2"/><circle cx="826.5" cy="321.2" r="7.2"/><circle cx="831.3" cy="321.2" r="7.2"/><circle cx="831.8" cy="321.2" r="7.2"/><circle cx="835.7" cy="321.2" r="7.2"/><circle cx="836.1" cy="321.2" r="7.2"/><circle cx="839.0" cy="321.2" r="7.2"/><circle cx="839.3" cy="321.2" r="7.2"/><circle cx="844.0" cy="321.2" r="7.2"/><circle cx="845.6" cy="321.2" r="7.2"/><circle cx="850.9" cy="321.2" r="7.2"/><circle cx="852.5" cy="321.2" r="7.2"/><circle cx="856.9" cy="321.2" r="7.2"/><circle cx="858.4" cy="321.2" r="7.2"/><circle cx="859.5" cy="321.2" r="7.2"/><circle cx="859.8" cy="321.2" r="7.2"/><circle cx="861.3" cy="321.2" r="7.2"/><circle cx="864.7" cy="321.2" r="7.2"/><circle cx="866.0" cy="321.2" r="7.2"/><circle cx="866.5" cy="321.2" r="7.2"/><circle cx="869.5" cy="321.2" r="7.2"/><circle cx="872.3" cy="321.2" r="7.2"/><circle cx="872.7" cy="321.2" r="7.2"/><circle cx="874.3" cy="321.2" r="7.2"/><circle cx="876.7" cy="321.2" r="7.2"/><circle cx="878.9" cy="321.2" r="7.2"/><circle cx="881.9" cy="321.2" r="7.2"/><circle cx="883.1" cy="321.2" r="7.2"/><circle cx="890.8" cy="321.2" r="7.2"/><circle cx="891.6" cy="321.2" r="7.2"/><circle cx="893.6" cy="321.2" r="7.2"/><circle cx="900.8" cy="321.2" r="7.2"/><circle cx="901.7" cy="321.2" r="7.2"/><circle cx="904.2" cy="321.2" r="7.2"/><circle cx="905.1" cy="321.2" r="7.2"/><circle cx="905.5" cy="321.2" r="7.2"/><circle cx="906.1" cy="321.2" r="7.2"/><circle cx="935.7" cy="321.2" r="7.2"/><circle cx="943.0" cy="321.2" r="7.2"/><circle cx="950.9" cy="321.2" r="7.2"/><circle cx="724.4" cy="316.0" r="7.2"/><circle cx="733.8" cy="316.0" r="7.2"/><circle cx="736.8" cy="316.0" r="7.2"/><circle cx="746.5" cy="316.0" r="7.2"/><circle cx="748.9" cy="316.0" r="7.2"/><circle cx="749.0" cy="316.0" r="7.2"/><circle cx="750.1" cy="316.0" r="7.2"/><circle cx="752.7" cy="316.0" r="7.2"/><circle cx="754.5" cy="316.0" r="7.2"/><circle cx="755.1" cy="316.0" r="7.2"/><circle cx="760.0" cy="316.0" r="7.2"/><circle cx="761.5" cy="316.0" r="7.2"/><circle cx="761.7" cy="316.0" r="7.2"/><circle cx="763.8" cy="316.0" r="7.2"/><circle cx="764.5" cy="316.0" r="7.2"/><circle cx="764.6" cy="316.0" r="7.2"/><circle cx="766.5" cy="316.0" r="7.2"/><circle cx="771.4" cy="316.0" r="7.2"/><circle cx="776.3" cy="316.0" r="7.2"/><circle cx="776.9" cy="316.0" r="7.2"/><circle cx="784.5" cy="316.0" r="7.2"/><circle cx="787.1" cy="316.0" r="7.2"/><circle cx="787.5" cy="316.0" r="7.2"/><circle cx="790.8" cy="316.0" r="7.2"/><circle cx="793.7" cy="316.0" r="7.2"/><circle cx="794.8" cy="316.0" r="7.2"/><circle cx="798.8" cy="316.0" r="7.2"/><circle cx="805.6" cy="316.0" r="7.2"/><circle cx="807.2" cy="316.0" r="7.2"/><circle cx="809.5" cy="316.0" r="7.2"/><circle cx="813.5" cy="316.0" r="7.2"/><circle cx="816.4" cy="316.0" r="7.2"/><circle cx="817.3" cy="316.0" r="7.2"/><circle cx="818.0" cy="316.0" r="7.2"/><circle cx="818.9" cy="316.0" r="7.2"/><circle cx="819.3" cy="316.0" r="7.2"/><circle cx="819.7" cy="316.0" r="7.2"/><circle cx="820.0" cy="316.0" r="7.2"/><circle cx="820.6" cy="316.0" r="7.2"/><circle cx="821.4" cy="316.0" r="7.2"/><circle cx="824.8" cy="316.0" r="7.2"/><circle cx="826.8" cy="316.0" r="7.2"/><circle cx="827.4" cy="316.0" r="7.2"/><circle cx="830.3" cy="316.0" r="7.2"/><circle cx="834.9" cy="316.0" r="7.2"/><circle cx="835.1" cy="316.0" r="7.2"/><circle cx="835.7" cy="316.0" r="7.2"/><circle cx="839.3" cy="316.0" r="7.2"/><circle cx="839.7" cy="316.0" r="7.2"/><circle cx="842.6" cy="316.0" r="7.2"/><circle cx="844.7" cy="316.0" r="7.2"/><circle cx="845.3" cy="316.0" r="7.2"/><circle cx="845.9" cy="316.0" r="7.2"/><circle cx="846.8" cy="316.0" r="7.2"/><circle cx="847.2" cy="316.0" r="7.2"/><circle cx="850.5" cy="316.0" r="7.2"/><circle cx="851.0" cy="316.0" r="7.2"/><circle cx="851.9" cy="316.0" r="7.2"/><circle cx="853.0" cy="316.0" r="7.2"/><circle cx="854.8" cy="316.0" r="7.2"/><circle cx="860.9" cy="316.0" r="7.2"/><circle cx="863.1" cy="316.0" r="7.2"/><circle cx="865.0" cy="316.0" r="7.2"/><circle cx="869.6" cy="316.0" r="7.2"/><circle cx="870.3" cy="316.0" r="7.2"/><circle cx="870.9" cy="316.0" r="7.2"/><circle cx="871.3" cy="316.0" r="7.2"/><circle cx="872.6" cy="316.0" r="7.2"/><circle cx="873.5" cy="316.0" r="7.2"/><circle cx="874.3" cy="316.0" r="7.2"/><circle cx="877.2" cy="316.0" r="7.2"/><circle cx="879.9" cy="316.0" r="7.2"/><circle cx="881.9" cy="316.0" r="7.2"/><circle cx="883.0" cy="316.0" r="7.2"/><circle cx="884.5" cy="316.0" r="7.2"/><circle cx="886.0" cy="316.0" r="7.2"/><circle cx="886.8" cy="316.0" r="7.2"/><circle cx="887.3" cy="316.0" r="7.2"/><circle cx="888.5" cy="316.0" r="7.2"/><circle cx="888.7" cy="316.0" r="7.2"/><circle cx="896.7" cy="316.0" r="7.2"/><circle cx="897.7" cy="316.0" r="7.2"/><circle cx="898.6" cy="316.0" r="7.2"/><circle cx="918.0" cy="316.0" r="7.2"/><circle cx="921.3" cy="316.0" r="7.2"/><circle cx="927.7" cy="316.0" r="7.2"/><circle cx="934.0" cy="316.0" r="7.2"/><circle cx="935.0" cy="316.0" r="7.2"/><circle cx="949.1" cy="316.0" r="7.2"/><circle cx="949.5" cy="316.0" r="7.2"/><circle cx="951.6" cy="316.0" r="7.2"/><circle cx="965.2" cy="316.0" r="7.2"/><circle cx="718.3" cy="310.9" r="7.2"/><circle cx="733.5" cy="310.9" r="7.2"/><circle cx="734.8" cy="310.9" r="7.2"/><circle cx="740.9" cy="310.9" r="7.2"/><circle cx="741.4" cy="310.9" r="7.2"/><circle cx="743.9" cy="310.9" r="7.2"/><circle cx="744.7" cy="310.9" r="7.2"/><circle cx="748.8" cy="310.9" r="7.2"/><circle cx="750.2" cy="310.9" r="7.2"/><circle cx="751.3" cy="310.9" r="7.2"/><circle cx="752.1" cy="310.9" r="7.2"/><circle cx="752.9" cy="310.9" r="7.2"/><circle cx="753.1" cy="310.9" r="7.2"/><circle cx="754.5" cy="310.9" r="7.2"/><circle cx="757.1" cy="310.9" r="7.2"/><circle cx="758.3" cy="310.9" r="7.2"/><circle cx="760.2" cy="310.9" r="7.2"/><circle cx="762.3" cy="310.9" r="7.2"/><circle cx="764.8" cy="310.9" r="7.2"/><circle cx="765.7" cy="310.9" r="7.2"/><circle cx="770.5" cy="310.9" r="7.2"/><circle cx="771.6" cy="310.9" r="7.2"/><circle cx="772.0" cy="310.9" r="7.2"/><circle cx="775.1" cy="310.9" r="7.2"/><circle cx="777.3" cy="310.9" r="7.2"/><circle cx="780.4" cy="310.9" r="7.2"/><circle cx="781.8" cy="310.9" r="7.2"/><circle cx="784.4" cy="310.9" r="7.2"/><circle cx="787.0" cy="310.9" r="7.2"/><circle cx="787.8" cy="310.9" r="7.2"/><circle cx="789.3" cy="310.9" r="7.2"/><circle cx="795.6" cy="310.9" r="7.2"/><circle cx="796.2" cy="310.9" r="7.2"/><circle cx="799.6" cy="310.9" r="7.2"/><circle cx="800.0" cy="310.9" r="7.2"/><circle cx="800.7" cy="310.9" r="7.2"/><circle cx="801.9" cy="310.9" r="7.2"/><circle cx="805.4" cy="310.9" r="7.2"/><circle cx="805.8" cy="310.9" r="7.2"/><circle cx="806.6" cy="310.9" r="7.2"/><circle cx="819.0" cy="310.9" r="7.2"/><circle cx="821.5" cy="310.9" r="7.2"/><circle cx="822.0" cy="310.9" r="7.2"/><circle cx="822.1" cy="310.9" r="7.2"/><circle cx="823.4" cy="310.9" r="7.2"/><circle cx="825.3" cy="310.9" r="7.2"/><circle cx="825.8" cy="310.9" r="7.2"/><circle cx="826.7" cy="310.9" r="7.2"/><circle cx="827.4" cy="310.9" r="7.2"/><circle cx="827.9" cy="310.9" r="7.2"/><circle cx="828.1" cy="310.9" r="7.2"/><circle cx="828.6" cy="310.9" r="7.2"/><circle cx="829.6" cy="310.9" r="7.2"/><circle cx="830.5" cy="310.9" r="7.2"/><circle cx="831.4" cy="310.9" r="7.2"/><circle cx="832.4" cy="310.9" r="7.2"/><circle cx="832.7" cy="310.9" r="7.2"/><circle cx="835.4" cy="310.9" r="7.2"/><circle cx="837.7" cy="310.9" r="7.2"/><circle cx="838.0" cy="310.9" r="7.2"/><circle cx="839.4" cy="310.9" r="7.2"/><circle cx="841.5" cy="310.9" r="7.2"/><circle cx="842.7" cy="310.9" r="7.2"/><circle cx="843.9" cy="310.9" r="7.2"/><circle cx="845.4" cy="310.9" r="7.2"/><circle cx="845.8" cy="310.9" r="7.2"/><circle cx="846.2" cy="310.9" r="7.2"/><circle cx="846.8" cy="310.9" r="7.2"/><circle cx="849.5" cy="310.9" r="7.2"/><circle cx="852.7" cy="310.9" r="7.2"/><circle cx="853.3" cy="310.9" r="7.2"/><circle cx="854.3" cy="310.9" r="7.2"/><circle cx="857.9" cy="310.9" r="7.2"/><circle cx="861.3" cy="310.9" r="7.2"/><circle cx="862.2" cy="310.9" r="7.2"/><circle cx="863.0" cy="310.9" r="7.2"/><circle cx="863.7" cy="310.9" r="7.2"/><circle cx="864.8" cy="310.9" r="7.2"/><circle cx="867.3" cy="310.9" r="7.2"/><circle cx="868.4" cy="310.9" r="7.2"/><circle cx="869.7" cy="310.9" r="7.2"/><circle cx="872.1" cy="310.9" r="7.2"/><circle cx="875.3" cy="310.9" r="7.2"/><circle cx="876.1" cy="310.9" r="7.2"/><circle cx="878.3" cy="310.9" r="7.2"/><circle cx="881.7" cy="310.9" r="7.2"/><circle cx="882.2" cy="310.9" r="7.2"/><circle cx="884.7" cy="310.9" r="7.2"/><circle cx="885.3" cy="310.9" r="7.2"/><circle cx="891.2" cy="310.9" r="7.2"/><circle cx="894.0" cy="310.9" r="7.2"/><circle cx="894.8" cy="310.9" r="7.2"/><circle cx="896.9" cy="310.9" r="7.2"/><circle cx="900.8" cy="310.9" r="7.2"/><circle cx="902.1" cy="310.9" r="7.2"/><circle cx="904.5" cy="310.9" r="7.2"/><circle cx="905.4" cy="310.9" r="7.2"/><circle cx="906.6" cy="310.9" r="7.2"/><circle cx="910.5" cy="310.9" r="7.2"/><circle cx="913.2" cy="310.9" r="7.2"/><circle cx="913.8" cy="310.9" r="7.2"/><circle cx="915.0" cy="310.9" r="7.2"/><circle cx="932.1" cy="310.9" r="7.2"/><circle cx="937.2" cy="310.9" r="7.2"/><circle cx="948.2" cy="310.9" r="7.2"/><circle cx="954.3" cy="310.9" r="7.2"/><circle cx="733.5" cy="306.0" r="7.2"/><circle cx="738.1" cy="306.0" r="7.2"/><circle cx="747.9" cy="306.0" r="7.2"/><circle cx="750.2" cy="306.0" r="7.2"/><circle cx="751.4" cy="306.0" r="7.2"/><circle cx="752.5" cy="306.0" r="7.2"/><circle cx="753.1" cy="306.0" r="7.2"/><circle cx="757.2" cy="306.0" r="7.2"/><circle cx="758.2" cy="306.0" r="7.2"/><circle cx="759.9" cy="306.0" r="7.2"/><circle cx="760.4" cy="306.0" r="7.2"/><circle cx="762.1" cy="306.0" r="7.2"/><circle cx="763.1" cy="306.0" r="7.2"/><circle cx="763.9" cy="306.0" r="7.2"/><circle cx="764.4" cy="306.0" r="7.2"/><circle cx="766.6" cy="306.0" r="7.2"/><circle cx="769.8" cy="306.0" r="7.2"/><circle cx="771.6" cy="306.0" r="7.2"/><circle cx="772.5" cy="306.0" r="7.2"/><circle cx="773.5" cy="306.0" r="7.2"/><circle cx="776.2" cy="306.0" r="7.2"/><circle cx="777.8" cy="306.0" r="7.2"/><circle cx="778.9" cy="306.0" r="7.2"/><circle cx="779.5" cy="306.0" r="7.2"/><circle cx="779.9" cy="306.0" r="7.2"/><circle cx="783.8" cy="306.0" r="7.2"/><circle cx="785.3" cy="306.0" r="7.2"/><circle cx="786.8" cy="306.0" r="7.2"/><circle cx="787.3" cy="306.0" r="7.2"/><circle cx="791.3" cy="306.0" r="7.2"/><circle cx="792.0" cy="306.0" r="7.2"/><circle cx="795.3" cy="306.0" r="7.2"/><circle cx="797.3" cy="306.0" r="7.2"/><circle cx="799.1" cy="306.0" r="7.2"/><circle cx="800.7" cy="306.0" r="7.2"/><circle cx="801.8" cy="306.0" r="7.2"/><circle cx="803.3" cy="306.0" r="7.2"/><circle cx="804.7" cy="306.0" r="7.2"/><circle cx="805.8" cy="306.0" r="7.2"/><circle cx="806.1" cy="306.0" r="7.2"/><circle cx="806.9" cy="306.0" r="7.2"/><circle cx="807.5" cy="306.0" r="7.2"/><circle cx="811.1" cy="306.0" r="7.2"/><circle cx="811.9" cy="306.0" r="7.2"/><circle cx="812.1" cy="306.0" r="7.2"/><circle cx="815.0" cy="306.0" r="7.2"/><circle cx="815.8" cy="306.0" r="7.2"/><circle cx="817.5" cy="306.0" r="7.2"/><circle cx="821.8" cy="306.0" r="7.2"/><circle cx="822.2" cy="306.0" r="7.2"/><circle cx="826.0" cy="306.0" r="7.2"/><circle cx="830.4" cy="306.0" r="7.2"/><circle cx="831.1" cy="306.0" r="7.2"/><circle cx="832.3" cy="306.0" r="7.2"/><circle cx="832.9" cy="306.0" r="7.2"/><circle cx="833.4" cy="306.0" r="7.2"/><circle cx="835.5" cy="306.0" r="7.2"/><circle cx="837.2" cy="306.0" r="7.2"/><circle cx="841.2" cy="306.0" r="7.2"/><circle cx="842.9" cy="306.0" r="7.2"/><circle cx="848.4" cy="306.0" r="7.2"/><circle cx="849.0" cy="306.0" r="7.2"/><circle cx="849.6" cy="306.0" r="7.2"/><circle cx="851.5" cy="306.0" r="7.2"/><circle cx="852.6" cy="306.0" r="7.2"/><circle cx="856.4" cy="306.0" r="7.2"/><circle cx="862.7" cy="306.0" r="7.2"/><circle cx="864.5" cy="306.0" r="7.2"/><circle cx="865.0" cy="306.0" r="7.2"/><circle cx="865.6" cy="306.0" r="7.2"/><circle cx="866.5" cy="306.0" r="7.2"/><circle cx="866.7" cy="306.0" r="7.2"/><circle cx="867.5" cy="306.0" r="7.2"/><circle cx="868.8" cy="306.0" r="7.2"/><circle cx="869.9" cy="306.0" r="7.2"/><circle cx="870.6" cy="306.0" r="7.2"/><circle cx="875.6" cy="306.0" r="7.2"/><circle cx="876.7" cy="306.0" r="7.2"/><circle cx="877.1" cy="306.0" r="7.2"/><circle cx="878.5" cy="306.0" r="7.2"/><circle cx="879.1" cy="306.0" r="7.2"/><circle cx="880.8" cy="306.0" r="7.2"/><circle cx="881.3" cy="306.0" r="7.2"/><circle cx="882.7" cy="306.0" r="7.2"/><circle cx="883.5" cy="306.0" r="7.2"/><circle cx="884.6" cy="306.0" r="7.2"/><circle cx="887.3" cy="306.0" r="7.2"/><circle cx="887.7" cy="306.0" r="7.2"/><circle cx="889.1" cy="306.0" r="7.2"/><circle cx="890.7" cy="306.0" r="7.2"/><circle cx="895.6" cy="306.0" r="7.2"/><circle cx="896.1" cy="306.0" r="7.2"/><circle cx="896.8" cy="306.0" r="7.2"/><circle cx="906.7" cy="306.0" r="7.2"/><circle cx="907.9" cy="306.0" r="7.2"/><circle cx="909.9" cy="306.0" r="7.2"/><circle cx="915.0" cy="306.0" r="7.2"/><circle cx="933.5" cy="306.0" r="7.2"/><circle cx="956.3" cy="306.0" r="7.2"/><circle cx="731.7" cy="301.2" r="7.2"/><circle cx="740.8" cy="301.2" r="7.2"/><circle cx="744.9" cy="301.2" r="7.2"/><circle cx="749.7" cy="301.2" r="7.2"/><circle cx="751.0" cy="301.2" r="7.2"/><circle cx="753.5" cy="301.2" r="7.2"/><circle cx="757.6" cy="301.2" r="7.2"/><circle cx="763.0" cy="301.2" r="7.2"/><circle cx="768.4" cy="301.2" r="7.2"/><circle cx="769.4" cy="301.2" r="7.2"/><circle cx="770.1" cy="301.2" r="7.2"/><circle cx="777.0" cy="301.2" r="7.2"/><circle cx="778.3" cy="301.2" r="7.2"/><circle cx="779.3" cy="301.2" r="7.2"/><circle cx="780.7" cy="301.2" r="7.2"/><circle cx="783.2" cy="301.2" r="7.2"/><circle cx="783.9" cy="301.2" r="7.2"/><circle cx="784.9" cy="301.2" r="7.2"/><circle cx="786.2" cy="301.2" r="7.2"/><circle cx="789.6" cy="301.2" r="7.2"/><circle cx="798.7" cy="301.2" r="7.2"/><circle cx="800.2" cy="301.2" r="7.2"/><circle cx="802.7" cy="301.2" r="7.2"/><circle cx="805.4" cy="301.2" r="7.2"/><circle cx="805.8" cy="301.2" r="7.2"/><circle cx="806.7" cy="301.2" r="7.2"/><circle cx="807.6" cy="301.2" r="7.2"/><circle cx="808.0" cy="301.2" r="7.2"/><circle cx="809.2" cy="301.2" r="7.2"/><circle cx="811.0" cy="301.2" r="7.2"/><circle cx="816.3" cy="301.2" r="7.2"/><circle cx="816.8" cy="301.2" r="7.2"/><circle cx="819.9" cy="301.2" r="7.2"/><circle cx="821.0" cy="301.2" r="7.2"/><circle cx="822.5" cy="301.2" r="7.2"/><circle cx="823.1" cy="301.2" r="7.2"/><circle cx="823.7" cy="301.2" r="7.2"/><circle cx="825.6" cy="301.2" r="7.2"/><circle cx="828.6" cy="301.2" r="7.2"/><circle cx="830.8" cy="301.2" r="7.2"/><circle cx="832.9" cy="301.2" r="7.2"/><circle cx="833.2" cy="301.2" r="7.2"/><circle cx="834.0" cy="301.2" r="7.2"/><circle cx="837.3" cy="301.2" r="7.2"/><circle cx="838.5" cy="301.2" r="7.2"/><circle cx="839.8" cy="301.2" r="7.2"/><circle cx="840.7" cy="301.2" r="7.2"/><circle cx="844.8" cy="301.2" r="7.2"/><circle cx="845.0" cy="301.2" r="7.2"/><circle cx="850.7" cy="301.2" r="7.2"/><circle cx="852.0" cy="301.2" r="7.2"/><circle cx="852.1" cy="301.2" r="7.2"/><circle cx="855.5" cy="301.2" r="7.2"/><circle cx="856.1" cy="301.2" r="7.2"/><circle cx="857.8" cy="301.2" r="7.2"/><circle cx="858.4" cy="301.2" r="7.2"/><circle cx="861.1" cy="301.2" r="7.2"/><circle cx="865.0" cy="301.2" r="7.2"/><circle cx="868.9" cy="301.2" r="7.2"/><circle cx="869.4" cy="301.2" r="7.2"/><circle cx="871.2" cy="301.2" r="7.2"/><circle cx="871.9" cy="301.2" r="7.2"/><circle cx="872.8" cy="301.2" r="7.2"/><circle cx="874.1" cy="301.2" r="7.2"/><circle cx="875.8" cy="301.2" r="7.2"/><circle cx="876.3" cy="301.2" r="7.2"/><circle cx="878.1" cy="301.2" r="7.2"/><circle cx="878.7" cy="301.2" r="7.2"/><circle cx="883.1" cy="301.2" r="7.2"/><circle cx="884.2" cy="301.2" r="7.2"/><circle cx="884.9" cy="301.2" r="7.2"/><circle cx="888.5" cy="301.2" r="7.2"/><circle cx="891.4" cy="301.2" r="7.2"/><circle cx="892.5" cy="301.2" r="7.2"/><circle cx="893.7" cy="301.2" r="7.2"/><circle cx="895.2" cy="301.2" r="7.2"/><circle cx="899.2" cy="301.2" r="7.2"/><circle cx="900.7" cy="301.2" r="7.2"/><circle cx="913.5" cy="301.2" r="7.2"/><circle cx="914.3" cy="301.2" r="7.2"/><circle cx="917.4" cy="301.2" r="7.2"/><circle cx="920.1" cy="301.2" r="7.2"/><circle cx="926.7" cy="301.2" r="7.2"/><circle cx="932.5" cy="301.2" r="7.2"/><circle cx="934.9" cy="301.2" r="7.2"/><circle cx="935.2" cy="301.2" r="7.2"/><circle cx="936.6" cy="301.2" r="7.2"/><circle cx="943.4" cy="301.2" r="7.2"/><circle cx="962.0" cy="301.2" r="7.2"/><circle cx="963.8" cy="301.2" r="7.2"/><circle cx="735.6" cy="296.5" r="7.2"/><circle cx="743.2" cy="296.5" r="7.2"/><circle cx="744.9" cy="296.5" r="7.2"/><circle cx="748.6" cy="296.5" r="7.2"/><circle cx="750.3" cy="296.5" r="7.2"/><circle cx="750.9" cy="296.5" r="7.2"/><circle cx="753.2" cy="296.5" r="7.2"/><circle cx="757.6" cy="296.5" r="7.2"/><circle cx="760.2" cy="296.5" r="7.2"/><circle cx="766.7" cy="296.5" r="7.2"/><circle cx="767.2" cy="296.5" r="7.2"/><circle cx="770.9" cy="296.5" r="7.2"/><circle cx="771.7" cy="296.5" r="7.2"/><circle cx="773.1" cy="296.5" r="7.2"/><circle cx="776.8" cy="296.5" r="7.2"/><circle cx="779.5" cy="296.5" r="7.2"/><circle cx="782.4" cy="296.5" r="7.2"/><circle cx="782.9" cy="296.5" r="7.2"/><circle cx="785.6" cy="296.5" r="7.2"/><circle cx="786.4" cy="296.5" r="7.2"/><circle cx="789.9" cy="296.5" r="7.2"/><circle cx="790.3" cy="296.5" r="7.2"/><circle cx="791.4" cy="296.5" r="7.2"/><circle cx="792.3" cy="296.5" r="7.2"/><circle cx="794.0" cy="296.5" r="7.2"/><circle cx="795.0" cy="296.5" r="7.2"/><circle cx="796.7" cy="296.5" r="7.2"/><circle cx="797.7" cy="296.5" r="7.2"/><circle cx="803.1" cy="296.5" r="7.2"/><circle cx="804.7" cy="296.5" r="7.2"/><circle cx="806.2" cy="296.5" r="7.2"/><circle cx="809.5" cy="296.5" r="7.2"/><circle cx="817.0" cy="296.5" r="7.2"/><circle cx="818.3" cy="296.5" r="7.2"/><circle cx="819.8" cy="296.5" r="7.2"/><circle cx="823.5" cy="296.5" r="7.2"/><circle cx="825.3" cy="296.5" r="7.2"/><circle cx="828.1" cy="296.5" r="7.2"/><circle cx="831.7" cy="296.5" r="7.2"/><circle cx="835.8" cy="296.5" r="7.2"/><circle cx="838.8" cy="296.5" r="7.2"/><circle cx="839.4" cy="296.5" r="7.2"/><circle cx="843.4" cy="296.5" r="7.2"/><circle cx="847.0" cy="296.5" r="7.2"/><circle cx="849.4" cy="296.5" r="7.2"/><circle cx="850.5" cy="296.5" r="7.2"/><circle cx="850.8" cy="296.5" r="7.2"/><circle cx="851.9" cy="296.5" r="7.2"/><circle cx="852.9" cy="296.5" r="7.2"/><circle cx="853.1" cy="296.5" r="7.2"/><circle cx="854.4" cy="296.5" r="7.2"/><circle cx="857.4" cy="296.5" r="7.2"/><circle cx="858.5" cy="296.5" r="7.2"/><circle cx="858.9" cy="296.5" r="7.2"/><circle cx="859.9" cy="296.5" r="7.2"/><circle cx="860.1" cy="296.5" r="7.2"/><circle cx="861.3" cy="296.5" r="7.2"/><circle cx="862.1" cy="296.5" r="7.2"/><circle cx="863.3" cy="296.5" r="7.2"/><circle cx="864.5" cy="296.5" r="7.2"/><circle cx="865.8" cy="296.5" r="7.2"/><circle cx="866.5" cy="296.5" r="7.2"/><circle cx="867.4" cy="296.5" r="7.2"/><circle cx="868.1" cy="296.5" r="7.2"/><circle cx="869.8" cy="296.5" r="7.2"/><circle cx="870.7" cy="296.5" r="7.2"/><circle cx="878.3" cy="296.5" r="7.2"/><circle cx="879.1" cy="296.5" r="7.2"/><circle cx="882.9" cy="296.5" r="7.2"/><circle cx="885.2" cy="296.5" r="7.2"/><circle cx="886.1" cy="296.5" r="7.2"/><circle cx="887.0" cy="296.5" r="7.2"/><circle cx="887.5" cy="296.5" r="7.2"/><circle cx="888.7" cy="296.5" r="7.2"/><circle cx="891.0" cy="296.5" r="7.2"/><circle cx="893.9" cy="296.5" r="7.2"/><circle cx="895.6" cy="296.5" r="7.2"/><circle cx="902.4" cy="296.5" r="7.2"/><circle cx="910.3" cy="296.5" r="7.2"/><circle cx="918.3" cy="296.5" r="7.2"/><circle cx="929.0" cy="296.5" r="7.2"/><circle cx="933.1" cy="296.5" r="7.2"/><circle cx="957.2" cy="296.5" r="7.2"/><circle cx="972.2" cy="296.5" r="7.2"/><circle cx="972.5" cy="296.5" r="7.2"/><circle cx="974.0" cy="296.5" r="7.2"/><circle cx="976.0" cy="296.5" r="7.2"/><circle cx="747.7" cy="291.9" r="7.2"/><circle cx="748.5" cy="291.9" r="7.2"/><circle cx="749.5" cy="291.9" r="7.2"/><circle cx="753.9" cy="291.9" r="7.2"/><circle cx="754.5" cy="291.9" r="7.2"/><circle cx="755.7" cy="291.9" r="7.2"/><circle cx="756.3" cy="291.9" r="7.2"/><circle cx="761.7" cy="291.9" r="7.2"/><circle cx="765.7" cy="291.9" r="7.2"/><circle cx="768.9" cy="291.9" r="7.2"/><circle cx="776.5" cy="291.9" r="7.2"/><circle cx="780.3" cy="291.9" r="7.2"/><circle cx="783.8" cy="291.9" r="7.2"/><circle cx="785.0" cy="291.9" r="7.2"/><circle cx="786.1" cy="291.9" r="7.2"/><circle cx="788.6" cy="291.9" r="7.2"/><circle cx="791.0" cy="291.9" r="7.2"/><circle cx="793.5" cy="291.9" r="7.2"/><circle cx="796.0" cy="291.9" r="7.2"/><circle cx="797.6" cy="291.9" r="7.2"/><circle cx="799.1" cy="291.9" r="7.2"/><circle cx="799.9" cy="291.9" r="7.2"/><circle cx="800.8" cy="291.9" r="7.2"/><circle cx="801.8" cy="291.9" r="7.2"/><circle cx="802.3" cy="291.9" r="7.2"/><circle cx="804.8" cy="291.9" r="7.2"/><circle cx="809.3" cy="291.9" r="7.2"/><circle cx="809.5" cy="291.9" r="7.2"/><circle cx="811.2" cy="291.9" r="7.2"/><circle cx="812.8" cy="291.9" r="7.2"/><circle cx="813.5" cy="291.9" r="7.2"/><circle cx="814.4" cy="291.9" r="7.2"/><circle cx="814.7" cy="291.9" r="7.2"/><circle cx="818.2" cy="291.9" r="7.2"/><circle cx="819.8" cy="291.9" r="7.2"/><circle cx="821.1" cy="291.9" r="7.2"/><circle cx="823.7" cy="291.9" r="7.2"/><circle cx="825.6" cy="291.9" r="7.2"/><circle cx="827.5" cy="291.9" r="7.2"/><circle cx="827.7" cy="291.9" r="7.2"/><circle cx="828.7" cy="291.9" r="7.2"/><circle cx="829.7" cy="291.9" r="7.2"/><circle cx="833.2" cy="291.9" r="7.2"/><circle cx="836.4" cy="291.9" r="7.2"/><circle cx="838.2" cy="291.9" r="7.2"/><circle cx="841.2" cy="291.9" r="7.2"/><circle cx="841.9" cy="291.9" r="7.2"/><circle cx="842.4" cy="291.9" r="7.2"/><circle cx="843.6" cy="291.9" r="7.2"/><circle cx="845.9" cy="291.9" r="7.2"/><circle cx="846.2" cy="291.9" r="7.2"/><circle cx="852.7" cy="291.9" r="7.2"/><circle cx="855.7" cy="291.9" r="7.2"/><circle cx="856.5" cy="291.9" r="7.2"/><circle cx="856.7" cy="291.9" r="7.2"/><circle cx="858.6" cy="291.9" r="7.2"/><circle cx="860.8" cy="291.9" r="7.2"/><circle cx="861.4" cy="291.9" r="7.2"/><circle cx="865.9" cy="291.9" r="7.2"/><circle cx="866.1" cy="291.9" r="7.2"/><circle cx="866.8" cy="291.9" r="7.2"/><circle cx="870.5" cy="291.9" r="7.2"/><circle cx="871.7" cy="291.9" r="7.2"/><circle cx="872.4" cy="291.9" r="7.2"/><circle cx="872.9" cy="291.9" r="7.2"/><circle cx="874.6" cy="291.9" r="7.2"/><circle cx="882.9" cy="291.9" r="7.2"/><circle cx="883.2" cy="291.9" r="7.2"/><circle cx="884.7" cy="291.9" r="7.2"/><circle cx="890.4" cy="291.9" r="7.2"/><circle cx="892.1" cy="291.9" r="7.2"/><circle cx="894.8" cy="291.9" r="7.2"/><circle cx="895.2" cy="291.9" r="7.2"/><circle cx="897.2" cy="291.9" r="7.2"/><circle cx="897.7" cy="291.9" r="7.2"/><circle cx="898.9" cy="291.9" r="7.2"/><circle cx="902.2" cy="291.9" r="7.2"/><circle cx="904.4" cy="291.9" r="7.2"/><circle cx="907.4" cy="291.9" r="7.2"/><circle cx="908.0" cy="291.9" r="7.2"/><circle cx="911.1" cy="291.9" r="7.2"/><circle cx="912.4" cy="291.9" r="7.2"/><circle cx="914.2" cy="291.9" r="7.2"/><circle cx="948.6" cy="291.9" r="7.2"/><circle cx="950.1" cy="291.9" r="7.2"/><circle cx="955.0" cy="291.9" r="7.2"/><circle cx="957.5" cy="291.9" r="7.2"/><circle cx="960.9" cy="291.9" r="7.2"/><circle cx="970.2" cy="291.9" r="7.2"/><circle cx="976.5" cy="291.9" r="7.2"/><circle cx="744.1" cy="287.5" r="7.2"/><circle cx="765.2" cy="287.5" r="7.2"/><circle cx="769.3" cy="287.5" r="7.2"/><circle cx="770.7" cy="287.5" r="7.2"/><circle cx="771.2" cy="287.5" r="7.2"/><circle cx="772.5" cy="287.5" r="7.2"/><circle cx="774.6" cy="287.5" r="7.2"/><circle cx="780.1" cy="287.5" r="7.2"/><circle cx="781.0" cy="287.5" r="7.2"/><circle cx="783.5" cy="287.5" r="7.2"/><circle cx="784.4" cy="287.5" r="7.2"/><circle cx="785.1" cy="287.5" r="7.2"/><circle cx="785.9" cy="287.5" r="7.2"/><circle cx="786.5" cy="287.5" r="7.2"/><circle cx="786.6" cy="287.5" r="7.2"/><circle cx="788.4" cy="287.5" r="7.2"/><circle cx="789.6" cy="287.5" r="7.2"/><circle cx="792.4" cy="287.5" r="7.2"/><circle cx="795.3" cy="287.5" r="7.2"/><circle cx="795.8" cy="287.5" r="7.2"/><circle cx="798.8" cy="287.5" r="7.2"/><circle cx="802.4" cy="287.5" r="7.2"/><circle cx="803.0" cy="287.5" r="7.2"/><circle cx="804.7" cy="287.5" r="7.2"/><circle cx="805.3" cy="287.5" r="7.2"/><circle cx="812.5" cy="287.5" r="7.2"/><circle cx="816.0" cy="287.5" r="7.2"/><circle cx="817.8" cy="287.5" r="7.2"/><circle cx="819.7" cy="287.5" r="7.2"/><circle cx="820.4" cy="287.5" r="7.2"/><circle cx="822.6" cy="287.5" r="7.2"/><circle cx="823.5" cy="287.5" r="7.2"/><circle cx="828.8" cy="287.5" r="7.2"/><circle cx="830.4" cy="287.5" r="7.2"/><circle cx="830.8" cy="287.5" r="7.2"/><circle cx="831.7" cy="287.5" r="7.2"/><circle cx="833.0" cy="287.5" r="7.2"/><circle cx="840.4" cy="287.5" r="7.2"/><circle cx="840.7" cy="287.5" r="7.2"/><circle cx="841.3" cy="287.5" r="7.2"/><circle cx="843.9" cy="287.5" r="7.2"/><circle cx="845.7" cy="287.5" r="7.2"/><circle cx="846.4" cy="287.5" r="7.2"/><circle cx="846.8" cy="287.5" r="7.2"/><circle cx="848.5" cy="287.5" r="7.2"/><circle cx="849.8" cy="287.5" r="7.2"/><circle cx="852.0" cy="287.5" r="7.2"/><circle cx="853.6" cy="287.5" r="7.2"/><circle cx="854.2" cy="287.5" r="7.2"/><circle cx="855.7" cy="287.5" r="7.2"/><circle cx="857.1" cy="287.5" r="7.2"/><circle cx="857.7" cy="287.5" r="7.2"/><circle cx="861.2" cy="287.5" r="7.2"/><circle cx="862.6" cy="287.5" r="7.2"/><circle cx="864.7" cy="287.5" r="7.2"/><circle cx="865.2" cy="287.5" r="7.2"/><circle cx="870.9" cy="287.5" r="7.2"/><circle cx="871.1" cy="287.5" r="7.2"/><circle cx="872.0" cy="287.5" r="7.2"/><circle cx="877.8" cy="287.5" r="7.2"/><circle cx="880.1" cy="287.5" r="7.2"/><circle cx="881.1" cy="287.5" r="7.2"/><circle cx="883.0" cy="287.5" r="7.2"/><circle cx="887.2" cy="287.5" r="7.2"/><circle cx="890.3" cy="287.5" r="7.2"/><circle cx="890.8" cy="287.5" r="7.2"/><circle cx="893.8" cy="287.5" r="7.2"/><circle cx="901.2" cy="287.5" r="7.2"/><circle cx="910.1" cy="287.5" r="7.2"/><circle cx="923.0" cy="287.5" r="7.2"/><circle cx="934.3" cy="287.5" r="7.2"/><circle cx="947.0" cy="287.5" r="7.2"/><circle cx="947.2" cy="287.5" r="7.2"/><circle cx="948.9" cy="287.5" r="7.2"/><circle cx="746.6" cy="283.2" r="7.2"/><circle cx="751.7" cy="283.2" r="7.2"/><circle cx="752.3" cy="283.2" r="7.2"/><circle cx="759.9" cy="283.2" r="7.2"/><circle cx="763.8" cy="283.2" r="7.2"/><circle cx="769.3" cy="283.2" r="7.2"/><circle cx="770.2" cy="283.2" r="7.2"/><circle cx="773.8" cy="283.2" r="7.2"/><circle cx="787.0" cy="283.2" r="7.2"/><circle cx="788.9" cy="283.2" r="7.2"/><circle cx="789.8" cy="283.2" r="7.2"/><circle cx="790.2" cy="283.2" r="7.2"/><circle cx="792.2" cy="283.2" r="7.2"/><circle cx="794.5" cy="283.2" r="7.2"/><circle cx="796.6" cy="283.2" r="7.2"/><circle cx="797.5" cy="283.2" r="7.2"/><circle cx="799.7" cy="283.2" r="7.2"/><circle cx="800.6" cy="283.2" r="7.2"/><circle cx="802.8" cy="283.2" r="7.2"/><circle cx="803.1" cy="283.2" r="7.2"/><circle cx="805.2" cy="283.2" r="7.2"/><circle cx="806.8" cy="283.2" r="7.2"/><circle cx="808.6" cy="283.2" r="7.2"/><circle cx="809.2" cy="283.2" r="7.2"/><circle cx="812.4" cy="283.2" r="7.2"/><circle cx="812.8" cy="283.2" r="7.2"/><circle cx="816.9" cy="283.2" r="7.2"/><circle cx="817.8" cy="283.2" r="7.2"/><circle cx="819.2" cy="283.2" r="7.2"/><circle cx="820.4" cy="283.2" r="7.2"/><circle cx="820.5" cy="283.2" r="7.2"/><circle cx="821.6" cy="283.2" r="7.2"/><circle cx="822.6" cy="283.2" r="7.2"/><circle cx="823.0" cy="283.2" r="7.2"/><circle cx="823.7" cy="283.2" r="7.2"/><circle cx="824.5" cy="283.2" r="7.2"/><circle cx="826.3" cy="283.2" r="7.2"/><circle cx="826.8" cy="283.2" r="7.2"/><circle cx="830.3" cy="283.2" r="7.2"/><circle cx="830.5" cy="283.2" r="7.2"/><circle cx="831.1" cy="283.2" r="7.2"/><circle cx="832.6" cy="283.2" r="7.2"/><circle cx="834.9" cy="283.2" r="7.2"/><circle cx="835.4" cy="283.2" r="7.2"/><circle cx="837.4" cy="283.2" r="7.2"/><circle cx="837.6" cy="283.2" r="7.2"/><circle cx="840.4" cy="283.2" r="7.2"/><circle cx="842.0" cy="283.2" r="7.2"/><circle cx="847.7" cy="283.2" r="7.2"/><circle cx="848.4" cy="283.2" r="7.2"/><circle cx="849.8" cy="283.2" r="7.2"/><circle cx="850.2" cy="283.2" r="7.2"/><circle cx="853.4" cy="283.2" r="7.2"/><circle cx="855.9" cy="283.2" r="7.2"/><circle cx="856.6" cy="283.2" r="7.2"/><circle cx="858.1" cy="283.2" r="7.2"/><circle cx="858.7" cy="283.2" r="7.2"/><circle cx="861.3" cy="283.2" r="7.2"/><circle cx="861.9" cy="283.2" r="7.2"/><circle cx="874.5" cy="283.2" r="7.2"/><circle cx="880.4" cy="283.2" r="7.2"/><circle cx="880.8" cy="283.2" r="7.2"/><circle cx="881.8" cy="283.2" r="7.2"/><circle cx="883.1" cy="283.2" r="7.2"/><circle cx="888.4" cy="283.2" r="7.2"/><circle cx="888.7" cy="283.2" r="7.2"/><circle cx="894.6" cy="283.2" r="7.2"/><circle cx="896.5" cy="283.2" r="7.2"/><circle cx="905.5" cy="283.2" r="7.2"/><circle cx="906.2" cy="283.2" r="7.2"/><circle cx="912.4" cy="283.2" r="7.2"/><circle cx="913.9" cy="283.2" r="7.2"/><circle cx="916.0" cy="283.2" r="7.2"/><circle cx="918.1" cy="283.2" r="7.2"/><circle cx="922.0" cy="283.2" r="7.2"/><circle cx="938.0" cy="283.2" r="7.2"/><circle cx="963.4" cy="283.2" r="7.2"/><circle cx="978.9" cy="283.2" r="7.2"/><circle cx="750.9" cy="279.0" r="7.2"/><circle cx="759.7" cy="279.0" r="7.2"/><circle cx="760.5" cy="279.0" r="7.2"/><circle cx="762.4" cy="279.0" r="7.2"/><circle cx="774.3" cy="279.0" r="7.2"/><circle cx="780.5" cy="279.0" r="7.2"/><circle cx="783.8" cy="279.0" r="7.2"/><circle cx="785.1" cy="279.0" r="7.2"/><circle cx="787.2" cy="279.0" r="7.2"/><circle cx="788.4" cy="279.0" r="7.2"/><circle cx="790.2" cy="279.0" r="7.2"/><circle cx="792.0" cy="279.0" r="7.2"/><circle cx="793.9" cy="279.0" r="7.2"/><circle cx="794.3" cy="279.0" r="7.2"/><circle cx="794.9" cy="279.0" r="7.2"/><circle cx="797.9" cy="279.0" r="7.2"/><circle cx="805.4" cy="279.0" r="7.2"/><circle cx="806.6" cy="279.0" r="7.2"/><circle cx="811.4" cy="279.0" r="7.2"/><circle cx="811.8" cy="279.0" r="7.2"/><circle cx="814.8" cy="279.0" r="7.2"/><circle cx="822.2" cy="279.0" r="7.2"/><circle cx="823.2" cy="279.0" r="7.2"/><circle cx="827.5" cy="279.0" r="7.2"/><circle cx="831.8" cy="279.0" r="7.2"/><circle cx="835.1" cy="279.0" r="7.2"/><circle cx="835.9" cy="279.0" r="7.2"/><circle cx="836.4" cy="279.0" r="7.2"/><circle cx="840.5" cy="279.0" r="7.2"/><circle cx="841.6" cy="279.0" r="7.2"/><circle cx="846.7" cy="279.0" r="7.2"/><circle cx="848.0" cy="279.0" r="7.2"/><circle cx="857.3" cy="279.0" r="7.2"/><circle cx="858.0" cy="279.0" r="7.2"/><circle cx="858.4" cy="279.0" r="7.2"/><circle cx="859.4" cy="279.0" r="7.2"/><circle cx="860.9" cy="279.0" r="7.2"/><circle cx="867.6" cy="279.0" r="7.2"/><circle cx="869.6" cy="279.0" r="7.2"/><circle cx="874.1" cy="279.0" r="7.2"/><circle cx="876.3" cy="279.0" r="7.2"/><circle cx="880.7" cy="279.0" r="7.2"/><circle cx="891.4" cy="279.0" r="7.2"/><circle cx="892.7" cy="279.0" r="7.2"/><circle cx="897.0" cy="279.0" r="7.2"/><circle cx="897.4" cy="279.0" r="7.2"/><circle cx="902.1" cy="279.0" r="7.2"/><circle cx="915.8" cy="279.0" r="7.2"/><circle cx="921.8" cy="279.0" r="7.2"/><circle cx="928.0" cy="279.0" r="7.2"/><circle cx="931.0" cy="279.0" r="7.2"/><circle cx="947.1" cy="279.0" r="7.2"/><circle cx="959.8" cy="279.0" r="7.2"/><circle cx="968.5" cy="279.0" r="7.2"/><circle cx="980.2" cy="279.0" r="7.2"/><circle cx="768.5" cy="274.8" r="7.2"/><circle cx="787.2" cy="274.8" r="7.2"/><circle cx="788.5" cy="274.8" r="7.2"/><circle cx="790.0" cy="274.8" r="7.2"/><circle cx="790.8" cy="274.8" r="7.2"/><circle cx="792.9" cy="274.8" r="7.2"/><circle cx="794.2" cy="274.8" r="7.2"/><circle cx="799.3" cy="274.8" r="7.2"/><circle cx="802.2" cy="274.8" r="7.2"/><circle cx="808.2" cy="274.8" r="7.2"/><circle cx="810.1" cy="274.8" r="7.2"/><circle cx="813.8" cy="274.8" r="7.2"/><circle cx="814.3" cy="274.8" r="7.2"/><circle cx="815.4" cy="274.8" r="7.2"/><circle cx="815.9" cy="274.8" r="7.2"/><circle cx="819.9" cy="274.8" r="7.2"/><circle cx="820.5" cy="274.8" r="7.2"/><circle cx="822.6" cy="274.8" r="7.2"/><circle cx="825.4" cy="274.8" r="7.2"/><circle cx="827.5" cy="274.8" r="7.2"/><circle cx="828.3" cy="274.8" r="7.2"/><circle cx="830.0" cy="274.8" r="7.2"/><circle cx="830.3" cy="274.8" r="7.2"/><circle cx="833.2" cy="274.8" r="7.2"/><circle cx="833.8" cy="274.8" r="7.2"/><circle cx="834.3" cy="274.8" r="7.2"/><circle cx="834.9" cy="274.8" r="7.2"/><circle cx="835.5" cy="274.8" r="7.2"/><circle cx="837.0" cy="274.8" r="7.2"/><circle cx="837.7" cy="274.8" r="7.2"/><circle cx="838.1" cy="274.8" r="7.2"/><circle cx="839.6" cy="274.8" r="7.2"/><circle cx="841.8" cy="274.8" r="7.2"/><circle cx="843.6" cy="274.8" r="7.2"/><circle cx="844.0" cy="274.8" r="7.2"/><circle cx="847.0" cy="274.8" r="7.2"/><circle cx="847.7" cy="274.8" r="7.2"/><circle cx="848.8" cy="274.8" r="7.2"/><circle cx="849.0" cy="274.8" r="7.2"/><circle cx="850.7" cy="274.8" r="7.2"/><circle cx="852.8" cy="274.8" r="7.2"/><circle cx="855.9" cy="274.8" r="7.2"/><circle cx="858.3" cy="274.8" r="7.2"/><circle cx="862.5" cy="274.8" r="7.2"/><circle cx="864.6" cy="274.8" r="7.2"/><circle cx="866.1" cy="274.8" r="7.2"/><circle cx="868.6" cy="274.8" r="7.2"/><circle cx="869.1" cy="274.8" r="7.2"/><circle cx="870.4" cy="274.8" r="7.2"/><circle cx="873.1" cy="274.8" r="7.2"/><circle cx="877.2" cy="274.8" r="7.2"/><circle cx="880.1" cy="274.8" r="7.2"/><circle cx="886.1" cy="274.8" r="7.2"/><circle cx="888.0" cy="274.8" r="7.2"/><circle cx="888.4" cy="274.8" r="7.2"/><circle cx="890.2" cy="274.8" r="7.2"/><circle cx="896.6" cy="274.8" r="7.2"/><circle cx="902.5" cy="274.8" r="7.2"/><circle cx="910.0" cy="274.8" r="7.2"/><circle cx="927.0" cy="274.8" r="7.2"/><circle cx="960.8" cy="274.8" r="7.2"/><circle cx="972.8" cy="274.8" r="7.2"/><circle cx="973.5" cy="274.8" r="7.2"/><circle cx="986.0" cy="274.8" r="7.2"/><circle cx="757.3" cy="270.8" r="7.2"/><circle cx="776.1" cy="270.8" r="7.2"/><circle cx="787.3" cy="270.8" r="7.2"/><circle cx="788.6" cy="270.8" r="7.2"/><circle cx="793.0" cy="270.8" r="7.2"/><circle cx="801.8" cy="270.8" r="7.2"/><circle cx="804.4" cy="270.8" r="7.2"/><circle cx="805.0" cy="270.8" r="7.2"/><circle cx="807.6" cy="270.8" r="7.2"/><circle cx="817.8" cy="270.8" r="7.2"/><circle cx="818.6" cy="270.8" r="7.2"/><circle cx="819.9" cy="270.8" r="7.2"/><circle cx="820.3" cy="270.8" r="7.2"/><circle cx="821.7" cy="270.8" r="7.2"/><circle cx="828.2" cy="270.8" r="7.2"/><circle cx="830.2" cy="270.8" r="7.2"/><circle cx="834.1" cy="270.8" r="7.2"/><circle cx="836.2" cy="270.8" r="7.2"/><circle cx="836.6" cy="270.8" r="7.2"/><circle cx="841.4" cy="270.8" r="7.2"/><circle cx="843.3" cy="270.8" r="7.2"/><circle cx="846.8" cy="270.8" r="7.2"/><circle cx="848.9" cy="270.8" r="7.2"/><circle cx="856.7" cy="270.8" r="7.2"/><circle cx="863.0" cy="270.8" r="7.2"/><circle cx="863.6" cy="270.8" r="7.2"/><circle cx="866.8" cy="270.8" r="7.2"/><circle cx="871.8" cy="270.8" r="7.2"/><circle cx="878.8" cy="270.8" r="7.2"/><circle cx="880.9" cy="270.8" r="7.2"/><circle cx="887.4" cy="270.8" r="7.2"/><circle cx="887.5" cy="270.8" r="7.2"/><circle cx="896.4" cy="270.8" r="7.2"/><circle cx="897.6" cy="270.8" r="7.2"/><circle cx="903.8" cy="270.8" r="7.2"/><circle cx="905.2" cy="270.8" r="7.2"/><circle cx="928.5" cy="270.8" r="7.2"/><circle cx="938.9" cy="270.8" r="7.2"/><circle cx="949.3" cy="270.8" r="7.2"/><circle cx="965.0" cy="270.8" r="7.2"/><circle cx="761.1" cy="266.9" r="7.2"/><circle cx="779.2" cy="266.9" r="7.2"/><circle cx="791.9" cy="266.9" r="7.2"/><circle cx="798.1" cy="266.9" r="7.2"/><circle cx="803.8" cy="266.9" r="7.2"/><circle cx="809.2" cy="266.9" r="7.2"/><circle cx="815.2" cy="266.9" r="7.2"/><circle cx="820.3" cy="266.9" r="7.2"/><circle cx="824.9" cy="266.9" r="7.2"/><circle cx="828.0" cy="266.9" r="7.2"/><circle cx="831.4" cy="266.9" r="7.2"/><circle cx="834.3" cy="266.9" r="7.2"/><circle cx="834.8" cy="266.9" r="7.2"/><circle cx="849.9" cy="266.9" r="7.2"/><circle cx="856.5" cy="266.9" r="7.2"/><circle cx="861.5" cy="266.9" r="7.2"/><circle cx="862.1" cy="266.9" r="7.2"/><circle cx="867.4" cy="266.9" r="7.2"/><circle cx="867.7" cy="266.9" r="7.2"/><circle cx="879.5" cy="266.9" r="7.2"/><circle cx="879.6" cy="266.9" r="7.2"/><circle cx="890.9" cy="266.9" r="7.2"/><circle cx="893.8" cy="266.9" r="7.2"/><circle cx="907.7" cy="266.9" r="7.2"/><circle cx="913.1" cy="266.9" r="7.2"/><circle cx="947.3" cy="266.9" r="7.2"/><circle cx="979.0" cy="266.9" r="7.2"/><circle cx="979.5" cy="266.9" r="7.2"/><circle cx="758.9" cy="263.0" r="7.2"/><circle cx="762.8" cy="263.0" r="7.2"/><circle cx="768.0" cy="263.0" r="7.2"/><circle cx="788.1" cy="263.0" r="7.2"/><circle cx="794.7" cy="263.0" r="7.2"/><circle cx="800.8" cy="263.0" r="7.2"/><circle cx="808.3" cy="263.0" r="7.2"/><circle cx="815.7" cy="263.0" r="7.2"/><circle cx="817.8" cy="263.0" r="7.2"/><circle cx="821.1" cy="263.0" r="7.2"/><circle cx="829.6" cy="263.0" r="7.2"/><circle cx="832.9" cy="263.0" r="7.2"/><circle cx="834.3" cy="263.0" r="7.2"/><circle cx="834.5" cy="263.0" r="7.2"/><circle cx="840.3" cy="263.0" r="7.2"/><circle cx="843.5" cy="263.0" r="7.2"/><circle cx="848.3" cy="263.0" r="7.2"/><circle cx="863.9" cy="263.0" r="7.2"/><circle cx="866.7" cy="263.0" r="7.2"/><circle cx="869.1" cy="263.0" r="7.2"/><circle cx="875.5" cy="263.0" r="7.2"/><circle cx="891.0" cy="263.0" r="7.2"/><circle cx="905.2" cy="263.0" r="7.2"/><circle cx="911.8" cy="263.0" r="7.2"/><circle cx="953.6" cy="263.0" r="7.2"/><circle cx="955.6" cy="263.0" r="7.2"/><circle cx="956.1" cy="263.0" r="7.2"/><circle cx="970.8" cy="263.0" r="7.2"/><circle cx="810.7" cy="259.2" r="7.2"/><circle cx="820.0" cy="259.2" r="7.2"/><circle cx="823.6" cy="259.2" r="7.2"/><circle cx="824.1" cy="259.2" r="7.2"/><circle cx="831.8" cy="259.2" r="7.2"/><circle cx="833.0" cy="259.2" r="7.2"/><circle cx="842.1" cy="259.2" r="7.2"/><circle cx="847.3" cy="259.2" r="7.2"/><circle cx="849.0" cy="259.2" r="7.2"/><circle cx="850.3" cy="259.2" r="7.2"/><circle cx="852.8" cy="259.2" r="7.2"/><circle cx="872.9" cy="259.2" r="7.2"/><circle cx="875.9" cy="259.2" r="7.2"/><circle cx="880.0" cy="259.2" r="7.2"/><circle cx="880.8" cy="259.2" r="7.2"/><circle cx="892.1" cy="259.2" r="7.2"/><circle cx="897.2" cy="259.2" r="7.2"/><circle cx="902.9" cy="259.2" r="7.2"/><circle cx="906.5" cy="259.2" r="7.2"/><circle cx="927.1" cy="259.2" r="7.2"/><circle cx="933.4" cy="259.2" r="7.2"/><circle cx="964.3" cy="259.2" r="7.2"/><circle cx="979.4" cy="259.2" r="7.2"/><circle cx="980.8" cy="259.2" r="7.2"/><circle cx="758.9" cy="255.6" r="7.2"/><circle cx="790.9" cy="255.6" r="7.2"/><circle cx="801.6" cy="255.6" r="7.2"/><circle cx="803.1" cy="255.6" r="7.2"/><circle cx="804.6" cy="255.6" r="7.2"/><circle cx="813.7" cy="255.6" r="7.2"/><circle cx="818.6" cy="255.6" r="7.2"/><circle cx="836.1" cy="255.6" r="7.2"/><circle cx="837.2" cy="255.6" r="7.2"/><circle cx="839.5" cy="255.6" r="7.2"/><circle cx="849.4" cy="255.6" r="7.2"/><circle cx="858.3" cy="255.6" r="7.2"/><circle cx="858.9" cy="255.6" r="7.2"/><circle cx="868.0" cy="255.6" r="7.2"/><circle cx="871.1" cy="255.6" r="7.2"/><circle cx="885.9" cy="255.6" r="7.2"/><circle cx="888.9" cy="255.6" r="7.2"/><circle cx="896.8" cy="255.6" r="7.2"/><circle cx="904.2" cy="255.6" r="7.2"/><circle cx="906.5" cy="255.6" r="7.2"/><circle cx="922.5" cy="255.6" r="7.2"/><circle cx="926.4" cy="255.6" r="7.2"/><circle cx="930.9" cy="255.6" r="7.2"/><circle cx="931.3" cy="255.6" r="7.2"/><circle cx="943.3" cy="255.6" r="7.2"/><circle cx="944.2" cy="255.6" r="7.2"/><circle cx="949.9" cy="255.6" r="7.2"/><circle cx="962.5" cy="255.6" r="7.2"/><circle cx="967.4" cy="255.6" r="7.2"/><circle cx="971.3" cy="255.6" r="7.2"/><circle cx="984.8" cy="255.6" r="7.2"/><circle cx="780.3" cy="251.9" r="7.2"/><circle cx="786.0" cy="251.9" r="7.2"/><circle cx="789.2" cy="251.9" r="7.2"/><circle cx="793.1" cy="251.9" r="7.2"/><circle cx="794.6" cy="251.9" r="7.2"/><circle cx="821.2" cy="251.9" r="7.2"/><circle cx="826.6" cy="251.9" r="7.2"/><circle cx="842.9" cy="251.9" r="7.2"/><circle cx="850.6" cy="251.9" r="7.2"/><circle cx="853.1" cy="251.9" r="7.2"/><circle cx="890.5" cy="251.9" r="7.2"/><circle cx="902.5" cy="251.9" r="7.2"/><circle cx="921.1" cy="251.9" r="7.2"/><circle cx="927.4" cy="251.9" r="7.2"/><circle cx="938.7" cy="251.9" r="7.2"/><circle cx="942.9" cy="251.9" r="7.2"/><circle cx="944.4" cy="251.9" r="7.2"/><circle cx="949.1" cy="251.9" r="7.2"/><circle cx="964.8" cy="251.9" r="7.2"/><circle cx="978.0" cy="251.9" r="7.2"/><circle cx="983.5" cy="251.9" r="7.2"/><circle cx="823.8" cy="248.4" r="7.2"/><circle cx="826.4" cy="248.4" r="7.2"/><circle cx="831.5" cy="248.4" r="7.2"/><circle cx="831.7" cy="248.4" r="7.2"/><circle cx="833.6" cy="248.4" r="7.2"/><circle cx="875.1" cy="248.4" r="7.2"/><circle cx="876.3" cy="248.4" r="7.2"/><circle cx="877.8" cy="248.4" r="7.2"/><circle cx="897.3" cy="248.4" r="7.2"/><circle cx="898.5" cy="248.4" r="7.2"/><circle cx="903.3" cy="248.4" r="7.2"/><circle cx="905.0" cy="248.4" r="7.2"/><circle cx="923.5" cy="248.4" r="7.2"/><circle cx="945.1" cy="248.4" r="7.2"/><circle cx="950.9" cy="248.4" r="7.2"/><circle cx="836.0" cy="244.9" r="7.2"/><circle cx="845.3" cy="244.9" r="7.2"/><circle cx="863.8" cy="244.9" r="7.2"/><circle cx="869.8" cy="244.9" r="7.2"/><circle cx="872.9" cy="244.9" r="7.2"/><circle cx="884.5" cy="244.9" r="7.2"/><circle cx="891.3" cy="244.9" r="7.2"/><circle cx="894.8" cy="244.9" r="7.2"/><circle cx="896.3" cy="244.9" r="7.2"/><circle cx="900.2" cy="244.9" r="7.2"/><circle cx="901.9" cy="244.9" r="7.2"/><circle cx="914.0" cy="244.9" r="7.2"/><circle cx="921.6" cy="244.9" r="7.2"/><circle cx="933.3" cy="244.9" r="7.2"/><circle cx="960.8" cy="244.9" r="7.2"/><circle cx="964.7" cy="244.9" r="7.2"/><circle cx="977.2" cy="244.9" r="7.2"/><circle cx="813.0" cy="241.5" r="7.2"/><circle cx="861.1" cy="241.5" r="7.2"/><circle cx="875.6" cy="241.5" r="7.2"/><circle cx="878.0" cy="241.5" r="7.2"/><circle cx="885.4" cy="241.5" r="7.2"/><circle cx="889.1" cy="241.5" r="7.2"/><circle cx="892.7" cy="241.5" r="7.2"/><circle cx="893.6" cy="241.5" r="7.2"/><circle cx="909.6" cy="241.5" r="7.2"/><circle cx="922.7" cy="241.5" r="7.2"/><circle cx="932.0" cy="241.5" r="7.2"/><circle cx="940.0" cy="241.5" r="7.2"/><circle cx="945.4" cy="241.5" r="7.2"/><circle cx="947.9" cy="241.5" r="7.2"/><circle cx="972.9" cy="241.5" r="7.2"/><circle cx="983.8" cy="241.5" r="7.2"/><circle cx="785.3" cy="238.2" r="7.2"/><circle cx="798.7" cy="238.2" r="7.2"/><circle cx="805.5" cy="238.2" r="7.2"/><circle cx="849.6" cy="238.2" r="7.2"/><circle cx="858.0" cy="238.2" r="7.2"/><circle cx="869.2" cy="238.2" r="7.2"/><circle cx="878.5" cy="238.2" r="7.2"/><circle cx="887.3" cy="238.2" r="7.2"/><circle cx="892.7" cy="238.2" r="7.2"/><circle cx="908.6" cy="238.2" r="7.2"/><circle cx="914.8" cy="238.2" r="7.2"/><circle cx="948.5" cy="238.2" r="7.2"/><circle cx="972.6" cy="238.2" r="7.2"/><circle cx="813.3" cy="234.9" r="7.2"/><circle cx="818.4" cy="234.9" r="7.2"/><circle cx="882.1" cy="234.9" r="7.2"/><circle cx="917.5" cy="234.9" r="7.2"/><circle cx="930.6" cy="234.9" r="7.2"/><circle cx="957.7" cy="234.9" r="7.2"/><circle cx="958.2" cy="234.9" r="7.2"/><circle cx="961.1" cy="234.9" r="7.2"/><circle cx="824.7" cy="231.7" r="7.2"/><circle cx="826.3" cy="231.7" r="7.2"/><circle cx="861.2" cy="231.7" r="7.2"/><circle cx="875.9" cy="231.7" r="7.2"/><circle cx="887.6" cy="231.7" r="7.2"/><circle cx="857.2" cy="228.5" r="7.2"/><circle cx="926.8" cy="228.5" r="7.2"/><circle cx="939.9" cy="228.5" r="7.2"/><circle cx="942.1" cy="228.5" r="7.2"/><circle cx="817.0" cy="225.4" r="7.2"/><circle cx="828.6" cy="225.4" r="7.2"/><circle cx="861.2" cy="225.4" r="7.2"/><circle cx="872.1" cy="225.4" r="7.2"/><circle cx="879.7" cy="225.4" r="7.2"/><circle cx="905.2" cy="225.4" r="7.2"/><circle cx="916.9" cy="225.4" r="7.2"/><circle cx="930.8" cy="225.4" r="7.2"/><circle cx="945.8" cy="225.4" r="7.2"/><circle cx="971.3" cy="225.4" r="7.2"/><circle cx="989.6" cy="225.4" r="7.2"/><circle cx="824.9" cy="222.4" r="7.2"/><circle cx="911.5" cy="222.4" r="7.2"/><circle cx="955.3" cy="222.4" r="7.2"/><circle cx="968.8" cy="222.4" r="7.2"/><circle cx="981.3" cy="222.4" r="7.2"/><circle cx="876.9" cy="219.4" r="7.2"/><circle cx="819.1" cy="216.4" r="7.2"/><circle cx="908.2" cy="216.4" r="7.2"/><circle cx="918.2" cy="216.4" r="7.2"/><circle cx="935.7" cy="216.4" r="7.2"/><circle cx="999.1" cy="216.4" r="7.2"/><circle cx="836.3" cy="213.5" r="7.2"/><circle cx="866.0" cy="213.5" r="7.2"/><circle cx="879.3" cy="213.5" r="7.2"/><circle cx="936.6" cy="213.5" r="7.2"/><circle cx="957.5" cy="210.7" r="7.2"/><circle cx="992.6" cy="210.7" r="7.2"/><circle cx="867.4" cy="207.9" r="7.2"/>
</g>
<g fill="none" stroke="#000" stroke-width="2" stroke-linecap="round" stroke-linejoin="round">
<path d="M161.80 764.16H1183.90M161.80 764.16v19.2M312.50 764.16v19.2M426.50 764.16v19.2M540.50 764.16v19.2M691.20 764.16v19.2M805.20 764.16v19.2M919.20 764.16v19.2M1069.90 764.16v19.2M1183.90 764.16v19.2M157.44 654.04V250.47M157.44 654.04h-19.2M157.44 493.45h-19.2M157.44 371.96h-19.2M157.44 250.47h-19.2"/>
<rect x="157.44" y="157.44" width="1105.92" height="606.72"/>
</g>
<g>
<text x="130.30 148.30 157.30 175.30" y="833.3">0.02</text>
<text x="281.00 299.00 308.00 326.00" y="833.3">0.05</text>
<text x="395.00 413.00 422.00 440.00" y="833.3">0.10</text>
<text x="509.00 527.00 536.00 554.00" y="833.3">0.20</text>
<text x="659.70 677.70 686.70 704.70" y="833.3">0.50</text>
<text x="773.70 791.70 800.70 818.70" y="833.3">1.00</text>
<text x="887.70 905.70 914.70 932.70" y="833.3">2.00</text>
<text x="1038.40 1056.40 1065.40 1083.40" y="833.3">5.00</text>
<text x="1143.40 1161.40 1179.40 1188.40 1206.40" y="833.3">10.00</text>
<text transform="translate(111.4 654.04) rotate(-90)" x="-22.50 -4.50 4.50" y="0">0.2</text>
<text transform="translate(111.4 493.45) rotate(-90)" x="-22.50 -4.50 4.50" y="0">0.5</text>
<text transform="translate(111.4 371.96) rotate(-90)" x="-22.50 -4.50 4.50" y="0">1.0</text>
<text transform="translate(111.4 250.47) rotate(-90)" x="-22.50 -4.50 4.50" y="0">2.0</text>
<text x="483.90 510.90 528.90 546.90 553.90 571.90 589.90 600.90 618.90 636.90 652.90 670.90 688.90 697.90 713.90 720.90 736.90 754.90 763.90 772.90 790.90 806.90 815.90 833.90 844.90 860.90 869.90 880.90 889.90 907.90 925.90" y="910.1">median-based size factors (tag)</text>
<text transform="translate(34.6 461.6) rotate(-90)" x="-175.00 -152.13 -134.23 -116.34 -107.39 -96.45 -78.55 -71.59 -62.64 -46.73 -39.77 -23.86 -5.97 2.98 11.93 29.83 45.74 54.69 72.59 83.52 99.43 108.38 119.32 128.27 146.16 164.06" y="0">Control size factors (tag)</text>
</g>
<path clip-path="url(#c)" d="M431.21 770.54L1020 143.05" fill="none" stroke="#bebebe" stroke-width="2" stroke-dasharray="8 8" stroke-linecap="round"/>
</svg></body></html>
